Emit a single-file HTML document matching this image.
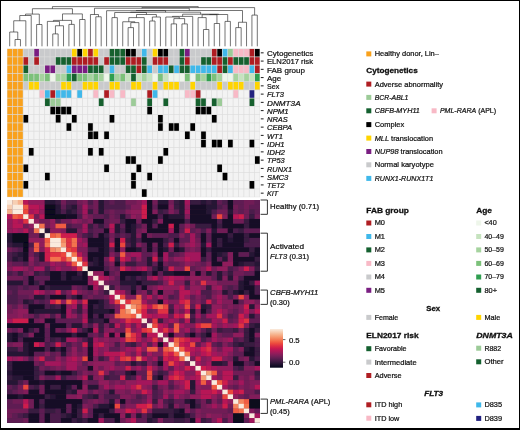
<!DOCTYPE html>
<html lang="en"><head><meta charset="utf-8"><title>Figure</title>
<style>
html,body{margin:0;padding:0;background:#fff;}
body{width:520px;height:430px;overflow:hidden;}
svg{display:block;font-family:"Liberation Sans",sans-serif;fill:#111;}
text{stroke:#111;stroke-width:.22px;}
</style></head><body>
<svg width="520" height="430" viewBox="0 0 520 430">
<defs><filter id="bl" x="-2%" y="-2%" width="104%" height="104%"><feGaussianBlur stdDeviation="0.4"/></filter></defs>
<rect x="7.0" y="48.6" width="253.0" height="148.6" fill="#DCDCDC"/>
<g filter="url(#bl)">
<rect x="7.35" y="48.95" width="4.68" height="7.56" fill="#F9A11B"/>
<rect x="12.73" y="48.95" width="4.68" height="7.56" fill="#F9A11B"/>
<rect x="18.12" y="48.95" width="4.68" height="7.56" fill="#F9A11B"/>
<rect x="23.50" y="48.95" width="4.68" height="7.56" fill="#C9CACC"/>
<rect x="28.88" y="48.95" width="4.68" height="7.56" fill="#C9CACC"/>
<rect x="34.26" y="48.95" width="4.68" height="7.56" fill="#7A1F82"/>
<rect x="39.65" y="48.95" width="4.68" height="7.56" fill="#C9CACC"/>
<rect x="45.03" y="48.95" width="4.68" height="7.56" fill="#C9CACC"/>
<rect x="50.41" y="48.95" width="4.68" height="7.56" fill="#C9CACC"/>
<rect x="55.80" y="48.95" width="4.68" height="7.56" fill="#C9CACC"/>
<rect x="61.18" y="48.95" width="4.68" height="7.56" fill="#C9CACC"/>
<rect x="66.56" y="48.95" width="4.68" height="7.56" fill="#C9CACC"/>
<rect x="71.95" y="48.95" width="4.68" height="7.56" fill="#FFD400"/>
<rect x="77.33" y="48.95" width="4.68" height="7.56" fill="#000000"/>
<rect x="82.71" y="48.95" width="4.68" height="7.56" fill="#FFD400"/>
<rect x="88.09" y="48.95" width="4.68" height="7.56" fill="#AF1E23"/>
<rect x="93.48" y="48.95" width="4.68" height="7.56" fill="#FFD400"/>
<rect x="98.86" y="48.95" width="4.68" height="7.56" fill="#C9CACC"/>
<rect x="104.24" y="48.95" width="4.68" height="7.56" fill="#C9CACC"/>
<rect x="109.63" y="48.95" width="4.68" height="7.56" fill="#14602F"/>
<rect x="115.01" y="48.95" width="4.68" height="7.56" fill="#14602F"/>
<rect x="120.39" y="48.95" width="4.68" height="7.56" fill="#14602F"/>
<rect x="125.78" y="48.95" width="4.68" height="7.56" fill="#000000"/>
<rect x="131.16" y="48.95" width="4.68" height="7.56" fill="#000000"/>
<rect x="136.54" y="48.95" width="4.68" height="7.56" fill="#C9CACC"/>
<rect x="141.92" y="48.95" width="4.68" height="7.56" fill="#3FB8EA"/>
<rect x="147.31" y="48.95" width="4.68" height="7.56" fill="#C9CACC"/>
<rect x="152.69" y="48.95" width="4.68" height="7.56" fill="#FFD400"/>
<rect x="158.07" y="48.95" width="4.68" height="7.56" fill="#000000"/>
<rect x="163.46" y="48.95" width="4.68" height="7.56" fill="#000000"/>
<rect x="168.84" y="48.95" width="4.68" height="7.56" fill="#C9CACC"/>
<rect x="174.22" y="48.95" width="4.68" height="7.56" fill="#C9CACC"/>
<rect x="179.61" y="48.95" width="4.68" height="7.56" fill="#14602F"/>
<rect x="184.99" y="48.95" width="4.68" height="7.56" fill="#7A1F82"/>
<rect x="190.37" y="48.95" width="4.68" height="7.56" fill="#C9CACC"/>
<rect x="195.75" y="48.95" width="4.68" height="7.56" fill="#C9CACC"/>
<rect x="201.14" y="48.95" width="4.68" height="7.56" fill="#C9CACC"/>
<rect x="206.52" y="48.95" width="4.68" height="7.56" fill="#C9CACC"/>
<rect x="211.90" y="48.95" width="4.68" height="7.56" fill="#AF1E23"/>
<rect x="217.29" y="48.95" width="4.68" height="7.56" fill="#000000"/>
<rect x="222.67" y="48.95" width="4.68" height="7.56" fill="#3FB8EA"/>
<rect x="228.05" y="48.95" width="4.68" height="7.56" fill="#9CCB98"/>
<rect x="233.44" y="48.95" width="4.68" height="7.56" fill="#F8B9C6"/>
<rect x="238.82" y="48.95" width="4.68" height="7.56" fill="#F8B9C6"/>
<rect x="244.20" y="48.95" width="4.68" height="7.56" fill="#F8B9C6"/>
<rect x="249.58" y="48.95" width="4.68" height="7.56" fill="#AF1E23"/>
<rect x="254.97" y="48.95" width="4.68" height="7.56" fill="#000000"/>
<rect x="7.35" y="57.21" width="4.68" height="7.56" fill="#F9A11B"/>
<rect x="12.73" y="57.21" width="4.68" height="7.56" fill="#F9A11B"/>
<rect x="18.12" y="57.21" width="4.68" height="7.56" fill="#F9A11B"/>
<rect x="23.50" y="57.21" width="4.68" height="7.56" fill="#AF1E23"/>
<rect x="28.88" y="57.21" width="4.68" height="7.56" fill="#C9CACC"/>
<rect x="34.26" y="57.21" width="4.68" height="7.56" fill="#AF1E23"/>
<rect x="39.65" y="57.21" width="4.68" height="7.56" fill="#C9CACC"/>
<rect x="45.03" y="57.21" width="4.68" height="7.56" fill="#C9CACC"/>
<rect x="50.41" y="57.21" width="4.68" height="7.56" fill="#C9CACC"/>
<rect x="55.80" y="57.21" width="4.68" height="7.56" fill="#14602F"/>
<rect x="61.18" y="57.21" width="4.68" height="7.56" fill="#14602F"/>
<rect x="66.56" y="57.21" width="4.68" height="7.56" fill="#14602F"/>
<rect x="71.95" y="57.21" width="4.68" height="7.56" fill="#AF1E23"/>
<rect x="77.33" y="57.21" width="4.68" height="7.56" fill="#AF1E23"/>
<rect x="82.71" y="57.21" width="4.68" height="7.56" fill="#AF1E23"/>
<rect x="88.09" y="57.21" width="4.68" height="7.56" fill="#AF1E23"/>
<rect x="93.48" y="57.21" width="4.68" height="7.56" fill="#AF1E23"/>
<rect x="98.86" y="57.21" width="4.68" height="7.56" fill="#C9CACC"/>
<rect x="104.24" y="57.21" width="4.68" height="7.56" fill="#AF1E23"/>
<rect x="109.63" y="57.21" width="4.68" height="7.56" fill="#14602F"/>
<rect x="115.01" y="57.21" width="4.68" height="7.56" fill="#14602F"/>
<rect x="120.39" y="57.21" width="4.68" height="7.56" fill="#14602F"/>
<rect x="125.78" y="57.21" width="4.68" height="7.56" fill="#AF1E23"/>
<rect x="131.16" y="57.21" width="4.68" height="7.56" fill="#AF1E23"/>
<rect x="136.54" y="57.21" width="4.68" height="7.56" fill="#AF1E23"/>
<rect x="141.92" y="57.21" width="4.68" height="7.56" fill="#14602F"/>
<rect x="147.31" y="57.21" width="4.68" height="7.56" fill="#C9CACC"/>
<rect x="152.69" y="57.21" width="4.68" height="7.56" fill="#AF1E23"/>
<rect x="158.07" y="57.21" width="4.68" height="7.56" fill="#AF1E23"/>
<rect x="163.46" y="57.21" width="4.68" height="7.56" fill="#AF1E23"/>
<rect x="168.84" y="57.21" width="4.68" height="7.56" fill="#C9CACC"/>
<rect x="174.22" y="57.21" width="4.68" height="7.56" fill="#C9CACC"/>
<rect x="179.61" y="57.21" width="4.68" height="7.56" fill="#14602F"/>
<rect x="184.99" y="57.21" width="4.68" height="7.56" fill="#AF1E23"/>
<rect x="190.37" y="57.21" width="4.68" height="7.56" fill="#C9CACC"/>
<rect x="195.75" y="57.21" width="4.68" height="7.56" fill="#C9CACC"/>
<rect x="201.14" y="57.21" width="4.68" height="7.56" fill="#14602F"/>
<rect x="206.52" y="57.21" width="4.68" height="7.56" fill="#14602F"/>
<rect x="211.90" y="57.21" width="4.68" height="7.56" fill="#AF1E23"/>
<rect x="217.29" y="57.21" width="4.68" height="7.56" fill="#AF1E23"/>
<rect x="222.67" y="57.21" width="4.68" height="7.56" fill="#14602F"/>
<rect x="228.05" y="57.21" width="4.68" height="7.56" fill="#AF1E23"/>
<rect x="233.44" y="57.21" width="4.68" height="7.56" fill="#14602F"/>
<rect x="238.82" y="57.21" width="4.68" height="7.56" fill="#14602F"/>
<rect x="244.20" y="57.21" width="4.68" height="7.56" fill="#14602F"/>
<rect x="249.58" y="57.21" width="4.68" height="7.56" fill="#AF1E23"/>
<rect x="254.97" y="57.21" width="4.68" height="7.56" fill="#AF1E23"/>
<rect x="7.35" y="65.46" width="4.68" height="7.56" fill="#F9A11B"/>
<rect x="12.73" y="65.46" width="4.68" height="7.56" fill="#F9A11B"/>
<rect x="18.12" y="65.46" width="4.68" height="7.56" fill="#F9A11B"/>
<rect x="23.50" y="65.46" width="4.68" height="7.56" fill="#14602F"/>
<rect x="28.88" y="65.46" width="4.68" height="7.56" fill="#C9CACC"/>
<rect x="34.26" y="65.46" width="4.68" height="7.56" fill="#C9CACC"/>
<rect x="39.65" y="65.46" width="4.68" height="7.56" fill="#C9CACC"/>
<rect x="45.03" y="65.46" width="4.68" height="7.56" fill="#7A1F82"/>
<rect x="50.41" y="65.46" width="4.68" height="7.56" fill="#7A1F82"/>
<rect x="55.80" y="65.46" width="4.68" height="7.56" fill="#C9CACC"/>
<rect x="61.18" y="65.46" width="4.68" height="7.56" fill="#C9CACC"/>
<rect x="66.56" y="65.46" width="4.68" height="7.56" fill="#3FB8EA"/>
<rect x="71.95" y="65.46" width="4.68" height="7.56" fill="#7A1F82"/>
<rect x="77.33" y="65.46" width="4.68" height="7.56" fill="#7A1F82"/>
<rect x="82.71" y="65.46" width="4.68" height="7.56" fill="#7A1F82"/>
<rect x="88.09" y="65.46" width="4.68" height="7.56" fill="#14602F"/>
<rect x="93.48" y="65.46" width="4.68" height="7.56" fill="#14602F"/>
<rect x="98.86" y="65.46" width="4.68" height="7.56" fill="#14602F"/>
<rect x="104.24" y="65.46" width="4.68" height="7.56" fill="#C9CACC"/>
<rect x="109.63" y="65.46" width="4.68" height="7.56" fill="#3FB8EA"/>
<rect x="115.01" y="65.46" width="4.68" height="7.56" fill="#C9CACC"/>
<rect x="120.39" y="65.46" width="4.68" height="7.56" fill="#C9CACC"/>
<rect x="125.78" y="65.46" width="4.68" height="7.56" fill="#14602F"/>
<rect x="131.16" y="65.46" width="4.68" height="7.56" fill="#14602F"/>
<rect x="136.54" y="65.46" width="4.68" height="7.56" fill="#AF1E23"/>
<rect x="141.92" y="65.46" width="4.68" height="7.56" fill="#14602F"/>
<rect x="147.31" y="65.46" width="4.68" height="7.56" fill="#3FB8EA"/>
<rect x="152.69" y="65.46" width="4.68" height="7.56" fill="#C9CACC"/>
<rect x="158.07" y="65.46" width="4.68" height="7.56" fill="#3FB8EA"/>
<rect x="163.46" y="65.46" width="4.68" height="7.56" fill="#3FB8EA"/>
<rect x="168.84" y="65.46" width="4.68" height="7.56" fill="#14602F"/>
<rect x="174.22" y="65.46" width="4.68" height="7.56" fill="#3FB8EA"/>
<rect x="179.61" y="65.46" width="4.68" height="7.56" fill="#14602F"/>
<rect x="184.99" y="65.46" width="4.68" height="7.56" fill="#14602F"/>
<rect x="190.37" y="65.46" width="4.68" height="7.56" fill="#3FB8EA"/>
<rect x="195.75" y="65.46" width="4.68" height="7.56" fill="#3FB8EA"/>
<rect x="201.14" y="65.46" width="4.68" height="7.56" fill="#3FB8EA"/>
<rect x="206.52" y="65.46" width="4.68" height="7.56" fill="#3FB8EA"/>
<rect x="211.90" y="65.46" width="4.68" height="7.56" fill="#3FB8EA"/>
<rect x="217.29" y="65.46" width="4.68" height="7.56" fill="#AF1E23"/>
<rect x="222.67" y="65.46" width="4.68" height="7.56" fill="#14602F"/>
<rect x="228.05" y="65.46" width="4.68" height="7.56" fill="#3FB8EA"/>
<rect x="233.44" y="65.46" width="4.68" height="7.56" fill="#F8B9C6"/>
<rect x="238.82" y="65.46" width="4.68" height="7.56" fill="#F8B9C6"/>
<rect x="244.20" y="65.46" width="4.68" height="7.56" fill="#F8B9C6"/>
<rect x="249.58" y="65.46" width="4.68" height="7.56" fill="#3FB8EA"/>
<rect x="254.97" y="65.46" width="4.68" height="7.56" fill="#AF1E23"/>
<rect x="7.35" y="73.72" width="4.68" height="7.56" fill="#F9A11B"/>
<rect x="12.73" y="73.72" width="4.68" height="7.56" fill="#F9A11B"/>
<rect x="18.12" y="73.72" width="4.68" height="7.56" fill="#F9A11B"/>
<rect x="23.50" y="73.72" width="4.68" height="7.56" fill="#7CC17A"/>
<rect x="28.88" y="73.72" width="4.68" height="7.56" fill="#7CC17A"/>
<rect x="34.26" y="73.72" width="4.68" height="7.56" fill="#7CC17A"/>
<rect x="39.65" y="73.72" width="4.68" height="7.56" fill="#A5D39E"/>
<rect x="45.03" y="73.72" width="4.68" height="7.56" fill="#7CC17A"/>
<rect x="50.41" y="73.72" width="4.68" height="7.56" fill="#EEF6EA"/>
<rect x="55.80" y="73.72" width="4.68" height="7.56" fill="#A5D39E"/>
<rect x="61.18" y="73.72" width="4.68" height="7.56" fill="#A5D39E"/>
<rect x="66.56" y="73.72" width="4.68" height="7.56" fill="#2F9E50"/>
<rect x="71.95" y="73.72" width="4.68" height="7.56" fill="#14602F"/>
<rect x="77.33" y="73.72" width="4.68" height="7.56" fill="#7CC17A"/>
<rect x="82.71" y="73.72" width="4.68" height="7.56" fill="#7CC17A"/>
<rect x="88.09" y="73.72" width="4.68" height="7.56" fill="#A5D39E"/>
<rect x="93.48" y="73.72" width="4.68" height="7.56" fill="#7CC17A"/>
<rect x="98.86" y="73.72" width="4.68" height="7.56" fill="#A5D39E"/>
<rect x="104.24" y="73.72" width="4.68" height="7.56" fill="#EEF6EA"/>
<rect x="109.63" y="73.72" width="4.68" height="7.56" fill="#2F9E50"/>
<rect x="115.01" y="73.72" width="4.68" height="7.56" fill="#A5D39E"/>
<rect x="120.39" y="73.72" width="4.68" height="7.56" fill="#7CC17A"/>
<rect x="125.78" y="73.72" width="4.68" height="7.56" fill="#C6E3BF"/>
<rect x="131.16" y="73.72" width="4.68" height="7.56" fill="#14602F"/>
<rect x="136.54" y="73.72" width="4.68" height="7.56" fill="#C6E3BF"/>
<rect x="141.92" y="73.72" width="4.68" height="7.56" fill="#A5D39E"/>
<rect x="147.31" y="73.72" width="4.68" height="7.56" fill="#C6E3BF"/>
<rect x="152.69" y="73.72" width="4.68" height="7.56" fill="#EEF6EA"/>
<rect x="158.07" y="73.72" width="4.68" height="7.56" fill="#7CC17A"/>
<rect x="163.46" y="73.72" width="4.68" height="7.56" fill="#C6E3BF"/>
<rect x="168.84" y="73.72" width="4.68" height="7.56" fill="#EEF6EA"/>
<rect x="174.22" y="73.72" width="4.68" height="7.56" fill="#EEF6EA"/>
<rect x="179.61" y="73.72" width="4.68" height="7.56" fill="#EEF6EA"/>
<rect x="184.99" y="73.72" width="4.68" height="7.56" fill="#7CC17A"/>
<rect x="190.37" y="73.72" width="4.68" height="7.56" fill="#EEF6EA"/>
<rect x="195.75" y="73.72" width="4.68" height="7.56" fill="#7CC17A"/>
<rect x="201.14" y="73.72" width="4.68" height="7.56" fill="#A5D39E"/>
<rect x="206.52" y="73.72" width="4.68" height="7.56" fill="#2F9E50"/>
<rect x="211.90" y="73.72" width="4.68" height="7.56" fill="#7CC17A"/>
<rect x="217.29" y="73.72" width="4.68" height="7.56" fill="#A5D39E"/>
<rect x="222.67" y="73.72" width="4.68" height="7.56" fill="#EEF6EA"/>
<rect x="228.05" y="73.72" width="4.68" height="7.56" fill="#EEF6EA"/>
<rect x="233.44" y="73.72" width="4.68" height="7.56" fill="#A5D39E"/>
<rect x="238.82" y="73.72" width="4.68" height="7.56" fill="#C6E3BF"/>
<rect x="244.20" y="73.72" width="4.68" height="7.56" fill="#A5D39E"/>
<rect x="249.58" y="73.72" width="4.68" height="7.56" fill="#C6E3BF"/>
<rect x="254.97" y="73.72" width="4.68" height="7.56" fill="#2F9E50"/>
<rect x="7.35" y="81.97" width="4.68" height="7.56" fill="#F9A11B"/>
<rect x="12.73" y="81.97" width="4.68" height="7.56" fill="#F9A11B"/>
<rect x="18.12" y="81.97" width="4.68" height="7.56" fill="#F9A11B"/>
<rect x="23.50" y="81.97" width="4.68" height="7.56" fill="#C9CACC"/>
<rect x="28.88" y="81.97" width="4.68" height="7.56" fill="#FFD400"/>
<rect x="34.26" y="81.97" width="4.68" height="7.56" fill="#FFD400"/>
<rect x="39.65" y="81.97" width="4.68" height="7.56" fill="#C9CACC"/>
<rect x="45.03" y="81.97" width="4.68" height="7.56" fill="#C9CACC"/>
<rect x="50.41" y="81.97" width="4.68" height="7.56" fill="#C9CACC"/>
<rect x="55.80" y="81.97" width="4.68" height="7.56" fill="#C9CACC"/>
<rect x="61.18" y="81.97" width="4.68" height="7.56" fill="#FFD400"/>
<rect x="66.56" y="81.97" width="4.68" height="7.56" fill="#FFD400"/>
<rect x="71.95" y="81.97" width="4.68" height="7.56" fill="#C9CACC"/>
<rect x="77.33" y="81.97" width="4.68" height="7.56" fill="#C9CACC"/>
<rect x="82.71" y="81.97" width="4.68" height="7.56" fill="#FFD400"/>
<rect x="88.09" y="81.97" width="4.68" height="7.56" fill="#FFD400"/>
<rect x="93.48" y="81.97" width="4.68" height="7.56" fill="#FFD400"/>
<rect x="98.86" y="81.97" width="4.68" height="7.56" fill="#C9CACC"/>
<rect x="104.24" y="81.97" width="4.68" height="7.56" fill="#C9CACC"/>
<rect x="109.63" y="81.97" width="4.68" height="7.56" fill="#FFD400"/>
<rect x="115.01" y="81.97" width="4.68" height="7.56" fill="#FFD400"/>
<rect x="120.39" y="81.97" width="4.68" height="7.56" fill="#C9CACC"/>
<rect x="125.78" y="81.97" width="4.68" height="7.56" fill="#C9CACC"/>
<rect x="131.16" y="81.97" width="4.68" height="7.56" fill="#FFD400"/>
<rect x="136.54" y="81.97" width="4.68" height="7.56" fill="#FFD400"/>
<rect x="141.92" y="81.97" width="4.68" height="7.56" fill="#C9CACC"/>
<rect x="147.31" y="81.97" width="4.68" height="7.56" fill="#C9CACC"/>
<rect x="152.69" y="81.97" width="4.68" height="7.56" fill="#FFD400"/>
<rect x="158.07" y="81.97" width="4.68" height="7.56" fill="#C9CACC"/>
<rect x="163.46" y="81.97" width="4.68" height="7.56" fill="#FFD400"/>
<rect x="168.84" y="81.97" width="4.68" height="7.56" fill="#FFD400"/>
<rect x="174.22" y="81.97" width="4.68" height="7.56" fill="#FFD400"/>
<rect x="179.61" y="81.97" width="4.68" height="7.56" fill="#C9CACC"/>
<rect x="184.99" y="81.97" width="4.68" height="7.56" fill="#C9CACC"/>
<rect x="190.37" y="81.97" width="4.68" height="7.56" fill="#FFD400"/>
<rect x="195.75" y="81.97" width="4.68" height="7.56" fill="#C9CACC"/>
<rect x="201.14" y="81.97" width="4.68" height="7.56" fill="#C9CACC"/>
<rect x="206.52" y="81.97" width="4.68" height="7.56" fill="#C9CACC"/>
<rect x="211.90" y="81.97" width="4.68" height="7.56" fill="#C9CACC"/>
<rect x="217.29" y="81.97" width="4.68" height="7.56" fill="#FFD400"/>
<rect x="222.67" y="81.97" width="4.68" height="7.56" fill="#C9CACC"/>
<rect x="228.05" y="81.97" width="4.68" height="7.56" fill="#FFD400"/>
<rect x="233.44" y="81.97" width="4.68" height="7.56" fill="#FFD400"/>
<rect x="238.82" y="81.97" width="4.68" height="7.56" fill="#FFD400"/>
<rect x="244.20" y="81.97" width="4.68" height="7.56" fill="#C9CACC"/>
<rect x="249.58" y="81.97" width="4.68" height="7.56" fill="#C9CACC"/>
<rect x="254.97" y="81.97" width="4.68" height="7.56" fill="#FFD400"/>
<rect x="7.35" y="90.23" width="4.68" height="7.56" fill="#F9A11B"/>
<rect x="12.73" y="90.23" width="4.68" height="7.56" fill="#F9A11B"/>
<rect x="18.12" y="90.23" width="4.68" height="7.56" fill="#F9A11B"/>
<rect x="23.50" y="90.23" width="4.68" height="7.56" fill="#F3F3F3"/>
<rect x="28.88" y="90.23" width="4.68" height="7.56" fill="#F3F3F3"/>
<rect x="34.26" y="90.23" width="4.68" height="7.56" fill="#F3F3F3"/>
<rect x="39.65" y="90.23" width="4.68" height="7.56" fill="#F8B9C6"/>
<rect x="45.03" y="90.23" width="4.68" height="7.56" fill="#3FB8EA"/>
<rect x="50.41" y="90.23" width="4.68" height="7.56" fill="#AF1E23"/>
<rect x="55.80" y="90.23" width="4.68" height="7.56" fill="#3FB8EA"/>
<rect x="61.18" y="90.23" width="4.68" height="7.56" fill="#3FB8EA"/>
<rect x="66.56" y="90.23" width="4.68" height="7.56" fill="#3FB8EA"/>
<rect x="71.95" y="90.23" width="4.68" height="7.56" fill="#F3F3F3"/>
<rect x="77.33" y="90.23" width="4.68" height="7.56" fill="#3FB8EA"/>
<rect x="82.71" y="90.23" width="4.68" height="7.56" fill="#F3F3F3"/>
<rect x="88.09" y="90.23" width="4.68" height="7.56" fill="#F3F3F3"/>
<rect x="93.48" y="90.23" width="4.68" height="7.56" fill="#F8B9C6"/>
<rect x="98.86" y="90.23" width="4.68" height="7.56" fill="#F3F3F3"/>
<rect x="104.24" y="90.23" width="4.68" height="7.56" fill="#AF1E23"/>
<rect x="109.63" y="90.23" width="4.68" height="7.56" fill="#F8B9C6"/>
<rect x="115.01" y="90.23" width="4.68" height="7.56" fill="#F3F3F3"/>
<rect x="120.39" y="90.23" width="4.68" height="7.56" fill="#F8B9C6"/>
<rect x="125.78" y="90.23" width="4.68" height="7.56" fill="#F3F3F3"/>
<rect x="131.16" y="90.23" width="4.68" height="7.56" fill="#F3F3F3"/>
<rect x="136.54" y="90.23" width="4.68" height="7.56" fill="#F3F3F3"/>
<rect x="141.92" y="90.23" width="4.68" height="7.56" fill="#F3F3F3"/>
<rect x="147.31" y="90.23" width="4.68" height="7.56" fill="#AF1E23"/>
<rect x="152.69" y="90.23" width="4.68" height="7.56" fill="#3FB8EA"/>
<rect x="158.07" y="90.23" width="4.68" height="7.56" fill="#F3F3F3"/>
<rect x="163.46" y="90.23" width="4.68" height="7.56" fill="#F3F3F3"/>
<rect x="168.84" y="90.23" width="4.68" height="7.56" fill="#F3F3F3"/>
<rect x="174.22" y="90.23" width="4.68" height="7.56" fill="#F3F3F3"/>
<rect x="179.61" y="90.23" width="4.68" height="7.56" fill="#F3F3F3"/>
<rect x="184.99" y="90.23" width="4.68" height="7.56" fill="#F8B9C6"/>
<rect x="190.37" y="90.23" width="4.68" height="7.56" fill="#F8B9C6"/>
<rect x="195.75" y="90.23" width="4.68" height="7.56" fill="#AF1E23"/>
<rect x="201.14" y="90.23" width="4.68" height="7.56" fill="#F3F3F3"/>
<rect x="206.52" y="90.23" width="4.68" height="7.56" fill="#F3F3F3"/>
<rect x="211.90" y="90.23" width="4.68" height="7.56" fill="#F3F3F3"/>
<rect x="217.29" y="90.23" width="4.68" height="7.56" fill="#F3F3F3"/>
<rect x="222.67" y="90.23" width="4.68" height="7.56" fill="#F3F3F3"/>
<rect x="228.05" y="90.23" width="4.68" height="7.56" fill="#F3F3F3"/>
<rect x="233.44" y="90.23" width="4.68" height="7.56" fill="#F8B9C6"/>
<rect x="238.82" y="90.23" width="4.68" height="7.56" fill="#F3F3F3"/>
<rect x="244.20" y="90.23" width="4.68" height="7.56" fill="#F3F3F3"/>
<rect x="249.58" y="90.23" width="4.68" height="7.56" fill="#21207F"/>
<rect x="254.97" y="90.23" width="4.68" height="7.56" fill="#F3F3F3"/>
<rect x="7.35" y="98.48" width="4.68" height="7.56" fill="#F9A11B"/>
<rect x="12.73" y="98.48" width="4.68" height="7.56" fill="#F9A11B"/>
<rect x="18.12" y="98.48" width="4.68" height="7.56" fill="#F9A11B"/>
<rect x="23.50" y="98.48" width="4.68" height="7.56" fill="#F3F3F3"/>
<rect x="28.88" y="98.48" width="4.68" height="7.56" fill="#F3F3F3"/>
<rect x="34.26" y="98.48" width="4.68" height="7.56" fill="#F3F3F3"/>
<rect x="39.65" y="98.48" width="4.68" height="7.56" fill="#F3F3F3"/>
<rect x="45.03" y="98.48" width="4.68" height="7.56" fill="#14602F"/>
<rect x="50.41" y="98.48" width="4.68" height="7.56" fill="#9CCB98"/>
<rect x="55.80" y="98.48" width="4.68" height="7.56" fill="#9CCB98"/>
<rect x="61.18" y="98.48" width="4.68" height="7.56" fill="#F3F3F3"/>
<rect x="66.56" y="98.48" width="4.68" height="7.56" fill="#F3F3F3"/>
<rect x="71.95" y="98.48" width="4.68" height="7.56" fill="#F3F3F3"/>
<rect x="77.33" y="98.48" width="4.68" height="7.56" fill="#F3F3F3"/>
<rect x="82.71" y="98.48" width="4.68" height="7.56" fill="#F3F3F3"/>
<rect x="88.09" y="98.48" width="4.68" height="7.56" fill="#F3F3F3"/>
<rect x="93.48" y="98.48" width="4.68" height="7.56" fill="#F3F3F3"/>
<rect x="98.86" y="98.48" width="4.68" height="7.56" fill="#14602F"/>
<rect x="104.24" y="98.48" width="4.68" height="7.56" fill="#F3F3F3"/>
<rect x="109.63" y="98.48" width="4.68" height="7.56" fill="#F3F3F3"/>
<rect x="115.01" y="98.48" width="4.68" height="7.56" fill="#F3F3F3"/>
<rect x="120.39" y="98.48" width="4.68" height="7.56" fill="#F3F3F3"/>
<rect x="125.78" y="98.48" width="4.68" height="7.56" fill="#F3F3F3"/>
<rect x="131.16" y="98.48" width="4.68" height="7.56" fill="#9CCB98"/>
<rect x="136.54" y="98.48" width="4.68" height="7.56" fill="#F3F3F3"/>
<rect x="141.92" y="98.48" width="4.68" height="7.56" fill="#F3F3F3"/>
<rect x="147.31" y="98.48" width="4.68" height="7.56" fill="#14602F"/>
<rect x="152.69" y="98.48" width="4.68" height="7.56" fill="#F3F3F3"/>
<rect x="158.07" y="98.48" width="4.68" height="7.56" fill="#F3F3F3"/>
<rect x="163.46" y="98.48" width="4.68" height="7.56" fill="#14602F"/>
<rect x="168.84" y="98.48" width="4.68" height="7.56" fill="#F3F3F3"/>
<rect x="174.22" y="98.48" width="4.68" height="7.56" fill="#F3F3F3"/>
<rect x="179.61" y="98.48" width="4.68" height="7.56" fill="#F3F3F3"/>
<rect x="184.99" y="98.48" width="4.68" height="7.56" fill="#F3F3F3"/>
<rect x="190.37" y="98.48" width="4.68" height="7.56" fill="#F3F3F3"/>
<rect x="195.75" y="98.48" width="4.68" height="7.56" fill="#14602F"/>
<rect x="201.14" y="98.48" width="4.68" height="7.56" fill="#14602F"/>
<rect x="206.52" y="98.48" width="4.68" height="7.56" fill="#F3F3F3"/>
<rect x="211.90" y="98.48" width="4.68" height="7.56" fill="#14602F"/>
<rect x="217.29" y="98.48" width="4.68" height="7.56" fill="#9CCB98"/>
<rect x="222.67" y="98.48" width="4.68" height="7.56" fill="#F3F3F3"/>
<rect x="228.05" y="98.48" width="4.68" height="7.56" fill="#F3F3F3"/>
<rect x="233.44" y="98.48" width="4.68" height="7.56" fill="#F3F3F3"/>
<rect x="238.82" y="98.48" width="4.68" height="7.56" fill="#F3F3F3"/>
<rect x="244.20" y="98.48" width="4.68" height="7.56" fill="#F3F3F3"/>
<rect x="249.58" y="98.48" width="4.68" height="7.56" fill="#14602F"/>
<rect x="254.97" y="98.48" width="4.68" height="7.56" fill="#F3F3F3"/>
<rect x="7.35" y="106.74" width="4.68" height="7.56" fill="#F9A11B"/>
<rect x="12.73" y="106.74" width="4.68" height="7.56" fill="#F9A11B"/>
<rect x="18.12" y="106.74" width="4.68" height="7.56" fill="#F9A11B"/>
<rect x="23.50" y="106.74" width="4.68" height="7.56" fill="#F3F3F3"/>
<rect x="28.88" y="106.74" width="4.68" height="7.56" fill="#F3F3F3"/>
<rect x="34.26" y="106.74" width="4.68" height="7.56" fill="#F3F3F3"/>
<rect x="39.65" y="106.74" width="4.68" height="7.56" fill="#F3F3F3"/>
<rect x="45.03" y="106.74" width="4.68" height="7.56" fill="#F3F3F3"/>
<rect x="50.41" y="106.74" width="4.68" height="7.56" fill="#000000"/>
<rect x="55.80" y="106.74" width="4.68" height="7.56" fill="#000000"/>
<rect x="61.18" y="106.74" width="4.68" height="7.56" fill="#000000"/>
<rect x="66.56" y="106.74" width="4.68" height="7.56" fill="#000000"/>
<rect x="71.95" y="106.74" width="4.68" height="7.56" fill="#F3F3F3"/>
<rect x="77.33" y="106.74" width="4.68" height="7.56" fill="#F3F3F3"/>
<rect x="82.71" y="106.74" width="4.68" height="7.56" fill="#F3F3F3"/>
<rect x="88.09" y="106.74" width="4.68" height="7.56" fill="#F3F3F3"/>
<rect x="93.48" y="106.74" width="4.68" height="7.56" fill="#F3F3F3"/>
<rect x="98.86" y="106.74" width="4.68" height="7.56" fill="#F3F3F3"/>
<rect x="104.24" y="106.74" width="4.68" height="7.56" fill="#F3F3F3"/>
<rect x="109.63" y="106.74" width="4.68" height="7.56" fill="#F3F3F3"/>
<rect x="115.01" y="106.74" width="4.68" height="7.56" fill="#F3F3F3"/>
<rect x="120.39" y="106.74" width="4.68" height="7.56" fill="#F3F3F3"/>
<rect x="125.78" y="106.74" width="4.68" height="7.56" fill="#F3F3F3"/>
<rect x="131.16" y="106.74" width="4.68" height="7.56" fill="#F3F3F3"/>
<rect x="136.54" y="106.74" width="4.68" height="7.56" fill="#F3F3F3"/>
<rect x="141.92" y="106.74" width="4.68" height="7.56" fill="#F3F3F3"/>
<rect x="147.31" y="106.74" width="4.68" height="7.56" fill="#000000"/>
<rect x="152.69" y="106.74" width="4.68" height="7.56" fill="#F3F3F3"/>
<rect x="158.07" y="106.74" width="4.68" height="7.56" fill="#F3F3F3"/>
<rect x="163.46" y="106.74" width="4.68" height="7.56" fill="#F3F3F3"/>
<rect x="168.84" y="106.74" width="4.68" height="7.56" fill="#F3F3F3"/>
<rect x="174.22" y="106.74" width="4.68" height="7.56" fill="#F3F3F3"/>
<rect x="179.61" y="106.74" width="4.68" height="7.56" fill="#F3F3F3"/>
<rect x="184.99" y="106.74" width="4.68" height="7.56" fill="#F3F3F3"/>
<rect x="190.37" y="106.74" width="4.68" height="7.56" fill="#F3F3F3"/>
<rect x="195.75" y="106.74" width="4.68" height="7.56" fill="#000000"/>
<rect x="201.14" y="106.74" width="4.68" height="7.56" fill="#000000"/>
<rect x="206.52" y="106.74" width="4.68" height="7.56" fill="#000000"/>
<rect x="211.90" y="106.74" width="4.68" height="7.56" fill="#F3F3F3"/>
<rect x="217.29" y="106.74" width="4.68" height="7.56" fill="#F3F3F3"/>
<rect x="222.67" y="106.74" width="4.68" height="7.56" fill="#F3F3F3"/>
<rect x="228.05" y="106.74" width="4.68" height="7.56" fill="#F3F3F3"/>
<rect x="233.44" y="106.74" width="4.68" height="7.56" fill="#F3F3F3"/>
<rect x="238.82" y="106.74" width="4.68" height="7.56" fill="#F3F3F3"/>
<rect x="244.20" y="106.74" width="4.68" height="7.56" fill="#F3F3F3"/>
<rect x="249.58" y="106.74" width="4.68" height="7.56" fill="#F3F3F3"/>
<rect x="254.97" y="106.74" width="4.68" height="7.56" fill="#F3F3F3"/>
<rect x="7.35" y="114.99" width="4.68" height="7.56" fill="#F9A11B"/>
<rect x="12.73" y="114.99" width="4.68" height="7.56" fill="#F9A11B"/>
<rect x="18.12" y="114.99" width="4.68" height="7.56" fill="#F9A11B"/>
<rect x="23.50" y="114.99" width="4.68" height="7.56" fill="#000000"/>
<rect x="28.88" y="114.99" width="4.68" height="7.56" fill="#F3F3F3"/>
<rect x="34.26" y="114.99" width="4.68" height="7.56" fill="#F3F3F3"/>
<rect x="39.65" y="114.99" width="4.68" height="7.56" fill="#F3F3F3"/>
<rect x="45.03" y="114.99" width="4.68" height="7.56" fill="#F3F3F3"/>
<rect x="50.41" y="114.99" width="4.68" height="7.56" fill="#F3F3F3"/>
<rect x="55.80" y="114.99" width="4.68" height="7.56" fill="#000000"/>
<rect x="61.18" y="114.99" width="4.68" height="7.56" fill="#F3F3F3"/>
<rect x="66.56" y="114.99" width="4.68" height="7.56" fill="#F3F3F3"/>
<rect x="71.95" y="114.99" width="4.68" height="7.56" fill="#000000"/>
<rect x="77.33" y="114.99" width="4.68" height="7.56" fill="#F3F3F3"/>
<rect x="82.71" y="114.99" width="4.68" height="7.56" fill="#F3F3F3"/>
<rect x="88.09" y="114.99" width="4.68" height="7.56" fill="#F3F3F3"/>
<rect x="93.48" y="114.99" width="4.68" height="7.56" fill="#F3F3F3"/>
<rect x="98.86" y="114.99" width="4.68" height="7.56" fill="#F3F3F3"/>
<rect x="104.24" y="114.99" width="4.68" height="7.56" fill="#F3F3F3"/>
<rect x="109.63" y="114.99" width="4.68" height="7.56" fill="#000000"/>
<rect x="115.01" y="114.99" width="4.68" height="7.56" fill="#F3F3F3"/>
<rect x="120.39" y="114.99" width="4.68" height="7.56" fill="#F3F3F3"/>
<rect x="125.78" y="114.99" width="4.68" height="7.56" fill="#F3F3F3"/>
<rect x="131.16" y="114.99" width="4.68" height="7.56" fill="#F3F3F3"/>
<rect x="136.54" y="114.99" width="4.68" height="7.56" fill="#F3F3F3"/>
<rect x="141.92" y="114.99" width="4.68" height="7.56" fill="#F3F3F3"/>
<rect x="147.31" y="114.99" width="4.68" height="7.56" fill="#F3F3F3"/>
<rect x="152.69" y="114.99" width="4.68" height="7.56" fill="#F3F3F3"/>
<rect x="158.07" y="114.99" width="4.68" height="7.56" fill="#000000"/>
<rect x="163.46" y="114.99" width="4.68" height="7.56" fill="#F3F3F3"/>
<rect x="168.84" y="114.99" width="4.68" height="7.56" fill="#F3F3F3"/>
<rect x="174.22" y="114.99" width="4.68" height="7.56" fill="#F3F3F3"/>
<rect x="179.61" y="114.99" width="4.68" height="7.56" fill="#F3F3F3"/>
<rect x="184.99" y="114.99" width="4.68" height="7.56" fill="#F3F3F3"/>
<rect x="190.37" y="114.99" width="4.68" height="7.56" fill="#F3F3F3"/>
<rect x="195.75" y="114.99" width="4.68" height="7.56" fill="#F3F3F3"/>
<rect x="201.14" y="114.99" width="4.68" height="7.56" fill="#F3F3F3"/>
<rect x="206.52" y="114.99" width="4.68" height="7.56" fill="#F3F3F3"/>
<rect x="211.90" y="114.99" width="4.68" height="7.56" fill="#000000"/>
<rect x="217.29" y="114.99" width="4.68" height="7.56" fill="#F3F3F3"/>
<rect x="222.67" y="114.99" width="4.68" height="7.56" fill="#F3F3F3"/>
<rect x="228.05" y="114.99" width="4.68" height="7.56" fill="#F3F3F3"/>
<rect x="233.44" y="114.99" width="4.68" height="7.56" fill="#F3F3F3"/>
<rect x="238.82" y="114.99" width="4.68" height="7.56" fill="#F3F3F3"/>
<rect x="244.20" y="114.99" width="4.68" height="7.56" fill="#F3F3F3"/>
<rect x="249.58" y="114.99" width="4.68" height="7.56" fill="#F3F3F3"/>
<rect x="254.97" y="114.99" width="4.68" height="7.56" fill="#F3F3F3"/>
<rect x="7.35" y="123.25" width="4.68" height="7.56" fill="#F9A11B"/>
<rect x="12.73" y="123.25" width="4.68" height="7.56" fill="#F9A11B"/>
<rect x="18.12" y="123.25" width="4.68" height="7.56" fill="#F9A11B"/>
<rect x="23.50" y="123.25" width="4.68" height="7.56" fill="#F3F3F3"/>
<rect x="28.88" y="123.25" width="4.68" height="7.56" fill="#F3F3F3"/>
<rect x="34.26" y="123.25" width="4.68" height="7.56" fill="#F3F3F3"/>
<rect x="39.65" y="123.25" width="4.68" height="7.56" fill="#F3F3F3"/>
<rect x="45.03" y="123.25" width="4.68" height="7.56" fill="#F3F3F3"/>
<rect x="50.41" y="123.25" width="4.68" height="7.56" fill="#F3F3F3"/>
<rect x="55.80" y="123.25" width="4.68" height="7.56" fill="#F3F3F3"/>
<rect x="61.18" y="123.25" width="4.68" height="7.56" fill="#F3F3F3"/>
<rect x="66.56" y="123.25" width="4.68" height="7.56" fill="#000000"/>
<rect x="71.95" y="123.25" width="4.68" height="7.56" fill="#F3F3F3"/>
<rect x="77.33" y="123.25" width="4.68" height="7.56" fill="#F3F3F3"/>
<rect x="82.71" y="123.25" width="4.68" height="7.56" fill="#F3F3F3"/>
<rect x="88.09" y="123.25" width="4.68" height="7.56" fill="#000000"/>
<rect x="93.48" y="123.25" width="4.68" height="7.56" fill="#F3F3F3"/>
<rect x="98.86" y="123.25" width="4.68" height="7.56" fill="#F3F3F3"/>
<rect x="104.24" y="123.25" width="4.68" height="7.56" fill="#F3F3F3"/>
<rect x="109.63" y="123.25" width="4.68" height="7.56" fill="#F3F3F3"/>
<rect x="115.01" y="123.25" width="4.68" height="7.56" fill="#F3F3F3"/>
<rect x="120.39" y="123.25" width="4.68" height="7.56" fill="#F3F3F3"/>
<rect x="125.78" y="123.25" width="4.68" height="7.56" fill="#F3F3F3"/>
<rect x="131.16" y="123.25" width="4.68" height="7.56" fill="#F3F3F3"/>
<rect x="136.54" y="123.25" width="4.68" height="7.56" fill="#F3F3F3"/>
<rect x="141.92" y="123.25" width="4.68" height="7.56" fill="#F3F3F3"/>
<rect x="147.31" y="123.25" width="4.68" height="7.56" fill="#F3F3F3"/>
<rect x="152.69" y="123.25" width="4.68" height="7.56" fill="#F3F3F3"/>
<rect x="158.07" y="123.25" width="4.68" height="7.56" fill="#000000"/>
<rect x="163.46" y="123.25" width="4.68" height="7.56" fill="#F3F3F3"/>
<rect x="168.84" y="123.25" width="4.68" height="7.56" fill="#000000"/>
<rect x="174.22" y="123.25" width="4.68" height="7.56" fill="#000000"/>
<rect x="179.61" y="123.25" width="4.68" height="7.56" fill="#F3F3F3"/>
<rect x="184.99" y="123.25" width="4.68" height="7.56" fill="#F3F3F3"/>
<rect x="190.37" y="123.25" width="4.68" height="7.56" fill="#000000"/>
<rect x="195.75" y="123.25" width="4.68" height="7.56" fill="#F3F3F3"/>
<rect x="201.14" y="123.25" width="4.68" height="7.56" fill="#F3F3F3"/>
<rect x="206.52" y="123.25" width="4.68" height="7.56" fill="#F3F3F3"/>
<rect x="211.90" y="123.25" width="4.68" height="7.56" fill="#F3F3F3"/>
<rect x="217.29" y="123.25" width="4.68" height="7.56" fill="#F3F3F3"/>
<rect x="222.67" y="123.25" width="4.68" height="7.56" fill="#F3F3F3"/>
<rect x="228.05" y="123.25" width="4.68" height="7.56" fill="#F3F3F3"/>
<rect x="233.44" y="123.25" width="4.68" height="7.56" fill="#F3F3F3"/>
<rect x="238.82" y="123.25" width="4.68" height="7.56" fill="#F3F3F3"/>
<rect x="244.20" y="123.25" width="4.68" height="7.56" fill="#F3F3F3"/>
<rect x="249.58" y="123.25" width="4.68" height="7.56" fill="#F3F3F3"/>
<rect x="254.97" y="123.25" width="4.68" height="7.56" fill="#F3F3F3"/>
<rect x="7.35" y="131.51" width="4.68" height="7.56" fill="#F9A11B"/>
<rect x="12.73" y="131.51" width="4.68" height="7.56" fill="#F9A11B"/>
<rect x="18.12" y="131.51" width="4.68" height="7.56" fill="#F9A11B"/>
<rect x="23.50" y="131.51" width="4.68" height="7.56" fill="#F3F3F3"/>
<rect x="28.88" y="131.51" width="4.68" height="7.56" fill="#F3F3F3"/>
<rect x="34.26" y="131.51" width="4.68" height="7.56" fill="#F3F3F3"/>
<rect x="39.65" y="131.51" width="4.68" height="7.56" fill="#F3F3F3"/>
<rect x="45.03" y="131.51" width="4.68" height="7.56" fill="#F3F3F3"/>
<rect x="50.41" y="131.51" width="4.68" height="7.56" fill="#F3F3F3"/>
<rect x="55.80" y="131.51" width="4.68" height="7.56" fill="#F3F3F3"/>
<rect x="61.18" y="131.51" width="4.68" height="7.56" fill="#F3F3F3"/>
<rect x="66.56" y="131.51" width="4.68" height="7.56" fill="#F3F3F3"/>
<rect x="71.95" y="131.51" width="4.68" height="7.56" fill="#F3F3F3"/>
<rect x="77.33" y="131.51" width="4.68" height="7.56" fill="#F3F3F3"/>
<rect x="82.71" y="131.51" width="4.68" height="7.56" fill="#F3F3F3"/>
<rect x="88.09" y="131.51" width="4.68" height="7.56" fill="#000000"/>
<rect x="93.48" y="131.51" width="4.68" height="7.56" fill="#000000"/>
<rect x="98.86" y="131.51" width="4.68" height="7.56" fill="#F3F3F3"/>
<rect x="104.24" y="131.51" width="4.68" height="7.56" fill="#000000"/>
<rect x="109.63" y="131.51" width="4.68" height="7.56" fill="#F3F3F3"/>
<rect x="115.01" y="131.51" width="4.68" height="7.56" fill="#F3F3F3"/>
<rect x="120.39" y="131.51" width="4.68" height="7.56" fill="#F3F3F3"/>
<rect x="125.78" y="131.51" width="4.68" height="7.56" fill="#F3F3F3"/>
<rect x="131.16" y="131.51" width="4.68" height="7.56" fill="#F3F3F3"/>
<rect x="136.54" y="131.51" width="4.68" height="7.56" fill="#F3F3F3"/>
<rect x="141.92" y="131.51" width="4.68" height="7.56" fill="#F3F3F3"/>
<rect x="147.31" y="131.51" width="4.68" height="7.56" fill="#F3F3F3"/>
<rect x="152.69" y="131.51" width="4.68" height="7.56" fill="#F3F3F3"/>
<rect x="158.07" y="131.51" width="4.68" height="7.56" fill="#F3F3F3"/>
<rect x="163.46" y="131.51" width="4.68" height="7.56" fill="#F3F3F3"/>
<rect x="168.84" y="131.51" width="4.68" height="7.56" fill="#F3F3F3"/>
<rect x="174.22" y="131.51" width="4.68" height="7.56" fill="#F3F3F3"/>
<rect x="179.61" y="131.51" width="4.68" height="7.56" fill="#F3F3F3"/>
<rect x="184.99" y="131.51" width="4.68" height="7.56" fill="#000000"/>
<rect x="190.37" y="131.51" width="4.68" height="7.56" fill="#F3F3F3"/>
<rect x="195.75" y="131.51" width="4.68" height="7.56" fill="#F3F3F3"/>
<rect x="201.14" y="131.51" width="4.68" height="7.56" fill="#000000"/>
<rect x="206.52" y="131.51" width="4.68" height="7.56" fill="#F3F3F3"/>
<rect x="211.90" y="131.51" width="4.68" height="7.56" fill="#F3F3F3"/>
<rect x="217.29" y="131.51" width="4.68" height="7.56" fill="#F3F3F3"/>
<rect x="222.67" y="131.51" width="4.68" height="7.56" fill="#F3F3F3"/>
<rect x="228.05" y="131.51" width="4.68" height="7.56" fill="#F3F3F3"/>
<rect x="233.44" y="131.51" width="4.68" height="7.56" fill="#F3F3F3"/>
<rect x="238.82" y="131.51" width="4.68" height="7.56" fill="#F3F3F3"/>
<rect x="244.20" y="131.51" width="4.68" height="7.56" fill="#F3F3F3"/>
<rect x="249.58" y="131.51" width="4.68" height="7.56" fill="#F3F3F3"/>
<rect x="254.97" y="131.51" width="4.68" height="7.56" fill="#F3F3F3"/>
<rect x="7.35" y="139.76" width="4.68" height="7.56" fill="#F9A11B"/>
<rect x="12.73" y="139.76" width="4.68" height="7.56" fill="#F9A11B"/>
<rect x="18.12" y="139.76" width="4.68" height="7.56" fill="#F9A11B"/>
<rect x="23.50" y="139.76" width="4.68" height="7.56" fill="#F3F3F3"/>
<rect x="28.88" y="139.76" width="4.68" height="7.56" fill="#F3F3F3"/>
<rect x="34.26" y="139.76" width="4.68" height="7.56" fill="#F3F3F3"/>
<rect x="39.65" y="139.76" width="4.68" height="7.56" fill="#F3F3F3"/>
<rect x="45.03" y="139.76" width="4.68" height="7.56" fill="#F3F3F3"/>
<rect x="50.41" y="139.76" width="4.68" height="7.56" fill="#F3F3F3"/>
<rect x="55.80" y="139.76" width="4.68" height="7.56" fill="#F3F3F3"/>
<rect x="61.18" y="139.76" width="4.68" height="7.56" fill="#F3F3F3"/>
<rect x="66.56" y="139.76" width="4.68" height="7.56" fill="#F3F3F3"/>
<rect x="71.95" y="139.76" width="4.68" height="7.56" fill="#F3F3F3"/>
<rect x="77.33" y="139.76" width="4.68" height="7.56" fill="#F3F3F3"/>
<rect x="82.71" y="139.76" width="4.68" height="7.56" fill="#F3F3F3"/>
<rect x="88.09" y="139.76" width="4.68" height="7.56" fill="#F3F3F3"/>
<rect x="93.48" y="139.76" width="4.68" height="7.56" fill="#F3F3F3"/>
<rect x="98.86" y="139.76" width="4.68" height="7.56" fill="#F3F3F3"/>
<rect x="104.24" y="139.76" width="4.68" height="7.56" fill="#F3F3F3"/>
<rect x="109.63" y="139.76" width="4.68" height="7.56" fill="#F3F3F3"/>
<rect x="115.01" y="139.76" width="4.68" height="7.56" fill="#F3F3F3"/>
<rect x="120.39" y="139.76" width="4.68" height="7.56" fill="#F3F3F3"/>
<rect x="125.78" y="139.76" width="4.68" height="7.56" fill="#F3F3F3"/>
<rect x="131.16" y="139.76" width="4.68" height="7.56" fill="#F3F3F3"/>
<rect x="136.54" y="139.76" width="4.68" height="7.56" fill="#F3F3F3"/>
<rect x="141.92" y="139.76" width="4.68" height="7.56" fill="#F3F3F3"/>
<rect x="147.31" y="139.76" width="4.68" height="7.56" fill="#F3F3F3"/>
<rect x="152.69" y="139.76" width="4.68" height="7.56" fill="#F3F3F3"/>
<rect x="158.07" y="139.76" width="4.68" height="7.56" fill="#F3F3F3"/>
<rect x="163.46" y="139.76" width="4.68" height="7.56" fill="#F3F3F3"/>
<rect x="168.84" y="139.76" width="4.68" height="7.56" fill="#F3F3F3"/>
<rect x="174.22" y="139.76" width="4.68" height="7.56" fill="#F3F3F3"/>
<rect x="179.61" y="139.76" width="4.68" height="7.56" fill="#F3F3F3"/>
<rect x="184.99" y="139.76" width="4.68" height="7.56" fill="#F3F3F3"/>
<rect x="190.37" y="139.76" width="4.68" height="7.56" fill="#F3F3F3"/>
<rect x="195.75" y="139.76" width="4.68" height="7.56" fill="#F3F3F3"/>
<rect x="201.14" y="139.76" width="4.68" height="7.56" fill="#000000"/>
<rect x="206.52" y="139.76" width="4.68" height="7.56" fill="#F3F3F3"/>
<rect x="211.90" y="139.76" width="4.68" height="7.56" fill="#000000"/>
<rect x="217.29" y="139.76" width="4.68" height="7.56" fill="#000000"/>
<rect x="222.67" y="139.76" width="4.68" height="7.56" fill="#F3F3F3"/>
<rect x="228.05" y="139.76" width="4.68" height="7.56" fill="#000000"/>
<rect x="233.44" y="139.76" width="4.68" height="7.56" fill="#F3F3F3"/>
<rect x="238.82" y="139.76" width="4.68" height="7.56" fill="#F3F3F3"/>
<rect x="244.20" y="139.76" width="4.68" height="7.56" fill="#F3F3F3"/>
<rect x="249.58" y="139.76" width="4.68" height="7.56" fill="#000000"/>
<rect x="254.97" y="139.76" width="4.68" height="7.56" fill="#F3F3F3"/>
<rect x="7.35" y="148.02" width="4.68" height="7.56" fill="#F9A11B"/>
<rect x="12.73" y="148.02" width="4.68" height="7.56" fill="#F9A11B"/>
<rect x="18.12" y="148.02" width="4.68" height="7.56" fill="#F9A11B"/>
<rect x="23.50" y="148.02" width="4.68" height="7.56" fill="#F3F3F3"/>
<rect x="28.88" y="148.02" width="4.68" height="7.56" fill="#000000"/>
<rect x="34.26" y="148.02" width="4.68" height="7.56" fill="#F3F3F3"/>
<rect x="39.65" y="148.02" width="4.68" height="7.56" fill="#F3F3F3"/>
<rect x="45.03" y="148.02" width="4.68" height="7.56" fill="#F3F3F3"/>
<rect x="50.41" y="148.02" width="4.68" height="7.56" fill="#F3F3F3"/>
<rect x="55.80" y="148.02" width="4.68" height="7.56" fill="#F3F3F3"/>
<rect x="61.18" y="148.02" width="4.68" height="7.56" fill="#F3F3F3"/>
<rect x="66.56" y="148.02" width="4.68" height="7.56" fill="#F3F3F3"/>
<rect x="71.95" y="148.02" width="4.68" height="7.56" fill="#F3F3F3"/>
<rect x="77.33" y="148.02" width="4.68" height="7.56" fill="#F3F3F3"/>
<rect x="82.71" y="148.02" width="4.68" height="7.56" fill="#F3F3F3"/>
<rect x="88.09" y="148.02" width="4.68" height="7.56" fill="#000000"/>
<rect x="93.48" y="148.02" width="4.68" height="7.56" fill="#F3F3F3"/>
<rect x="98.86" y="148.02" width="4.68" height="7.56" fill="#000000"/>
<rect x="104.24" y="148.02" width="4.68" height="7.56" fill="#F3F3F3"/>
<rect x="109.63" y="148.02" width="4.68" height="7.56" fill="#F3F3F3"/>
<rect x="115.01" y="148.02" width="4.68" height="7.56" fill="#F3F3F3"/>
<rect x="120.39" y="148.02" width="4.68" height="7.56" fill="#F3F3F3"/>
<rect x="125.78" y="148.02" width="4.68" height="7.56" fill="#F3F3F3"/>
<rect x="131.16" y="148.02" width="4.68" height="7.56" fill="#F3F3F3"/>
<rect x="136.54" y="148.02" width="4.68" height="7.56" fill="#F3F3F3"/>
<rect x="141.92" y="148.02" width="4.68" height="7.56" fill="#F3F3F3"/>
<rect x="147.31" y="148.02" width="4.68" height="7.56" fill="#F3F3F3"/>
<rect x="152.69" y="148.02" width="4.68" height="7.56" fill="#F3F3F3"/>
<rect x="158.07" y="148.02" width="4.68" height="7.56" fill="#F3F3F3"/>
<rect x="163.46" y="148.02" width="4.68" height="7.56" fill="#000000"/>
<rect x="168.84" y="148.02" width="4.68" height="7.56" fill="#F3F3F3"/>
<rect x="174.22" y="148.02" width="4.68" height="7.56" fill="#F3F3F3"/>
<rect x="179.61" y="148.02" width="4.68" height="7.56" fill="#F3F3F3"/>
<rect x="184.99" y="148.02" width="4.68" height="7.56" fill="#F3F3F3"/>
<rect x="190.37" y="148.02" width="4.68" height="7.56" fill="#F3F3F3"/>
<rect x="195.75" y="148.02" width="4.68" height="7.56" fill="#F3F3F3"/>
<rect x="201.14" y="148.02" width="4.68" height="7.56" fill="#F3F3F3"/>
<rect x="206.52" y="148.02" width="4.68" height="7.56" fill="#F3F3F3"/>
<rect x="211.90" y="148.02" width="4.68" height="7.56" fill="#F3F3F3"/>
<rect x="217.29" y="148.02" width="4.68" height="7.56" fill="#F3F3F3"/>
<rect x="222.67" y="148.02" width="4.68" height="7.56" fill="#F3F3F3"/>
<rect x="228.05" y="148.02" width="4.68" height="7.56" fill="#F3F3F3"/>
<rect x="233.44" y="148.02" width="4.68" height="7.56" fill="#F3F3F3"/>
<rect x="238.82" y="148.02" width="4.68" height="7.56" fill="#F3F3F3"/>
<rect x="244.20" y="148.02" width="4.68" height="7.56" fill="#F3F3F3"/>
<rect x="249.58" y="148.02" width="4.68" height="7.56" fill="#F3F3F3"/>
<rect x="254.97" y="148.02" width="4.68" height="7.56" fill="#F3F3F3"/>
<rect x="7.35" y="156.27" width="4.68" height="7.56" fill="#F9A11B"/>
<rect x="12.73" y="156.27" width="4.68" height="7.56" fill="#F9A11B"/>
<rect x="18.12" y="156.27" width="4.68" height="7.56" fill="#F9A11B"/>
<rect x="23.50" y="156.27" width="4.68" height="7.56" fill="#F3F3F3"/>
<rect x="28.88" y="156.27" width="4.68" height="7.56" fill="#F3F3F3"/>
<rect x="34.26" y="156.27" width="4.68" height="7.56" fill="#F3F3F3"/>
<rect x="39.65" y="156.27" width="4.68" height="7.56" fill="#F3F3F3"/>
<rect x="45.03" y="156.27" width="4.68" height="7.56" fill="#F3F3F3"/>
<rect x="50.41" y="156.27" width="4.68" height="7.56" fill="#F3F3F3"/>
<rect x="55.80" y="156.27" width="4.68" height="7.56" fill="#F3F3F3"/>
<rect x="61.18" y="156.27" width="4.68" height="7.56" fill="#F3F3F3"/>
<rect x="66.56" y="156.27" width="4.68" height="7.56" fill="#F3F3F3"/>
<rect x="71.95" y="156.27" width="4.68" height="7.56" fill="#F3F3F3"/>
<rect x="77.33" y="156.27" width="4.68" height="7.56" fill="#F3F3F3"/>
<rect x="82.71" y="156.27" width="4.68" height="7.56" fill="#F3F3F3"/>
<rect x="88.09" y="156.27" width="4.68" height="7.56" fill="#F3F3F3"/>
<rect x="93.48" y="156.27" width="4.68" height="7.56" fill="#F3F3F3"/>
<rect x="98.86" y="156.27" width="4.68" height="7.56" fill="#F3F3F3"/>
<rect x="104.24" y="156.27" width="4.68" height="7.56" fill="#F3F3F3"/>
<rect x="109.63" y="156.27" width="4.68" height="7.56" fill="#F3F3F3"/>
<rect x="115.01" y="156.27" width="4.68" height="7.56" fill="#F3F3F3"/>
<rect x="120.39" y="156.27" width="4.68" height="7.56" fill="#F3F3F3"/>
<rect x="125.78" y="156.27" width="4.68" height="7.56" fill="#000000"/>
<rect x="131.16" y="156.27" width="4.68" height="7.56" fill="#000000"/>
<rect x="136.54" y="156.27" width="4.68" height="7.56" fill="#F3F3F3"/>
<rect x="141.92" y="156.27" width="4.68" height="7.56" fill="#F3F3F3"/>
<rect x="147.31" y="156.27" width="4.68" height="7.56" fill="#F3F3F3"/>
<rect x="152.69" y="156.27" width="4.68" height="7.56" fill="#F3F3F3"/>
<rect x="158.07" y="156.27" width="4.68" height="7.56" fill="#000000"/>
<rect x="163.46" y="156.27" width="4.68" height="7.56" fill="#F3F3F3"/>
<rect x="168.84" y="156.27" width="4.68" height="7.56" fill="#F3F3F3"/>
<rect x="174.22" y="156.27" width="4.68" height="7.56" fill="#F3F3F3"/>
<rect x="179.61" y="156.27" width="4.68" height="7.56" fill="#F3F3F3"/>
<rect x="184.99" y="156.27" width="4.68" height="7.56" fill="#F3F3F3"/>
<rect x="190.37" y="156.27" width="4.68" height="7.56" fill="#F3F3F3"/>
<rect x="195.75" y="156.27" width="4.68" height="7.56" fill="#F3F3F3"/>
<rect x="201.14" y="156.27" width="4.68" height="7.56" fill="#F3F3F3"/>
<rect x="206.52" y="156.27" width="4.68" height="7.56" fill="#F3F3F3"/>
<rect x="211.90" y="156.27" width="4.68" height="7.56" fill="#F3F3F3"/>
<rect x="217.29" y="156.27" width="4.68" height="7.56" fill="#F3F3F3"/>
<rect x="222.67" y="156.27" width="4.68" height="7.56" fill="#F3F3F3"/>
<rect x="228.05" y="156.27" width="4.68" height="7.56" fill="#F3F3F3"/>
<rect x="233.44" y="156.27" width="4.68" height="7.56" fill="#F3F3F3"/>
<rect x="238.82" y="156.27" width="4.68" height="7.56" fill="#F3F3F3"/>
<rect x="244.20" y="156.27" width="4.68" height="7.56" fill="#F3F3F3"/>
<rect x="249.58" y="156.27" width="4.68" height="7.56" fill="#F3F3F3"/>
<rect x="254.97" y="156.27" width="4.68" height="7.56" fill="#000000"/>
<rect x="7.35" y="164.53" width="4.68" height="7.56" fill="#F9A11B"/>
<rect x="12.73" y="164.53" width="4.68" height="7.56" fill="#F9A11B"/>
<rect x="18.12" y="164.53" width="4.68" height="7.56" fill="#F9A11B"/>
<rect x="23.50" y="164.53" width="4.68" height="7.56" fill="#000000"/>
<rect x="28.88" y="164.53" width="4.68" height="7.56" fill="#F3F3F3"/>
<rect x="34.26" y="164.53" width="4.68" height="7.56" fill="#F3F3F3"/>
<rect x="39.65" y="164.53" width="4.68" height="7.56" fill="#F3F3F3"/>
<rect x="45.03" y="164.53" width="4.68" height="7.56" fill="#F3F3F3"/>
<rect x="50.41" y="164.53" width="4.68" height="7.56" fill="#F3F3F3"/>
<rect x="55.80" y="164.53" width="4.68" height="7.56" fill="#F3F3F3"/>
<rect x="61.18" y="164.53" width="4.68" height="7.56" fill="#F3F3F3"/>
<rect x="66.56" y="164.53" width="4.68" height="7.56" fill="#F3F3F3"/>
<rect x="71.95" y="164.53" width="4.68" height="7.56" fill="#F3F3F3"/>
<rect x="77.33" y="164.53" width="4.68" height="7.56" fill="#F3F3F3"/>
<rect x="82.71" y="164.53" width="4.68" height="7.56" fill="#F3F3F3"/>
<rect x="88.09" y="164.53" width="4.68" height="7.56" fill="#F3F3F3"/>
<rect x="93.48" y="164.53" width="4.68" height="7.56" fill="#F3F3F3"/>
<rect x="98.86" y="164.53" width="4.68" height="7.56" fill="#F3F3F3"/>
<rect x="104.24" y="164.53" width="4.68" height="7.56" fill="#000000"/>
<rect x="109.63" y="164.53" width="4.68" height="7.56" fill="#F3F3F3"/>
<rect x="115.01" y="164.53" width="4.68" height="7.56" fill="#F3F3F3"/>
<rect x="120.39" y="164.53" width="4.68" height="7.56" fill="#F3F3F3"/>
<rect x="125.78" y="164.53" width="4.68" height="7.56" fill="#F3F3F3"/>
<rect x="131.16" y="164.53" width="4.68" height="7.56" fill="#F3F3F3"/>
<rect x="136.54" y="164.53" width="4.68" height="7.56" fill="#000000"/>
<rect x="141.92" y="164.53" width="4.68" height="7.56" fill="#F3F3F3"/>
<rect x="147.31" y="164.53" width="4.68" height="7.56" fill="#F3F3F3"/>
<rect x="152.69" y="164.53" width="4.68" height="7.56" fill="#F3F3F3"/>
<rect x="158.07" y="164.53" width="4.68" height="7.56" fill="#F3F3F3"/>
<rect x="163.46" y="164.53" width="4.68" height="7.56" fill="#F3F3F3"/>
<rect x="168.84" y="164.53" width="4.68" height="7.56" fill="#F3F3F3"/>
<rect x="174.22" y="164.53" width="4.68" height="7.56" fill="#F3F3F3"/>
<rect x="179.61" y="164.53" width="4.68" height="7.56" fill="#F3F3F3"/>
<rect x="184.99" y="164.53" width="4.68" height="7.56" fill="#F3F3F3"/>
<rect x="190.37" y="164.53" width="4.68" height="7.56" fill="#F3F3F3"/>
<rect x="195.75" y="164.53" width="4.68" height="7.56" fill="#F3F3F3"/>
<rect x="201.14" y="164.53" width="4.68" height="7.56" fill="#F3F3F3"/>
<rect x="206.52" y="164.53" width="4.68" height="7.56" fill="#F3F3F3"/>
<rect x="211.90" y="164.53" width="4.68" height="7.56" fill="#F3F3F3"/>
<rect x="217.29" y="164.53" width="4.68" height="7.56" fill="#000000"/>
<rect x="222.67" y="164.53" width="4.68" height="7.56" fill="#F3F3F3"/>
<rect x="228.05" y="164.53" width="4.68" height="7.56" fill="#F3F3F3"/>
<rect x="233.44" y="164.53" width="4.68" height="7.56" fill="#F3F3F3"/>
<rect x="238.82" y="164.53" width="4.68" height="7.56" fill="#F3F3F3"/>
<rect x="244.20" y="164.53" width="4.68" height="7.56" fill="#F3F3F3"/>
<rect x="249.58" y="164.53" width="4.68" height="7.56" fill="#F3F3F3"/>
<rect x="254.97" y="164.53" width="4.68" height="7.56" fill="#F3F3F3"/>
<rect x="7.35" y="172.78" width="4.68" height="7.56" fill="#F9A11B"/>
<rect x="12.73" y="172.78" width="4.68" height="7.56" fill="#F9A11B"/>
<rect x="18.12" y="172.78" width="4.68" height="7.56" fill="#F9A11B"/>
<rect x="23.50" y="172.78" width="4.68" height="7.56" fill="#F3F3F3"/>
<rect x="28.88" y="172.78" width="4.68" height="7.56" fill="#F3F3F3"/>
<rect x="34.26" y="172.78" width="4.68" height="7.56" fill="#F3F3F3"/>
<rect x="39.65" y="172.78" width="4.68" height="7.56" fill="#F3F3F3"/>
<rect x="45.03" y="172.78" width="4.68" height="7.56" fill="#000000"/>
<rect x="50.41" y="172.78" width="4.68" height="7.56" fill="#F3F3F3"/>
<rect x="55.80" y="172.78" width="4.68" height="7.56" fill="#F3F3F3"/>
<rect x="61.18" y="172.78" width="4.68" height="7.56" fill="#F3F3F3"/>
<rect x="66.56" y="172.78" width="4.68" height="7.56" fill="#F3F3F3"/>
<rect x="71.95" y="172.78" width="4.68" height="7.56" fill="#F3F3F3"/>
<rect x="77.33" y="172.78" width="4.68" height="7.56" fill="#F3F3F3"/>
<rect x="82.71" y="172.78" width="4.68" height="7.56" fill="#F3F3F3"/>
<rect x="88.09" y="172.78" width="4.68" height="7.56" fill="#F3F3F3"/>
<rect x="93.48" y="172.78" width="4.68" height="7.56" fill="#F3F3F3"/>
<rect x="98.86" y="172.78" width="4.68" height="7.56" fill="#F3F3F3"/>
<rect x="104.24" y="172.78" width="4.68" height="7.56" fill="#F3F3F3"/>
<rect x="109.63" y="172.78" width="4.68" height="7.56" fill="#F3F3F3"/>
<rect x="115.01" y="172.78" width="4.68" height="7.56" fill="#F3F3F3"/>
<rect x="120.39" y="172.78" width="4.68" height="7.56" fill="#F3F3F3"/>
<rect x="125.78" y="172.78" width="4.68" height="7.56" fill="#F3F3F3"/>
<rect x="131.16" y="172.78" width="4.68" height="7.56" fill="#000000"/>
<rect x="136.54" y="172.78" width="4.68" height="7.56" fill="#F3F3F3"/>
<rect x="141.92" y="172.78" width="4.68" height="7.56" fill="#F3F3F3"/>
<rect x="147.31" y="172.78" width="4.68" height="7.56" fill="#000000"/>
<rect x="152.69" y="172.78" width="4.68" height="7.56" fill="#F3F3F3"/>
<rect x="158.07" y="172.78" width="4.68" height="7.56" fill="#F3F3F3"/>
<rect x="163.46" y="172.78" width="4.68" height="7.56" fill="#F3F3F3"/>
<rect x="168.84" y="172.78" width="4.68" height="7.56" fill="#F3F3F3"/>
<rect x="174.22" y="172.78" width="4.68" height="7.56" fill="#F3F3F3"/>
<rect x="179.61" y="172.78" width="4.68" height="7.56" fill="#F3F3F3"/>
<rect x="184.99" y="172.78" width="4.68" height="7.56" fill="#F3F3F3"/>
<rect x="190.37" y="172.78" width="4.68" height="7.56" fill="#F3F3F3"/>
<rect x="195.75" y="172.78" width="4.68" height="7.56" fill="#F3F3F3"/>
<rect x="201.14" y="172.78" width="4.68" height="7.56" fill="#F3F3F3"/>
<rect x="206.52" y="172.78" width="4.68" height="7.56" fill="#F3F3F3"/>
<rect x="211.90" y="172.78" width="4.68" height="7.56" fill="#F3F3F3"/>
<rect x="217.29" y="172.78" width="4.68" height="7.56" fill="#F3F3F3"/>
<rect x="222.67" y="172.78" width="4.68" height="7.56" fill="#000000"/>
<rect x="228.05" y="172.78" width="4.68" height="7.56" fill="#F3F3F3"/>
<rect x="233.44" y="172.78" width="4.68" height="7.56" fill="#F3F3F3"/>
<rect x="238.82" y="172.78" width="4.68" height="7.56" fill="#F3F3F3"/>
<rect x="244.20" y="172.78" width="4.68" height="7.56" fill="#F3F3F3"/>
<rect x="249.58" y="172.78" width="4.68" height="7.56" fill="#F3F3F3"/>
<rect x="254.97" y="172.78" width="4.68" height="7.56" fill="#F3F3F3"/>
<rect x="7.35" y="181.04" width="4.68" height="7.56" fill="#F9A11B"/>
<rect x="12.73" y="181.04" width="4.68" height="7.56" fill="#F9A11B"/>
<rect x="18.12" y="181.04" width="4.68" height="7.56" fill="#F9A11B"/>
<rect x="23.50" y="181.04" width="4.68" height="7.56" fill="#000000"/>
<rect x="28.88" y="181.04" width="4.68" height="7.56" fill="#F3F3F3"/>
<rect x="34.26" y="181.04" width="4.68" height="7.56" fill="#F3F3F3"/>
<rect x="39.65" y="181.04" width="4.68" height="7.56" fill="#F3F3F3"/>
<rect x="45.03" y="181.04" width="4.68" height="7.56" fill="#F3F3F3"/>
<rect x="50.41" y="181.04" width="4.68" height="7.56" fill="#F3F3F3"/>
<rect x="55.80" y="181.04" width="4.68" height="7.56" fill="#F3F3F3"/>
<rect x="61.18" y="181.04" width="4.68" height="7.56" fill="#F3F3F3"/>
<rect x="66.56" y="181.04" width="4.68" height="7.56" fill="#F3F3F3"/>
<rect x="71.95" y="181.04" width="4.68" height="7.56" fill="#F3F3F3"/>
<rect x="77.33" y="181.04" width="4.68" height="7.56" fill="#F3F3F3"/>
<rect x="82.71" y="181.04" width="4.68" height="7.56" fill="#F3F3F3"/>
<rect x="88.09" y="181.04" width="4.68" height="7.56" fill="#F3F3F3"/>
<rect x="93.48" y="181.04" width="4.68" height="7.56" fill="#F3F3F3"/>
<rect x="98.86" y="181.04" width="4.68" height="7.56" fill="#F3F3F3"/>
<rect x="104.24" y="181.04" width="4.68" height="7.56" fill="#F3F3F3"/>
<rect x="109.63" y="181.04" width="4.68" height="7.56" fill="#F3F3F3"/>
<rect x="115.01" y="181.04" width="4.68" height="7.56" fill="#F3F3F3"/>
<rect x="120.39" y="181.04" width="4.68" height="7.56" fill="#F3F3F3"/>
<rect x="125.78" y="181.04" width="4.68" height="7.56" fill="#F3F3F3"/>
<rect x="131.16" y="181.04" width="4.68" height="7.56" fill="#000000"/>
<rect x="136.54" y="181.04" width="4.68" height="7.56" fill="#F3F3F3"/>
<rect x="141.92" y="181.04" width="4.68" height="7.56" fill="#F3F3F3"/>
<rect x="147.31" y="181.04" width="4.68" height="7.56" fill="#F3F3F3"/>
<rect x="152.69" y="181.04" width="4.68" height="7.56" fill="#F3F3F3"/>
<rect x="158.07" y="181.04" width="4.68" height="7.56" fill="#F3F3F3"/>
<rect x="163.46" y="181.04" width="4.68" height="7.56" fill="#F3F3F3"/>
<rect x="168.84" y="181.04" width="4.68" height="7.56" fill="#F3F3F3"/>
<rect x="174.22" y="181.04" width="4.68" height="7.56" fill="#F3F3F3"/>
<rect x="179.61" y="181.04" width="4.68" height="7.56" fill="#F3F3F3"/>
<rect x="184.99" y="181.04" width="4.68" height="7.56" fill="#F3F3F3"/>
<rect x="190.37" y="181.04" width="4.68" height="7.56" fill="#F3F3F3"/>
<rect x="195.75" y="181.04" width="4.68" height="7.56" fill="#F3F3F3"/>
<rect x="201.14" y="181.04" width="4.68" height="7.56" fill="#F3F3F3"/>
<rect x="206.52" y="181.04" width="4.68" height="7.56" fill="#F3F3F3"/>
<rect x="211.90" y="181.04" width="4.68" height="7.56" fill="#F3F3F3"/>
<rect x="217.29" y="181.04" width="4.68" height="7.56" fill="#F3F3F3"/>
<rect x="222.67" y="181.04" width="4.68" height="7.56" fill="#F3F3F3"/>
<rect x="228.05" y="181.04" width="4.68" height="7.56" fill="#F3F3F3"/>
<rect x="233.44" y="181.04" width="4.68" height="7.56" fill="#F3F3F3"/>
<rect x="238.82" y="181.04" width="4.68" height="7.56" fill="#F3F3F3"/>
<rect x="244.20" y="181.04" width="4.68" height="7.56" fill="#F3F3F3"/>
<rect x="249.58" y="181.04" width="4.68" height="7.56" fill="#000000"/>
<rect x="254.97" y="181.04" width="4.68" height="7.56" fill="#F3F3F3"/>
<rect x="7.35" y="189.29" width="4.68" height="7.56" fill="#F9A11B"/>
<rect x="12.73" y="189.29" width="4.68" height="7.56" fill="#F9A11B"/>
<rect x="18.12" y="189.29" width="4.68" height="7.56" fill="#F9A11B"/>
<rect x="23.50" y="189.29" width="4.68" height="7.56" fill="#F3F3F3"/>
<rect x="28.88" y="189.29" width="4.68" height="7.56" fill="#F3F3F3"/>
<rect x="34.26" y="189.29" width="4.68" height="7.56" fill="#F3F3F3"/>
<rect x="39.65" y="189.29" width="4.68" height="7.56" fill="#F3F3F3"/>
<rect x="45.03" y="189.29" width="4.68" height="7.56" fill="#F3F3F3"/>
<rect x="50.41" y="189.29" width="4.68" height="7.56" fill="#F3F3F3"/>
<rect x="55.80" y="189.29" width="4.68" height="7.56" fill="#F3F3F3"/>
<rect x="61.18" y="189.29" width="4.68" height="7.56" fill="#F3F3F3"/>
<rect x="66.56" y="189.29" width="4.68" height="7.56" fill="#F3F3F3"/>
<rect x="71.95" y="189.29" width="4.68" height="7.56" fill="#F3F3F3"/>
<rect x="77.33" y="189.29" width="4.68" height="7.56" fill="#F3F3F3"/>
<rect x="82.71" y="189.29" width="4.68" height="7.56" fill="#F3F3F3"/>
<rect x="88.09" y="189.29" width="4.68" height="7.56" fill="#F3F3F3"/>
<rect x="93.48" y="189.29" width="4.68" height="7.56" fill="#F3F3F3"/>
<rect x="98.86" y="189.29" width="4.68" height="7.56" fill="#F3F3F3"/>
<rect x="104.24" y="189.29" width="4.68" height="7.56" fill="#F3F3F3"/>
<rect x="109.63" y="189.29" width="4.68" height="7.56" fill="#F3F3F3"/>
<rect x="115.01" y="189.29" width="4.68" height="7.56" fill="#F3F3F3"/>
<rect x="120.39" y="189.29" width="4.68" height="7.56" fill="#F3F3F3"/>
<rect x="125.78" y="189.29" width="4.68" height="7.56" fill="#F3F3F3"/>
<rect x="131.16" y="189.29" width="4.68" height="7.56" fill="#F3F3F3"/>
<rect x="136.54" y="189.29" width="4.68" height="7.56" fill="#F3F3F3"/>
<rect x="141.92" y="189.29" width="4.68" height="7.56" fill="#000000"/>
<rect x="147.31" y="189.29" width="4.68" height="7.56" fill="#F3F3F3"/>
<rect x="152.69" y="189.29" width="4.68" height="7.56" fill="#F3F3F3"/>
<rect x="158.07" y="189.29" width="4.68" height="7.56" fill="#F3F3F3"/>
<rect x="163.46" y="189.29" width="4.68" height="7.56" fill="#F3F3F3"/>
<rect x="168.84" y="189.29" width="4.68" height="7.56" fill="#F3F3F3"/>
<rect x="174.22" y="189.29" width="4.68" height="7.56" fill="#F3F3F3"/>
<rect x="179.61" y="189.29" width="4.68" height="7.56" fill="#F3F3F3"/>
<rect x="184.99" y="189.29" width="4.68" height="7.56" fill="#F3F3F3"/>
<rect x="190.37" y="189.29" width="4.68" height="7.56" fill="#F3F3F3"/>
<rect x="195.75" y="189.29" width="4.68" height="7.56" fill="#F3F3F3"/>
<rect x="201.14" y="189.29" width="4.68" height="7.56" fill="#F3F3F3"/>
<rect x="206.52" y="189.29" width="4.68" height="7.56" fill="#F3F3F3"/>
<rect x="211.90" y="189.29" width="4.68" height="7.56" fill="#F3F3F3"/>
<rect x="217.29" y="189.29" width="4.68" height="7.56" fill="#F3F3F3"/>
<rect x="222.67" y="189.29" width="4.68" height="7.56" fill="#F3F3F3"/>
<rect x="228.05" y="189.29" width="4.68" height="7.56" fill="#F3F3F3"/>
<rect x="233.44" y="189.29" width="4.68" height="7.56" fill="#F3F3F3"/>
<rect x="238.82" y="189.29" width="4.68" height="7.56" fill="#F3F3F3"/>
<rect x="244.20" y="189.29" width="4.68" height="7.56" fill="#F3F3F3"/>
<rect x="249.58" y="189.29" width="4.68" height="7.56" fill="#F3F3F3"/>
<rect x="254.97" y="189.29" width="4.68" height="7.56" fill="#F3F3F3"/>
</g>
<g shape-rendering="crispEdges">
<rect x="7.0" y="200.0" width="253.0" height="222.8" fill="#3a1640"/>
</g><g filter="url(#bl)">
<rect x="7.00" y="200.00" width="5.63" height="4.99" fill="#faebdd"/>
<rect x="12.38" y="200.00" width="5.63" height="4.99" fill="#f7cfb3"/>
<rect x="17.77" y="200.00" width="5.63" height="4.99" fill="#f6b18b"/>
<rect x="23.15" y="200.00" width="5.63" height="4.99" fill="#b71657"/>
<rect x="28.53" y="200.00" width="16.40" height="4.99" fill="#901d5b"/>
<rect x="44.68" y="200.00" width="11.02" height="4.99" fill="#271534"/>
<rect x="55.45" y="200.00" width="5.63" height="4.99" fill="#381a40"/>
<rect x="60.83" y="200.00" width="5.63" height="4.99" fill="#711f57"/>
<rect x="66.21" y="200.00" width="11.02" height="4.99" fill="#4c1d4b"/>
<rect x="76.98" y="200.00" width="5.63" height="4.99" fill="#711f57"/>
<rect x="82.36" y="200.00" width="5.63" height="4.99" fill="#811e5a"/>
<rect x="87.74" y="200.00" width="5.63" height="4.99" fill="#4c1d4b"/>
<rect x="93.13" y="200.00" width="5.63" height="4.99" fill="#711f57"/>
<rect x="98.51" y="200.00" width="5.63" height="4.99" fill="#271534"/>
<rect x="103.89" y="200.00" width="5.63" height="4.99" fill="#4c1d4b"/>
<rect x="109.28" y="200.00" width="5.63" height="4.99" fill="#5e1f52"/>
<rect x="114.66" y="200.00" width="11.02" height="4.99" fill="#4c1d4b"/>
<rect x="125.43" y="200.00" width="11.02" height="4.99" fill="#711f57"/>
<rect x="136.19" y="200.00" width="5.63" height="4.99" fill="#811e5a"/>
<rect x="141.57" y="200.00" width="5.63" height="4.99" fill="#a3195b"/>
<rect x="146.96" y="200.00" width="5.63" height="4.99" fill="#170f28"/>
<rect x="152.34" y="200.00" width="5.63" height="4.99" fill="#711f57"/>
<rect x="157.72" y="200.00" width="11.02" height="4.99" fill="#271534"/>
<rect x="168.49" y="200.00" width="5.63" height="4.99" fill="#711f57"/>
<rect x="173.87" y="200.00" width="5.63" height="4.99" fill="#381a40"/>
<rect x="179.26" y="200.00" width="5.63" height="4.99" fill="#271534"/>
<rect x="184.64" y="200.00" width="5.63" height="4.99" fill="#a3195b"/>
<rect x="190.02" y="200.00" width="11.02" height="4.99" fill="#381a40"/>
<rect x="200.79" y="200.00" width="5.63" height="4.99" fill="#271534"/>
<rect x="206.17" y="200.00" width="5.63" height="4.99" fill="#381a40"/>
<rect x="211.55" y="200.00" width="5.63" height="4.99" fill="#271534"/>
<rect x="216.94" y="200.00" width="5.63" height="4.99" fill="#5e1f52"/>
<rect x="222.32" y="200.00" width="5.63" height="4.99" fill="#4c1d4b"/>
<rect x="227.70" y="200.00" width="5.63" height="4.99" fill="#170f28"/>
<rect x="233.09" y="200.00" width="11.02" height="4.99" fill="#5e1f52"/>
<rect x="243.85" y="200.00" width="11.02" height="4.99" fill="#711f57"/>
<rect x="254.62" y="200.00" width="5.38" height="4.99" fill="#5e1f52"/>
<rect x="7.00" y="204.74" width="5.63" height="4.99" fill="#f7cfb3"/>
<rect x="12.38" y="204.74" width="11.02" height="4.99" fill="#faebdd"/>
<rect x="23.15" y="204.74" width="5.63" height="4.99" fill="#f05c42"/>
<rect x="28.53" y="204.74" width="11.02" height="4.99" fill="#b71657"/>
<rect x="39.30" y="204.74" width="5.63" height="4.99" fill="#a3195b"/>
<rect x="44.68" y="204.74" width="11.02" height="4.99" fill="#08081e"/>
<rect x="55.45" y="204.74" width="5.63" height="4.99" fill="#271534"/>
<rect x="60.83" y="204.74" width="5.63" height="4.99" fill="#5e1f52"/>
<rect x="66.21" y="204.74" width="5.63" height="4.99" fill="#381a40"/>
<rect x="71.60" y="204.74" width="5.63" height="4.99" fill="#271534"/>
<rect x="76.98" y="204.74" width="5.63" height="4.99" fill="#5e1f52"/>
<rect x="82.36" y="204.74" width="5.63" height="4.99" fill="#a3195b"/>
<rect x="87.74" y="204.74" width="5.63" height="4.99" fill="#5e1f52"/>
<rect x="93.13" y="204.74" width="5.63" height="4.99" fill="#711f57"/>
<rect x="98.51" y="204.74" width="5.63" height="4.99" fill="#271534"/>
<rect x="103.89" y="204.74" width="21.78" height="4.99" fill="#4c1d4b"/>
<rect x="125.43" y="204.74" width="5.63" height="4.99" fill="#5e1f52"/>
<rect x="130.81" y="204.74" width="11.02" height="4.99" fill="#811e5a"/>
<rect x="141.57" y="204.74" width="5.63" height="4.99" fill="#ce1d4e"/>
<rect x="146.96" y="204.74" width="5.63" height="4.99" fill="#170f28"/>
<rect x="152.34" y="204.74" width="5.63" height="4.99" fill="#5e1f52"/>
<rect x="157.72" y="204.74" width="11.02" height="4.99" fill="#170f28"/>
<rect x="168.49" y="204.74" width="5.63" height="4.99" fill="#811e5a"/>
<rect x="173.87" y="204.74" width="5.63" height="4.99" fill="#381a40"/>
<rect x="179.26" y="204.74" width="5.63" height="4.99" fill="#271534"/>
<rect x="184.64" y="204.74" width="5.63" height="4.99" fill="#901d5b"/>
<rect x="190.02" y="204.74" width="16.40" height="4.99" fill="#170f28"/>
<rect x="206.17" y="204.74" width="11.02" height="4.99" fill="#271534"/>
<rect x="216.94" y="204.74" width="5.63" height="4.99" fill="#4c1d4b"/>
<rect x="222.32" y="204.74" width="5.63" height="4.99" fill="#5e1f52"/>
<rect x="227.70" y="204.74" width="5.63" height="4.99" fill="#170f28"/>
<rect x="233.09" y="204.74" width="5.63" height="4.99" fill="#711f57"/>
<rect x="238.47" y="204.74" width="5.63" height="4.99" fill="#5e1f52"/>
<rect x="243.85" y="204.74" width="5.63" height="4.99" fill="#711f57"/>
<rect x="249.23" y="204.74" width="10.77" height="4.99" fill="#5e1f52"/>
<rect x="7.00" y="209.48" width="5.63" height="4.99" fill="#f6b18b"/>
<rect x="12.38" y="209.48" width="11.02" height="4.99" fill="#faebdd"/>
<rect x="23.15" y="209.48" width="5.63" height="4.99" fill="#eb463e"/>
<rect x="28.53" y="209.48" width="5.63" height="4.99" fill="#a3195b"/>
<rect x="33.91" y="209.48" width="5.63" height="4.99" fill="#b71657"/>
<rect x="39.30" y="209.48" width="5.63" height="4.99" fill="#901d5b"/>
<rect x="44.68" y="209.48" width="11.02" height="4.99" fill="#08081e"/>
<rect x="55.45" y="209.48" width="5.63" height="4.99" fill="#271534"/>
<rect x="60.83" y="209.48" width="5.63" height="4.99" fill="#4c1d4b"/>
<rect x="66.21" y="209.48" width="5.63" height="4.99" fill="#271534"/>
<rect x="71.60" y="209.48" width="5.63" height="4.99" fill="#381a40"/>
<rect x="76.98" y="209.48" width="5.63" height="4.99" fill="#5e1f52"/>
<rect x="82.36" y="209.48" width="5.63" height="4.99" fill="#a3195b"/>
<rect x="87.74" y="209.48" width="5.63" height="4.99" fill="#381a40"/>
<rect x="93.13" y="209.48" width="5.63" height="4.99" fill="#711f57"/>
<rect x="98.51" y="209.48" width="5.63" height="4.99" fill="#271534"/>
<rect x="103.89" y="209.48" width="5.63" height="4.99" fill="#5e1f52"/>
<rect x="109.28" y="209.48" width="5.63" height="4.99" fill="#711f57"/>
<rect x="114.66" y="209.48" width="11.02" height="4.99" fill="#5e1f52"/>
<rect x="125.43" y="209.48" width="5.63" height="4.99" fill="#811e5a"/>
<rect x="130.81" y="209.48" width="11.02" height="4.99" fill="#901d5b"/>
<rect x="141.57" y="209.48" width="5.63" height="4.99" fill="#ce1d4e"/>
<rect x="146.96" y="209.48" width="5.63" height="4.99" fill="#170f28"/>
<rect x="152.34" y="209.48" width="5.63" height="4.99" fill="#811e5a"/>
<rect x="157.72" y="209.48" width="5.63" height="4.99" fill="#381a40"/>
<rect x="163.11" y="209.48" width="5.63" height="4.99" fill="#4c1d4b"/>
<rect x="168.49" y="209.48" width="5.63" height="4.99" fill="#811e5a"/>
<rect x="173.87" y="209.48" width="5.63" height="4.99" fill="#5e1f52"/>
<rect x="179.26" y="209.48" width="5.63" height="4.99" fill="#271534"/>
<rect x="184.64" y="209.48" width="5.63" height="4.99" fill="#a3195b"/>
<rect x="190.02" y="209.48" width="16.40" height="4.99" fill="#170f28"/>
<rect x="206.17" y="209.48" width="5.63" height="4.99" fill="#271534"/>
<rect x="211.55" y="209.48" width="5.63" height="4.99" fill="#4c1d4b"/>
<rect x="216.94" y="209.48" width="11.02" height="4.99" fill="#711f57"/>
<rect x="227.70" y="209.48" width="5.63" height="4.99" fill="#271534"/>
<rect x="233.09" y="209.48" width="5.63" height="4.99" fill="#711f57"/>
<rect x="238.47" y="209.48" width="5.63" height="4.99" fill="#5e1f52"/>
<rect x="243.85" y="209.48" width="5.63" height="4.99" fill="#711f57"/>
<rect x="249.23" y="209.48" width="5.63" height="4.99" fill="#4c1d4b"/>
<rect x="254.62" y="209.48" width="5.38" height="4.99" fill="#5e1f52"/>
<rect x="7.00" y="214.22" width="5.63" height="4.99" fill="#b71657"/>
<rect x="12.38" y="214.22" width="5.63" height="4.99" fill="#f05c42"/>
<rect x="17.77" y="214.22" width="5.63" height="4.99" fill="#eb463e"/>
<rect x="23.15" y="214.22" width="5.63" height="4.99" fill="#faebdd"/>
<rect x="28.53" y="214.22" width="5.63" height="4.99" fill="#e03143"/>
<rect x="33.91" y="214.22" width="5.63" height="4.99" fill="#711f57"/>
<rect x="39.30" y="214.22" width="5.63" height="4.99" fill="#b71657"/>
<rect x="44.68" y="214.22" width="21.78" height="4.99" fill="#08081e"/>
<rect x="66.21" y="214.22" width="11.02" height="4.99" fill="#170f28"/>
<rect x="76.98" y="214.22" width="5.63" height="4.99" fill="#4c1d4b"/>
<rect x="82.36" y="214.22" width="5.63" height="4.99" fill="#901d5b"/>
<rect x="87.74" y="214.22" width="5.63" height="4.99" fill="#711f57"/>
<rect x="93.13" y="214.22" width="11.02" height="4.99" fill="#5e1f52"/>
<rect x="103.89" y="214.22" width="5.63" height="4.99" fill="#4c1d4b"/>
<rect x="109.28" y="214.22" width="5.63" height="4.99" fill="#711f57"/>
<rect x="114.66" y="214.22" width="5.63" height="4.99" fill="#5e1f52"/>
<rect x="120.04" y="214.22" width="5.63" height="4.99" fill="#271534"/>
<rect x="125.43" y="214.22" width="5.63" height="4.99" fill="#5e1f52"/>
<rect x="130.81" y="214.22" width="5.63" height="4.99" fill="#901d5b"/>
<rect x="136.19" y="214.22" width="5.63" height="4.99" fill="#811e5a"/>
<rect x="141.57" y="214.22" width="5.63" height="4.99" fill="#ce1d4e"/>
<rect x="146.96" y="214.22" width="11.02" height="4.99" fill="#170f28"/>
<rect x="157.72" y="214.22" width="5.63" height="4.99" fill="#4c1d4b"/>
<rect x="163.11" y="214.22" width="5.63" height="4.99" fill="#170f28"/>
<rect x="168.49" y="214.22" width="16.40" height="4.99" fill="#271534"/>
<rect x="184.64" y="214.22" width="5.63" height="4.99" fill="#811e5a"/>
<rect x="190.02" y="214.22" width="21.78" height="4.99" fill="#170f28"/>
<rect x="211.55" y="214.22" width="5.63" height="4.99" fill="#711f57"/>
<rect x="216.94" y="214.22" width="5.63" height="4.99" fill="#eb463e"/>
<rect x="222.32" y="214.22" width="5.63" height="4.99" fill="#811e5a"/>
<rect x="227.70" y="214.22" width="5.63" height="4.99" fill="#170f28"/>
<rect x="233.09" y="214.22" width="5.63" height="4.99" fill="#b71657"/>
<rect x="238.47" y="214.22" width="5.63" height="4.99" fill="#ce1d4e"/>
<rect x="243.85" y="214.22" width="5.63" height="4.99" fill="#711f57"/>
<rect x="249.23" y="214.22" width="5.63" height="4.99" fill="#381a40"/>
<rect x="254.62" y="214.22" width="5.38" height="4.99" fill="#711f57"/>
<rect x="7.00" y="218.96" width="5.63" height="4.99" fill="#901d5b"/>
<rect x="12.38" y="218.96" width="5.63" height="4.99" fill="#b71657"/>
<rect x="17.77" y="218.96" width="5.63" height="4.99" fill="#a3195b"/>
<rect x="23.15" y="218.96" width="5.63" height="4.99" fill="#e03143"/>
<rect x="28.53" y="218.96" width="5.63" height="4.99" fill="#faebdd"/>
<rect x="33.91" y="218.96" width="5.63" height="4.99" fill="#901d5b"/>
<rect x="39.30" y="218.96" width="11.02" height="4.99" fill="#711f57"/>
<rect x="50.06" y="218.96" width="5.63" height="4.99" fill="#901d5b"/>
<rect x="55.45" y="218.96" width="5.63" height="4.99" fill="#4c1d4b"/>
<rect x="60.83" y="218.96" width="11.02" height="4.99" fill="#711f57"/>
<rect x="71.60" y="218.96" width="5.63" height="4.99" fill="#901d5b"/>
<rect x="76.98" y="218.96" width="5.63" height="4.99" fill="#811e5a"/>
<rect x="82.36" y="218.96" width="5.63" height="4.99" fill="#711f57"/>
<rect x="87.74" y="218.96" width="5.63" height="4.99" fill="#811e5a"/>
<rect x="93.13" y="218.96" width="11.02" height="4.99" fill="#170f28"/>
<rect x="103.89" y="218.96" width="5.63" height="4.99" fill="#5e1f52"/>
<rect x="109.28" y="218.96" width="11.02" height="4.99" fill="#711f57"/>
<rect x="120.04" y="218.96" width="5.63" height="4.99" fill="#381a40"/>
<rect x="125.43" y="218.96" width="11.02" height="4.99" fill="#170f28"/>
<rect x="136.19" y="218.96" width="5.63" height="4.99" fill="#711f57"/>
<rect x="141.57" y="218.96" width="11.02" height="4.99" fill="#170f28"/>
<rect x="152.34" y="218.96" width="5.63" height="4.99" fill="#381a40"/>
<rect x="157.72" y="218.96" width="5.63" height="4.99" fill="#811e5a"/>
<rect x="163.11" y="218.96" width="21.78" height="4.99" fill="#170f28"/>
<rect x="184.64" y="218.96" width="5.63" height="4.99" fill="#4c1d4b"/>
<rect x="190.02" y="218.96" width="27.16" height="4.99" fill="#170f28"/>
<rect x="216.94" y="218.96" width="5.63" height="4.99" fill="#4c1d4b"/>
<rect x="222.32" y="218.96" width="11.02" height="4.99" fill="#170f28"/>
<rect x="233.09" y="218.96" width="11.02" height="4.99" fill="#711f57"/>
<rect x="243.85" y="218.96" width="5.63" height="4.99" fill="#381a40"/>
<rect x="249.23" y="218.96" width="10.77" height="4.99" fill="#170f28"/>
<rect x="7.00" y="223.70" width="5.63" height="4.99" fill="#901d5b"/>
<rect x="12.38" y="223.70" width="11.02" height="4.99" fill="#b71657"/>
<rect x="23.15" y="223.70" width="5.63" height="4.99" fill="#711f57"/>
<rect x="28.53" y="223.70" width="5.63" height="4.99" fill="#901d5b"/>
<rect x="33.91" y="223.70" width="5.63" height="4.99" fill="#faebdd"/>
<rect x="39.30" y="223.70" width="5.63" height="4.99" fill="#f3734e"/>
<rect x="44.68" y="223.70" width="5.63" height="4.99" fill="#711f57"/>
<rect x="50.06" y="223.70" width="5.63" height="4.99" fill="#901d5b"/>
<rect x="55.45" y="223.70" width="11.02" height="4.99" fill="#f05c42"/>
<rect x="66.21" y="223.70" width="5.63" height="4.99" fill="#4c1d4b"/>
<rect x="71.60" y="223.70" width="11.02" height="4.99" fill="#5e1f52"/>
<rect x="82.36" y="223.70" width="5.63" height="4.99" fill="#a3195b"/>
<rect x="87.74" y="223.70" width="5.63" height="4.99" fill="#381a40"/>
<rect x="93.13" y="223.70" width="5.63" height="4.99" fill="#5e1f52"/>
<rect x="98.51" y="223.70" width="5.63" height="4.99" fill="#381a40"/>
<rect x="103.89" y="223.70" width="5.63" height="4.99" fill="#5e1f52"/>
<rect x="109.28" y="223.70" width="5.63" height="4.99" fill="#b71657"/>
<rect x="114.66" y="223.70" width="5.63" height="4.99" fill="#271534"/>
<rect x="120.04" y="223.70" width="5.63" height="4.99" fill="#5e1f52"/>
<rect x="125.43" y="223.70" width="5.63" height="4.99" fill="#170f28"/>
<rect x="130.81" y="223.70" width="5.63" height="4.99" fill="#271534"/>
<rect x="136.19" y="223.70" width="5.63" height="4.99" fill="#4c1d4b"/>
<rect x="141.57" y="223.70" width="5.63" height="4.99" fill="#711f57"/>
<rect x="146.96" y="223.70" width="5.63" height="4.99" fill="#170f28"/>
<rect x="152.34" y="223.70" width="5.63" height="4.99" fill="#5e1f52"/>
<rect x="157.72" y="223.70" width="11.02" height="4.99" fill="#170f28"/>
<rect x="168.49" y="223.70" width="5.63" height="4.99" fill="#ce1d4e"/>
<rect x="173.87" y="223.70" width="5.63" height="4.99" fill="#170f28"/>
<rect x="179.26" y="223.70" width="5.63" height="4.99" fill="#5e1f52"/>
<rect x="184.64" y="223.70" width="5.63" height="4.99" fill="#901d5b"/>
<rect x="190.02" y="223.70" width="5.63" height="4.99" fill="#711f57"/>
<rect x="195.40" y="223.70" width="16.40" height="4.99" fill="#381a40"/>
<rect x="211.55" y="223.70" width="5.63" height="4.99" fill="#170f28"/>
<rect x="216.94" y="223.70" width="5.63" height="4.99" fill="#381a40"/>
<rect x="222.32" y="223.70" width="21.78" height="4.99" fill="#170f28"/>
<rect x="243.85" y="223.70" width="5.63" height="4.99" fill="#381a40"/>
<rect x="249.23" y="223.70" width="10.77" height="4.99" fill="#170f28"/>
<rect x="7.00" y="228.44" width="5.63" height="4.99" fill="#901d5b"/>
<rect x="12.38" y="228.44" width="5.63" height="4.99" fill="#a3195b"/>
<rect x="17.77" y="228.44" width="5.63" height="4.99" fill="#901d5b"/>
<rect x="23.15" y="228.44" width="5.63" height="4.99" fill="#b71657"/>
<rect x="28.53" y="228.44" width="5.63" height="4.99" fill="#711f57"/>
<rect x="33.91" y="228.44" width="5.63" height="4.99" fill="#f3734e"/>
<rect x="39.30" y="228.44" width="5.63" height="4.99" fill="#faebdd"/>
<rect x="44.68" y="228.44" width="5.63" height="4.99" fill="#271534"/>
<rect x="50.06" y="228.44" width="11.02" height="4.99" fill="#901d5b"/>
<rect x="60.83" y="228.44" width="5.63" height="4.99" fill="#811e5a"/>
<rect x="66.21" y="228.44" width="11.02" height="4.99" fill="#271534"/>
<rect x="76.98" y="228.44" width="5.63" height="4.99" fill="#711f57"/>
<rect x="82.36" y="228.44" width="5.63" height="4.99" fill="#a3195b"/>
<rect x="87.74" y="228.44" width="5.63" height="4.99" fill="#4c1d4b"/>
<rect x="93.13" y="228.44" width="11.02" height="4.99" fill="#5e1f52"/>
<rect x="103.89" y="228.44" width="5.63" height="4.99" fill="#170f28"/>
<rect x="109.28" y="228.44" width="5.63" height="4.99" fill="#a3195b"/>
<rect x="114.66" y="228.44" width="5.63" height="4.99" fill="#271534"/>
<rect x="120.04" y="228.44" width="5.63" height="4.99" fill="#4c1d4b"/>
<rect x="125.43" y="228.44" width="5.63" height="4.99" fill="#170f28"/>
<rect x="130.81" y="228.44" width="5.63" height="4.99" fill="#271534"/>
<rect x="136.19" y="228.44" width="5.63" height="4.99" fill="#711f57"/>
<rect x="141.57" y="228.44" width="5.63" height="4.99" fill="#811e5a"/>
<rect x="146.96" y="228.44" width="21.78" height="4.99" fill="#170f28"/>
<rect x="168.49" y="228.44" width="5.63" height="4.99" fill="#a3195b"/>
<rect x="173.87" y="228.44" width="5.63" height="4.99" fill="#170f28"/>
<rect x="179.26" y="228.44" width="5.63" height="4.99" fill="#5e1f52"/>
<rect x="184.64" y="228.44" width="5.63" height="4.99" fill="#ce1d4e"/>
<rect x="190.02" y="228.44" width="5.63" height="4.99" fill="#5e1f52"/>
<rect x="195.40" y="228.44" width="5.63" height="4.99" fill="#711f57"/>
<rect x="200.79" y="228.44" width="5.63" height="4.99" fill="#4c1d4b"/>
<rect x="206.17" y="228.44" width="5.63" height="4.99" fill="#811e5a"/>
<rect x="211.55" y="228.44" width="5.63" height="4.99" fill="#271534"/>
<rect x="216.94" y="228.44" width="11.02" height="4.99" fill="#711f57"/>
<rect x="227.70" y="228.44" width="5.63" height="4.99" fill="#170f28"/>
<rect x="233.09" y="228.44" width="5.63" height="4.99" fill="#4c1d4b"/>
<rect x="238.47" y="228.44" width="5.63" height="4.99" fill="#381a40"/>
<rect x="243.85" y="228.44" width="16.15" height="4.99" fill="#5e1f52"/>
<rect x="7.00" y="233.18" width="5.63" height="4.99" fill="#271534"/>
<rect x="12.38" y="233.18" width="16.40" height="4.99" fill="#08081e"/>
<rect x="28.53" y="233.18" width="11.02" height="4.99" fill="#711f57"/>
<rect x="39.30" y="233.18" width="5.63" height="4.99" fill="#271534"/>
<rect x="44.68" y="233.18" width="5.63" height="4.99" fill="#faebdd"/>
<rect x="50.06" y="233.18" width="5.63" height="4.99" fill="#f05c42"/>
<rect x="55.45" y="233.18" width="5.63" height="4.99" fill="#f3734e"/>
<rect x="60.83" y="233.18" width="16.40" height="4.99" fill="#ce1d4e"/>
<rect x="76.98" y="233.18" width="5.63" height="4.99" fill="#711f57"/>
<rect x="82.36" y="233.18" width="5.63" height="4.99" fill="#4c1d4b"/>
<rect x="87.74" y="233.18" width="5.63" height="4.99" fill="#381a40"/>
<rect x="93.13" y="233.18" width="5.63" height="4.99" fill="#5e1f52"/>
<rect x="98.51" y="233.18" width="5.63" height="4.99" fill="#170f28"/>
<rect x="103.89" y="233.18" width="5.63" height="4.99" fill="#381a40"/>
<rect x="109.28" y="233.18" width="5.63" height="4.99" fill="#711f57"/>
<rect x="114.66" y="233.18" width="5.63" height="4.99" fill="#4c1d4b"/>
<rect x="120.04" y="233.18" width="5.63" height="4.99" fill="#5e1f52"/>
<rect x="125.43" y="233.18" width="5.63" height="4.99" fill="#4c1d4b"/>
<rect x="130.81" y="233.18" width="5.63" height="4.99" fill="#271534"/>
<rect x="136.19" y="233.18" width="5.63" height="4.99" fill="#811e5a"/>
<rect x="141.57" y="233.18" width="5.63" height="4.99" fill="#170f28"/>
<rect x="146.96" y="233.18" width="5.63" height="4.99" fill="#711f57"/>
<rect x="152.34" y="233.18" width="16.40" height="4.99" fill="#5e1f52"/>
<rect x="168.49" y="233.18" width="11.02" height="4.99" fill="#4c1d4b"/>
<rect x="179.26" y="233.18" width="5.63" height="4.99" fill="#811e5a"/>
<rect x="184.64" y="233.18" width="5.63" height="4.99" fill="#5e1f52"/>
<rect x="190.02" y="233.18" width="5.63" height="4.99" fill="#a3195b"/>
<rect x="195.40" y="233.18" width="5.63" height="4.99" fill="#5e1f52"/>
<rect x="200.79" y="233.18" width="5.63" height="4.99" fill="#170f28"/>
<rect x="206.17" y="233.18" width="5.63" height="4.99" fill="#5e1f52"/>
<rect x="211.55" y="233.18" width="16.40" height="4.99" fill="#170f28"/>
<rect x="227.70" y="233.18" width="5.63" height="4.99" fill="#381a40"/>
<rect x="233.09" y="233.18" width="11.02" height="4.99" fill="#170f28"/>
<rect x="243.85" y="233.18" width="5.63" height="4.99" fill="#381a40"/>
<rect x="249.23" y="233.18" width="10.77" height="4.99" fill="#170f28"/>
<rect x="7.00" y="237.92" width="5.63" height="4.99" fill="#271534"/>
<rect x="12.38" y="237.92" width="16.40" height="4.99" fill="#08081e"/>
<rect x="28.53" y="237.92" width="16.40" height="4.99" fill="#901d5b"/>
<rect x="44.68" y="237.92" width="5.63" height="4.99" fill="#f05c42"/>
<rect x="50.06" y="237.92" width="11.02" height="4.99" fill="#faebdd"/>
<rect x="60.83" y="237.92" width="5.63" height="4.99" fill="#f4865e"/>
<rect x="66.21" y="237.92" width="5.63" height="4.99" fill="#e03143"/>
<rect x="71.60" y="237.92" width="5.63" height="4.99" fill="#f3734e"/>
<rect x="76.98" y="237.92" width="5.63" height="4.99" fill="#a3195b"/>
<rect x="82.36" y="237.92" width="5.63" height="4.99" fill="#811e5a"/>
<rect x="87.74" y="237.92" width="16.40" height="4.99" fill="#170f28"/>
<rect x="103.89" y="237.92" width="5.63" height="4.99" fill="#271534"/>
<rect x="109.28" y="237.92" width="5.63" height="4.99" fill="#811e5a"/>
<rect x="114.66" y="237.92" width="5.63" height="4.99" fill="#170f28"/>
<rect x="120.04" y="237.92" width="5.63" height="4.99" fill="#ce1d4e"/>
<rect x="125.43" y="237.92" width="5.63" height="4.99" fill="#381a40"/>
<rect x="130.81" y="237.92" width="5.63" height="4.99" fill="#271534"/>
<rect x="136.19" y="237.92" width="5.63" height="4.99" fill="#4c1d4b"/>
<rect x="141.57" y="237.92" width="21.78" height="4.99" fill="#170f28"/>
<rect x="163.11" y="237.92" width="5.63" height="4.99" fill="#381a40"/>
<rect x="168.49" y="237.92" width="5.63" height="4.99" fill="#5e1f52"/>
<rect x="173.87" y="237.92" width="5.63" height="4.99" fill="#170f28"/>
<rect x="179.26" y="237.92" width="11.02" height="4.99" fill="#5e1f52"/>
<rect x="190.02" y="237.92" width="5.63" height="4.99" fill="#a3195b"/>
<rect x="195.40" y="237.92" width="5.63" height="4.99" fill="#711f57"/>
<rect x="200.79" y="237.92" width="5.63" height="4.99" fill="#170f28"/>
<rect x="206.17" y="237.92" width="5.63" height="4.99" fill="#5e1f52"/>
<rect x="211.55" y="237.92" width="5.63" height="4.99" fill="#170f28"/>
<rect x="216.94" y="237.92" width="5.63" height="4.99" fill="#381a40"/>
<rect x="222.32" y="237.92" width="5.63" height="4.99" fill="#170f28"/>
<rect x="227.70" y="237.92" width="5.63" height="4.99" fill="#271534"/>
<rect x="233.09" y="237.92" width="11.02" height="4.99" fill="#170f28"/>
<rect x="243.85" y="237.92" width="5.63" height="4.99" fill="#381a40"/>
<rect x="249.23" y="237.92" width="10.77" height="4.99" fill="#4c1d4b"/>
<rect x="7.00" y="242.66" width="5.63" height="4.99" fill="#381a40"/>
<rect x="12.38" y="242.66" width="11.02" height="4.99" fill="#271534"/>
<rect x="23.15" y="242.66" width="5.63" height="4.99" fill="#08081e"/>
<rect x="28.53" y="242.66" width="5.63" height="4.99" fill="#4c1d4b"/>
<rect x="33.91" y="242.66" width="5.63" height="4.99" fill="#f05c42"/>
<rect x="39.30" y="242.66" width="5.63" height="4.99" fill="#901d5b"/>
<rect x="44.68" y="242.66" width="5.63" height="4.99" fill="#f3734e"/>
<rect x="50.06" y="242.66" width="11.02" height="4.99" fill="#faebdd"/>
<rect x="60.83" y="242.66" width="5.63" height="4.99" fill="#f69c73"/>
<rect x="66.21" y="242.66" width="5.63" height="4.99" fill="#e03143"/>
<rect x="71.60" y="242.66" width="5.63" height="4.99" fill="#f3734e"/>
<rect x="76.98" y="242.66" width="5.63" height="4.99" fill="#901d5b"/>
<rect x="82.36" y="242.66" width="5.63" height="4.99" fill="#a3195b"/>
<rect x="87.74" y="242.66" width="16.40" height="4.99" fill="#170f28"/>
<rect x="103.89" y="242.66" width="5.63" height="4.99" fill="#271534"/>
<rect x="109.28" y="242.66" width="5.63" height="4.99" fill="#ce1d4e"/>
<rect x="114.66" y="242.66" width="5.63" height="4.99" fill="#170f28"/>
<rect x="120.04" y="242.66" width="5.63" height="4.99" fill="#eb463e"/>
<rect x="125.43" y="242.66" width="5.63" height="4.99" fill="#4c1d4b"/>
<rect x="130.81" y="242.66" width="5.63" height="4.99" fill="#271534"/>
<rect x="136.19" y="242.66" width="5.63" height="4.99" fill="#811e5a"/>
<rect x="141.57" y="242.66" width="5.63" height="4.99" fill="#5e1f52"/>
<rect x="146.96" y="242.66" width="5.63" height="4.99" fill="#170f28"/>
<rect x="152.34" y="242.66" width="5.63" height="4.99" fill="#711f57"/>
<rect x="157.72" y="242.66" width="5.63" height="4.99" fill="#170f28"/>
<rect x="163.11" y="242.66" width="5.63" height="4.99" fill="#4c1d4b"/>
<rect x="168.49" y="242.66" width="5.63" height="4.99" fill="#ce1d4e"/>
<rect x="173.87" y="242.66" width="5.63" height="4.99" fill="#381a40"/>
<rect x="179.26" y="242.66" width="5.63" height="4.99" fill="#711f57"/>
<rect x="184.64" y="242.66" width="5.63" height="4.99" fill="#901d5b"/>
<rect x="190.02" y="242.66" width="5.63" height="4.99" fill="#a3195b"/>
<rect x="195.40" y="242.66" width="5.63" height="4.99" fill="#811e5a"/>
<rect x="200.79" y="242.66" width="5.63" height="4.99" fill="#271534"/>
<rect x="206.17" y="242.66" width="5.63" height="4.99" fill="#a3195b"/>
<rect x="211.55" y="242.66" width="5.63" height="4.99" fill="#170f28"/>
<rect x="216.94" y="242.66" width="5.63" height="4.99" fill="#381a40"/>
<rect x="222.32" y="242.66" width="21.78" height="4.99" fill="#170f28"/>
<rect x="243.85" y="242.66" width="16.15" height="4.99" fill="#4c1d4b"/>
<rect x="7.00" y="247.40" width="5.63" height="4.99" fill="#711f57"/>
<rect x="12.38" y="247.40" width="5.63" height="4.99" fill="#5e1f52"/>
<rect x="17.77" y="247.40" width="5.63" height="4.99" fill="#4c1d4b"/>
<rect x="23.15" y="247.40" width="5.63" height="4.99" fill="#08081e"/>
<rect x="28.53" y="247.40" width="5.63" height="4.99" fill="#711f57"/>
<rect x="33.91" y="247.40" width="5.63" height="4.99" fill="#f05c42"/>
<rect x="39.30" y="247.40" width="5.63" height="4.99" fill="#811e5a"/>
<rect x="44.68" y="247.40" width="5.63" height="4.99" fill="#ce1d4e"/>
<rect x="50.06" y="247.40" width="5.63" height="4.99" fill="#f4865e"/>
<rect x="55.45" y="247.40" width="5.63" height="4.99" fill="#f69c73"/>
<rect x="60.83" y="247.40" width="5.63" height="4.99" fill="#faebdd"/>
<rect x="66.21" y="247.40" width="5.63" height="4.99" fill="#eb463e"/>
<rect x="71.60" y="247.40" width="5.63" height="4.99" fill="#e03143"/>
<rect x="76.98" y="247.40" width="11.02" height="4.99" fill="#811e5a"/>
<rect x="87.74" y="247.40" width="11.02" height="4.99" fill="#381a40"/>
<rect x="98.51" y="247.40" width="5.63" height="4.99" fill="#170f28"/>
<rect x="103.89" y="247.40" width="5.63" height="4.99" fill="#271534"/>
<rect x="109.28" y="247.40" width="5.63" height="4.99" fill="#5e1f52"/>
<rect x="114.66" y="247.40" width="5.63" height="4.99" fill="#170f28"/>
<rect x="120.04" y="247.40" width="5.63" height="4.99" fill="#901d5b"/>
<rect x="125.43" y="247.40" width="11.02" height="4.99" fill="#170f28"/>
<rect x="136.19" y="247.40" width="5.63" height="4.99" fill="#271534"/>
<rect x="141.57" y="247.40" width="5.63" height="4.99" fill="#5e1f52"/>
<rect x="146.96" y="247.40" width="5.63" height="4.99" fill="#170f28"/>
<rect x="152.34" y="247.40" width="5.63" height="4.99" fill="#5e1f52"/>
<rect x="157.72" y="247.40" width="5.63" height="4.99" fill="#170f28"/>
<rect x="163.11" y="247.40" width="5.63" height="4.99" fill="#271534"/>
<rect x="168.49" y="247.40" width="5.63" height="4.99" fill="#711f57"/>
<rect x="173.87" y="247.40" width="5.63" height="4.99" fill="#170f28"/>
<rect x="179.26" y="247.40" width="5.63" height="4.99" fill="#271534"/>
<rect x="184.64" y="247.40" width="5.63" height="4.99" fill="#711f57"/>
<rect x="190.02" y="247.40" width="5.63" height="4.99" fill="#811e5a"/>
<rect x="195.40" y="247.40" width="5.63" height="4.99" fill="#711f57"/>
<rect x="200.79" y="247.40" width="5.63" height="4.99" fill="#170f28"/>
<rect x="206.17" y="247.40" width="5.63" height="4.99" fill="#381a40"/>
<rect x="211.55" y="247.40" width="37.93" height="4.99" fill="#170f28"/>
<rect x="249.23" y="247.40" width="5.63" height="4.99" fill="#381a40"/>
<rect x="254.62" y="247.40" width="5.38" height="4.99" fill="#170f28"/>
<rect x="7.00" y="252.14" width="5.63" height="4.99" fill="#4c1d4b"/>
<rect x="12.38" y="252.14" width="5.63" height="4.99" fill="#381a40"/>
<rect x="17.77" y="252.14" width="5.63" height="4.99" fill="#271534"/>
<rect x="23.15" y="252.14" width="5.63" height="4.99" fill="#170f28"/>
<rect x="28.53" y="252.14" width="5.63" height="4.99" fill="#711f57"/>
<rect x="33.91" y="252.14" width="5.63" height="4.99" fill="#4c1d4b"/>
<rect x="39.30" y="252.14" width="5.63" height="4.99" fill="#271534"/>
<rect x="44.68" y="252.14" width="5.63" height="4.99" fill="#ce1d4e"/>
<rect x="50.06" y="252.14" width="11.02" height="4.99" fill="#e03143"/>
<rect x="60.83" y="252.14" width="5.63" height="4.99" fill="#eb463e"/>
<rect x="66.21" y="252.14" width="5.63" height="4.99" fill="#faebdd"/>
<rect x="71.60" y="252.14" width="5.63" height="4.99" fill="#f3734e"/>
<rect x="76.98" y="252.14" width="5.63" height="4.99" fill="#b71657"/>
<rect x="82.36" y="252.14" width="5.63" height="4.99" fill="#811e5a"/>
<rect x="87.74" y="252.14" width="16.40" height="4.99" fill="#170f28"/>
<rect x="103.89" y="252.14" width="5.63" height="4.99" fill="#271534"/>
<rect x="109.28" y="252.14" width="5.63" height="4.99" fill="#811e5a"/>
<rect x="114.66" y="252.14" width="5.63" height="4.99" fill="#5e1f52"/>
<rect x="120.04" y="252.14" width="5.63" height="4.99" fill="#f05c42"/>
<rect x="125.43" y="252.14" width="5.63" height="4.99" fill="#901d5b"/>
<rect x="130.81" y="252.14" width="11.02" height="4.99" fill="#a3195b"/>
<rect x="141.57" y="252.14" width="11.02" height="4.99" fill="#5e1f52"/>
<rect x="152.34" y="252.14" width="5.63" height="4.99" fill="#901d5b"/>
<rect x="157.72" y="252.14" width="5.63" height="4.99" fill="#170f28"/>
<rect x="163.11" y="252.14" width="5.63" height="4.99" fill="#a3195b"/>
<rect x="168.49" y="252.14" width="5.63" height="4.99" fill="#4c1d4b"/>
<rect x="173.87" y="252.14" width="5.63" height="4.99" fill="#5e1f52"/>
<rect x="179.26" y="252.14" width="5.63" height="4.99" fill="#711f57"/>
<rect x="184.64" y="252.14" width="16.40" height="4.99" fill="#a3195b"/>
<rect x="200.79" y="252.14" width="5.63" height="4.99" fill="#170f28"/>
<rect x="206.17" y="252.14" width="5.63" height="4.99" fill="#5e1f52"/>
<rect x="211.55" y="252.14" width="5.63" height="4.99" fill="#170f28"/>
<rect x="216.94" y="252.14" width="5.63" height="4.99" fill="#271534"/>
<rect x="222.32" y="252.14" width="5.63" height="4.99" fill="#381a40"/>
<rect x="227.70" y="252.14" width="5.63" height="4.99" fill="#811e5a"/>
<rect x="233.09" y="252.14" width="5.63" height="4.99" fill="#170f28"/>
<rect x="238.47" y="252.14" width="11.02" height="4.99" fill="#5e1f52"/>
<rect x="249.23" y="252.14" width="5.63" height="4.99" fill="#271534"/>
<rect x="254.62" y="252.14" width="5.38" height="4.99" fill="#170f28"/>
<rect x="7.00" y="256.89" width="5.63" height="4.99" fill="#4c1d4b"/>
<rect x="12.38" y="256.89" width="5.63" height="4.99" fill="#271534"/>
<rect x="17.77" y="256.89" width="5.63" height="4.99" fill="#381a40"/>
<rect x="23.15" y="256.89" width="5.63" height="4.99" fill="#170f28"/>
<rect x="28.53" y="256.89" width="5.63" height="4.99" fill="#901d5b"/>
<rect x="33.91" y="256.89" width="5.63" height="4.99" fill="#5e1f52"/>
<rect x="39.30" y="256.89" width="5.63" height="4.99" fill="#271534"/>
<rect x="44.68" y="256.89" width="5.63" height="4.99" fill="#ce1d4e"/>
<rect x="50.06" y="256.89" width="11.02" height="4.99" fill="#f3734e"/>
<rect x="60.83" y="256.89" width="5.63" height="4.99" fill="#e03143"/>
<rect x="66.21" y="256.89" width="5.63" height="4.99" fill="#f3734e"/>
<rect x="71.60" y="256.89" width="5.63" height="4.99" fill="#faebdd"/>
<rect x="76.98" y="256.89" width="5.63" height="4.99" fill="#f05c42"/>
<rect x="82.36" y="256.89" width="5.63" height="4.99" fill="#a3195b"/>
<rect x="87.74" y="256.89" width="5.63" height="4.99" fill="#170f28"/>
<rect x="93.13" y="256.89" width="5.63" height="4.99" fill="#271534"/>
<rect x="98.51" y="256.89" width="5.63" height="4.99" fill="#170f28"/>
<rect x="103.89" y="256.89" width="5.63" height="4.99" fill="#711f57"/>
<rect x="109.28" y="256.89" width="5.63" height="4.99" fill="#ce1d4e"/>
<rect x="114.66" y="256.89" width="5.63" height="4.99" fill="#381a40"/>
<rect x="120.04" y="256.89" width="5.63" height="4.99" fill="#ce1d4e"/>
<rect x="125.43" y="256.89" width="5.63" height="4.99" fill="#a3195b"/>
<rect x="130.81" y="256.89" width="5.63" height="4.99" fill="#5e1f52"/>
<rect x="136.19" y="256.89" width="5.63" height="4.99" fill="#901d5b"/>
<rect x="141.57" y="256.89" width="5.63" height="4.99" fill="#5e1f52"/>
<rect x="146.96" y="256.89" width="5.63" height="4.99" fill="#271534"/>
<rect x="152.34" y="256.89" width="5.63" height="4.99" fill="#ce1d4e"/>
<rect x="157.72" y="256.89" width="5.63" height="4.99" fill="#381a40"/>
<rect x="163.11" y="256.89" width="5.63" height="4.99" fill="#a3195b"/>
<rect x="168.49" y="256.89" width="5.63" height="4.99" fill="#711f57"/>
<rect x="173.87" y="256.89" width="11.02" height="4.99" fill="#901d5b"/>
<rect x="184.64" y="256.89" width="5.63" height="4.99" fill="#b71657"/>
<rect x="190.02" y="256.89" width="11.02" height="4.99" fill="#a3195b"/>
<rect x="200.79" y="256.89" width="5.63" height="4.99" fill="#381a40"/>
<rect x="206.17" y="256.89" width="5.63" height="4.99" fill="#5e1f52"/>
<rect x="211.55" y="256.89" width="5.63" height="4.99" fill="#170f28"/>
<rect x="216.94" y="256.89" width="5.63" height="4.99" fill="#5e1f52"/>
<rect x="222.32" y="256.89" width="5.63" height="4.99" fill="#271534"/>
<rect x="227.70" y="256.89" width="5.63" height="4.99" fill="#811e5a"/>
<rect x="233.09" y="256.89" width="21.78" height="4.99" fill="#170f28"/>
<rect x="254.62" y="256.89" width="5.38" height="4.99" fill="#381a40"/>
<rect x="7.00" y="261.63" width="5.63" height="4.99" fill="#711f57"/>
<rect x="12.38" y="261.63" width="11.02" height="4.99" fill="#5e1f52"/>
<rect x="23.15" y="261.63" width="5.63" height="4.99" fill="#4c1d4b"/>
<rect x="28.53" y="261.63" width="5.63" height="4.99" fill="#811e5a"/>
<rect x="33.91" y="261.63" width="5.63" height="4.99" fill="#5e1f52"/>
<rect x="39.30" y="261.63" width="11.02" height="4.99" fill="#711f57"/>
<rect x="50.06" y="261.63" width="5.63" height="4.99" fill="#a3195b"/>
<rect x="55.45" y="261.63" width="5.63" height="4.99" fill="#901d5b"/>
<rect x="60.83" y="261.63" width="5.63" height="4.99" fill="#811e5a"/>
<rect x="66.21" y="261.63" width="5.63" height="4.99" fill="#b71657"/>
<rect x="71.60" y="261.63" width="5.63" height="4.99" fill="#f05c42"/>
<rect x="76.98" y="261.63" width="5.63" height="4.99" fill="#faebdd"/>
<rect x="82.36" y="261.63" width="5.63" height="4.99" fill="#e03143"/>
<rect x="87.74" y="261.63" width="5.63" height="4.99" fill="#381a40"/>
<rect x="93.13" y="261.63" width="5.63" height="4.99" fill="#271534"/>
<rect x="98.51" y="261.63" width="5.63" height="4.99" fill="#170f28"/>
<rect x="103.89" y="261.63" width="5.63" height="4.99" fill="#5e1f52"/>
<rect x="109.28" y="261.63" width="5.63" height="4.99" fill="#811e5a"/>
<rect x="114.66" y="261.63" width="5.63" height="4.99" fill="#170f28"/>
<rect x="120.04" y="261.63" width="5.63" height="4.99" fill="#811e5a"/>
<rect x="125.43" y="261.63" width="11.02" height="4.99" fill="#381a40"/>
<rect x="136.19" y="261.63" width="11.02" height="4.99" fill="#5e1f52"/>
<rect x="146.96" y="261.63" width="5.63" height="4.99" fill="#271534"/>
<rect x="152.34" y="261.63" width="5.63" height="4.99" fill="#5e1f52"/>
<rect x="157.72" y="261.63" width="5.63" height="4.99" fill="#170f28"/>
<rect x="163.11" y="261.63" width="5.63" height="4.99" fill="#711f57"/>
<rect x="168.49" y="261.63" width="11.02" height="4.99" fill="#5e1f52"/>
<rect x="179.26" y="261.63" width="5.63" height="4.99" fill="#711f57"/>
<rect x="184.64" y="261.63" width="5.63" height="4.99" fill="#901d5b"/>
<rect x="190.02" y="261.63" width="5.63" height="4.99" fill="#811e5a"/>
<rect x="195.40" y="261.63" width="5.63" height="4.99" fill="#711f57"/>
<rect x="200.79" y="261.63" width="5.63" height="4.99" fill="#5e1f52"/>
<rect x="206.17" y="261.63" width="5.63" height="4.99" fill="#811e5a"/>
<rect x="211.55" y="261.63" width="11.02" height="4.99" fill="#170f28"/>
<rect x="222.32" y="261.63" width="11.02" height="4.99" fill="#901d5b"/>
<rect x="233.09" y="261.63" width="5.63" height="4.99" fill="#170f28"/>
<rect x="238.47" y="261.63" width="5.63" height="4.99" fill="#271534"/>
<rect x="243.85" y="261.63" width="11.02" height="4.99" fill="#381a40"/>
<rect x="254.62" y="261.63" width="5.38" height="4.99" fill="#271534"/>
<rect x="7.00" y="266.37" width="5.63" height="4.99" fill="#811e5a"/>
<rect x="12.38" y="266.37" width="11.02" height="4.99" fill="#a3195b"/>
<rect x="23.15" y="266.37" width="5.63" height="4.99" fill="#901d5b"/>
<rect x="28.53" y="266.37" width="5.63" height="4.99" fill="#711f57"/>
<rect x="33.91" y="266.37" width="11.02" height="4.99" fill="#a3195b"/>
<rect x="44.68" y="266.37" width="5.63" height="4.99" fill="#4c1d4b"/>
<rect x="50.06" y="266.37" width="5.63" height="4.99" fill="#811e5a"/>
<rect x="55.45" y="266.37" width="5.63" height="4.99" fill="#a3195b"/>
<rect x="60.83" y="266.37" width="11.02" height="4.99" fill="#811e5a"/>
<rect x="71.60" y="266.37" width="5.63" height="4.99" fill="#a3195b"/>
<rect x="76.98" y="266.37" width="5.63" height="4.99" fill="#e03143"/>
<rect x="82.36" y="266.37" width="5.63" height="4.99" fill="#faebdd"/>
<rect x="87.74" y="266.37" width="16.40" height="4.99" fill="#170f28"/>
<rect x="103.89" y="266.37" width="5.63" height="4.99" fill="#4c1d4b"/>
<rect x="109.28" y="266.37" width="5.63" height="4.99" fill="#711f57"/>
<rect x="114.66" y="266.37" width="5.63" height="4.99" fill="#5e1f52"/>
<rect x="120.04" y="266.37" width="5.63" height="4.99" fill="#d82748"/>
<rect x="125.43" y="266.37" width="5.63" height="4.99" fill="#a3195b"/>
<rect x="130.81" y="266.37" width="5.63" height="4.99" fill="#811e5a"/>
<rect x="136.19" y="266.37" width="5.63" height="4.99" fill="#a3195b"/>
<rect x="141.57" y="266.37" width="5.63" height="4.99" fill="#b71657"/>
<rect x="146.96" y="266.37" width="5.63" height="4.99" fill="#711f57"/>
<rect x="152.34" y="266.37" width="5.63" height="4.99" fill="#381a40"/>
<rect x="157.72" y="266.37" width="5.63" height="4.99" fill="#170f28"/>
<rect x="163.11" y="266.37" width="5.63" height="4.99" fill="#4c1d4b"/>
<rect x="168.49" y="266.37" width="5.63" height="4.99" fill="#ce1d4e"/>
<rect x="173.87" y="266.37" width="11.02" height="4.99" fill="#811e5a"/>
<rect x="184.64" y="266.37" width="5.63" height="4.99" fill="#eb463e"/>
<rect x="190.02" y="266.37" width="5.63" height="4.99" fill="#5e1f52"/>
<rect x="195.40" y="266.37" width="5.63" height="4.99" fill="#711f57"/>
<rect x="200.79" y="266.37" width="5.63" height="4.99" fill="#811e5a"/>
<rect x="206.17" y="266.37" width="5.63" height="4.99" fill="#b71657"/>
<rect x="211.55" y="266.37" width="5.63" height="4.99" fill="#711f57"/>
<rect x="216.94" y="266.37" width="11.02" height="4.99" fill="#901d5b"/>
<rect x="227.70" y="266.37" width="5.63" height="4.99" fill="#4c1d4b"/>
<rect x="233.09" y="266.37" width="5.63" height="4.99" fill="#5e1f52"/>
<rect x="238.47" y="266.37" width="5.63" height="4.99" fill="#811e5a"/>
<rect x="243.85" y="266.37" width="5.63" height="4.99" fill="#ce1d4e"/>
<rect x="249.23" y="266.37" width="5.63" height="4.99" fill="#811e5a"/>
<rect x="254.62" y="266.37" width="5.38" height="4.99" fill="#381a40"/>
<rect x="7.00" y="271.11" width="5.63" height="4.99" fill="#4c1d4b"/>
<rect x="12.38" y="271.11" width="5.63" height="4.99" fill="#5e1f52"/>
<rect x="17.77" y="271.11" width="5.63" height="4.99" fill="#381a40"/>
<rect x="23.15" y="271.11" width="5.63" height="4.99" fill="#711f57"/>
<rect x="28.53" y="271.11" width="5.63" height="4.99" fill="#811e5a"/>
<rect x="33.91" y="271.11" width="5.63" height="4.99" fill="#381a40"/>
<rect x="39.30" y="271.11" width="5.63" height="4.99" fill="#4c1d4b"/>
<rect x="44.68" y="271.11" width="5.63" height="4.99" fill="#381a40"/>
<rect x="50.06" y="271.11" width="11.02" height="4.99" fill="#170f28"/>
<rect x="60.83" y="271.11" width="5.63" height="4.99" fill="#381a40"/>
<rect x="66.21" y="271.11" width="11.02" height="4.99" fill="#170f28"/>
<rect x="76.98" y="271.11" width="5.63" height="4.99" fill="#381a40"/>
<rect x="82.36" y="271.11" width="5.63" height="4.99" fill="#170f28"/>
<rect x="87.74" y="271.11" width="5.63" height="4.99" fill="#faebdd"/>
<rect x="93.13" y="271.11" width="11.02" height="4.99" fill="#901d5b"/>
<rect x="103.89" y="271.11" width="5.63" height="4.99" fill="#170f28"/>
<rect x="109.28" y="271.11" width="5.63" height="4.99" fill="#5e1f52"/>
<rect x="114.66" y="271.11" width="5.63" height="4.99" fill="#711f57"/>
<rect x="120.04" y="271.11" width="21.78" height="4.99" fill="#170f28"/>
<rect x="141.57" y="271.11" width="5.63" height="4.99" fill="#271534"/>
<rect x="146.96" y="271.11" width="5.63" height="4.99" fill="#4c1d4b"/>
<rect x="152.34" y="271.11" width="5.63" height="4.99" fill="#170f28"/>
<rect x="157.72" y="271.11" width="5.63" height="4.99" fill="#5e1f52"/>
<rect x="163.11" y="271.11" width="11.02" height="4.99" fill="#271534"/>
<rect x="173.87" y="271.11" width="16.40" height="4.99" fill="#170f28"/>
<rect x="190.02" y="271.11" width="5.63" height="4.99" fill="#811e5a"/>
<rect x="195.40" y="271.11" width="5.63" height="4.99" fill="#170f28"/>
<rect x="200.79" y="271.11" width="5.63" height="4.99" fill="#711f57"/>
<rect x="206.17" y="271.11" width="5.63" height="4.99" fill="#271534"/>
<rect x="211.55" y="271.11" width="5.63" height="4.99" fill="#5e1f52"/>
<rect x="216.94" y="271.11" width="5.63" height="4.99" fill="#271534"/>
<rect x="222.32" y="271.11" width="5.63" height="4.99" fill="#5e1f52"/>
<rect x="227.70" y="271.11" width="5.63" height="4.99" fill="#381a40"/>
<rect x="233.09" y="271.11" width="11.02" height="4.99" fill="#711f57"/>
<rect x="243.85" y="271.11" width="11.02" height="4.99" fill="#5e1f52"/>
<rect x="254.62" y="271.11" width="5.38" height="4.99" fill="#170f28"/>
<rect x="7.00" y="275.85" width="16.40" height="4.99" fill="#711f57"/>
<rect x="23.15" y="275.85" width="5.63" height="4.99" fill="#5e1f52"/>
<rect x="28.53" y="275.85" width="5.63" height="4.99" fill="#170f28"/>
<rect x="33.91" y="275.85" width="16.40" height="4.99" fill="#5e1f52"/>
<rect x="50.06" y="275.85" width="11.02" height="4.99" fill="#170f28"/>
<rect x="60.83" y="275.85" width="5.63" height="4.99" fill="#381a40"/>
<rect x="66.21" y="275.85" width="5.63" height="4.99" fill="#170f28"/>
<rect x="71.60" y="275.85" width="11.02" height="4.99" fill="#271534"/>
<rect x="82.36" y="275.85" width="5.63" height="4.99" fill="#170f28"/>
<rect x="87.74" y="275.85" width="5.63" height="4.99" fill="#901d5b"/>
<rect x="93.13" y="275.85" width="5.63" height="4.99" fill="#faebdd"/>
<rect x="98.51" y="275.85" width="5.63" height="4.99" fill="#b71657"/>
<rect x="103.89" y="275.85" width="5.63" height="4.99" fill="#a3195b"/>
<rect x="109.28" y="275.85" width="5.63" height="4.99" fill="#811e5a"/>
<rect x="114.66" y="275.85" width="5.63" height="4.99" fill="#5e1f52"/>
<rect x="120.04" y="275.85" width="5.63" height="4.99" fill="#170f28"/>
<rect x="125.43" y="275.85" width="5.63" height="4.99" fill="#381a40"/>
<rect x="130.81" y="275.85" width="5.63" height="4.99" fill="#271534"/>
<rect x="136.19" y="275.85" width="5.63" height="4.99" fill="#4c1d4b"/>
<rect x="141.57" y="275.85" width="5.63" height="4.99" fill="#381a40"/>
<rect x="146.96" y="275.85" width="5.63" height="4.99" fill="#901d5b"/>
<rect x="152.34" y="275.85" width="5.63" height="4.99" fill="#b71657"/>
<rect x="157.72" y="275.85" width="5.63" height="4.99" fill="#711f57"/>
<rect x="163.11" y="275.85" width="5.63" height="4.99" fill="#a3195b"/>
<rect x="168.49" y="275.85" width="5.63" height="4.99" fill="#b71657"/>
<rect x="173.87" y="275.85" width="11.02" height="4.99" fill="#a3195b"/>
<rect x="184.64" y="275.85" width="5.63" height="4.99" fill="#811e5a"/>
<rect x="190.02" y="275.85" width="11.02" height="4.99" fill="#901d5b"/>
<rect x="200.79" y="275.85" width="11.02" height="4.99" fill="#811e5a"/>
<rect x="211.55" y="275.85" width="5.63" height="4.99" fill="#5e1f52"/>
<rect x="216.94" y="275.85" width="5.63" height="4.99" fill="#271534"/>
<rect x="222.32" y="275.85" width="5.63" height="4.99" fill="#811e5a"/>
<rect x="227.70" y="275.85" width="5.63" height="4.99" fill="#271534"/>
<rect x="233.09" y="275.85" width="5.63" height="4.99" fill="#811e5a"/>
<rect x="238.47" y="275.85" width="5.63" height="4.99" fill="#4c1d4b"/>
<rect x="243.85" y="275.85" width="16.15" height="4.99" fill="#170f28"/>
<rect x="7.00" y="280.59" width="16.40" height="4.99" fill="#271534"/>
<rect x="23.15" y="280.59" width="5.63" height="4.99" fill="#5e1f52"/>
<rect x="28.53" y="280.59" width="5.63" height="4.99" fill="#170f28"/>
<rect x="33.91" y="280.59" width="5.63" height="4.99" fill="#381a40"/>
<rect x="39.30" y="280.59" width="5.63" height="4.99" fill="#5e1f52"/>
<rect x="44.68" y="280.59" width="43.31" height="4.99" fill="#170f28"/>
<rect x="87.74" y="280.59" width="5.63" height="4.99" fill="#901d5b"/>
<rect x="93.13" y="280.59" width="5.63" height="4.99" fill="#b71657"/>
<rect x="98.51" y="280.59" width="5.63" height="4.99" fill="#faebdd"/>
<rect x="103.89" y="280.59" width="5.63" height="4.99" fill="#711f57"/>
<rect x="109.28" y="280.59" width="11.02" height="4.99" fill="#5e1f52"/>
<rect x="120.04" y="280.59" width="16.40" height="4.99" fill="#271534"/>
<rect x="136.19" y="280.59" width="5.63" height="4.99" fill="#170f28"/>
<rect x="141.57" y="280.59" width="16.40" height="4.99" fill="#381a40"/>
<rect x="157.72" y="280.59" width="5.63" height="4.99" fill="#4c1d4b"/>
<rect x="163.11" y="280.59" width="5.63" height="4.99" fill="#811e5a"/>
<rect x="168.49" y="280.59" width="5.63" height="4.99" fill="#ce1d4e"/>
<rect x="173.87" y="280.59" width="11.02" height="4.99" fill="#811e5a"/>
<rect x="184.64" y="280.59" width="5.63" height="4.99" fill="#381a40"/>
<rect x="190.02" y="280.59" width="5.63" height="4.99" fill="#901d5b"/>
<rect x="195.40" y="280.59" width="5.63" height="4.99" fill="#711f57"/>
<rect x="200.79" y="280.59" width="5.63" height="4.99" fill="#e03143"/>
<rect x="206.17" y="280.59" width="11.02" height="4.99" fill="#901d5b"/>
<rect x="216.94" y="280.59" width="21.78" height="4.99" fill="#711f57"/>
<rect x="238.47" y="280.59" width="5.63" height="4.99" fill="#271534"/>
<rect x="243.85" y="280.59" width="5.63" height="4.99" fill="#170f28"/>
<rect x="249.23" y="280.59" width="5.63" height="4.99" fill="#381a40"/>
<rect x="254.62" y="280.59" width="5.38" height="4.99" fill="#a3195b"/>
<rect x="7.00" y="285.33" width="11.02" height="4.99" fill="#4c1d4b"/>
<rect x="17.77" y="285.33" width="5.63" height="4.99" fill="#5e1f52"/>
<rect x="23.15" y="285.33" width="5.63" height="4.99" fill="#4c1d4b"/>
<rect x="28.53" y="285.33" width="11.02" height="4.99" fill="#5e1f52"/>
<rect x="39.30" y="285.33" width="5.63" height="4.99" fill="#170f28"/>
<rect x="44.68" y="285.33" width="5.63" height="4.99" fill="#381a40"/>
<rect x="50.06" y="285.33" width="21.78" height="4.99" fill="#271534"/>
<rect x="71.60" y="285.33" width="5.63" height="4.99" fill="#711f57"/>
<rect x="76.98" y="285.33" width="5.63" height="4.99" fill="#5e1f52"/>
<rect x="82.36" y="285.33" width="5.63" height="4.99" fill="#4c1d4b"/>
<rect x="87.74" y="285.33" width="5.63" height="4.99" fill="#170f28"/>
<rect x="93.13" y="285.33" width="5.63" height="4.99" fill="#a3195b"/>
<rect x="98.51" y="285.33" width="5.63" height="4.99" fill="#711f57"/>
<rect x="103.89" y="285.33" width="5.63" height="4.99" fill="#faebdd"/>
<rect x="109.28" y="285.33" width="5.63" height="4.99" fill="#381a40"/>
<rect x="114.66" y="285.33" width="5.63" height="4.99" fill="#711f57"/>
<rect x="120.04" y="285.33" width="11.02" height="4.99" fill="#4c1d4b"/>
<rect x="130.81" y="285.33" width="5.63" height="4.99" fill="#271534"/>
<rect x="136.19" y="285.33" width="5.63" height="4.99" fill="#5e1f52"/>
<rect x="141.57" y="285.33" width="5.63" height="4.99" fill="#170f28"/>
<rect x="146.96" y="285.33" width="5.63" height="4.99" fill="#711f57"/>
<rect x="152.34" y="285.33" width="5.63" height="4.99" fill="#811e5a"/>
<rect x="157.72" y="285.33" width="5.63" height="4.99" fill="#a3195b"/>
<rect x="163.11" y="285.33" width="16.40" height="4.99" fill="#901d5b"/>
<rect x="179.26" y="285.33" width="5.63" height="4.99" fill="#b71657"/>
<rect x="184.64" y="285.33" width="5.63" height="4.99" fill="#5e1f52"/>
<rect x="190.02" y="285.33" width="11.02" height="4.99" fill="#901d5b"/>
<rect x="200.79" y="285.33" width="5.63" height="4.99" fill="#811e5a"/>
<rect x="206.17" y="285.33" width="5.63" height="4.99" fill="#381a40"/>
<rect x="211.55" y="285.33" width="5.63" height="4.99" fill="#901d5b"/>
<rect x="216.94" y="285.33" width="5.63" height="4.99" fill="#a3195b"/>
<rect x="222.32" y="285.33" width="5.63" height="4.99" fill="#5e1f52"/>
<rect x="227.70" y="285.33" width="5.63" height="4.99" fill="#4c1d4b"/>
<rect x="233.09" y="285.33" width="5.63" height="4.99" fill="#5e1f52"/>
<rect x="238.47" y="285.33" width="5.63" height="4.99" fill="#271534"/>
<rect x="243.85" y="285.33" width="11.02" height="4.99" fill="#170f28"/>
<rect x="254.62" y="285.33" width="5.38" height="4.99" fill="#4c1d4b"/>
<rect x="7.00" y="290.07" width="5.63" height="4.99" fill="#5e1f52"/>
<rect x="12.38" y="290.07" width="5.63" height="4.99" fill="#4c1d4b"/>
<rect x="17.77" y="290.07" width="16.40" height="4.99" fill="#711f57"/>
<rect x="33.91" y="290.07" width="5.63" height="4.99" fill="#b71657"/>
<rect x="39.30" y="290.07" width="5.63" height="4.99" fill="#a3195b"/>
<rect x="44.68" y="290.07" width="5.63" height="4.99" fill="#711f57"/>
<rect x="50.06" y="290.07" width="5.63" height="4.99" fill="#811e5a"/>
<rect x="55.45" y="290.07" width="5.63" height="4.99" fill="#ce1d4e"/>
<rect x="60.83" y="290.07" width="5.63" height="4.99" fill="#5e1f52"/>
<rect x="66.21" y="290.07" width="5.63" height="4.99" fill="#811e5a"/>
<rect x="71.60" y="290.07" width="5.63" height="4.99" fill="#ce1d4e"/>
<rect x="76.98" y="290.07" width="5.63" height="4.99" fill="#811e5a"/>
<rect x="82.36" y="290.07" width="5.63" height="4.99" fill="#711f57"/>
<rect x="87.74" y="290.07" width="5.63" height="4.99" fill="#5e1f52"/>
<rect x="93.13" y="290.07" width="5.63" height="4.99" fill="#811e5a"/>
<rect x="98.51" y="290.07" width="5.63" height="4.99" fill="#5e1f52"/>
<rect x="103.89" y="290.07" width="5.63" height="4.99" fill="#381a40"/>
<rect x="109.28" y="290.07" width="5.63" height="4.99" fill="#faebdd"/>
<rect x="114.66" y="290.07" width="5.63" height="4.99" fill="#b71657"/>
<rect x="120.04" y="290.07" width="5.63" height="4.99" fill="#a3195b"/>
<rect x="125.43" y="290.07" width="5.63" height="4.99" fill="#5e1f52"/>
<rect x="130.81" y="290.07" width="5.63" height="4.99" fill="#170f28"/>
<rect x="136.19" y="290.07" width="5.63" height="4.99" fill="#711f57"/>
<rect x="141.57" y="290.07" width="5.63" height="4.99" fill="#811e5a"/>
<rect x="146.96" y="290.07" width="5.63" height="4.99" fill="#381a40"/>
<rect x="152.34" y="290.07" width="5.63" height="4.99" fill="#901d5b"/>
<rect x="157.72" y="290.07" width="5.63" height="4.99" fill="#170f28"/>
<rect x="163.11" y="290.07" width="11.02" height="4.99" fill="#811e5a"/>
<rect x="173.87" y="290.07" width="5.63" height="4.99" fill="#5e1f52"/>
<rect x="179.26" y="290.07" width="11.02" height="4.99" fill="#b71657"/>
<rect x="190.02" y="290.07" width="5.63" height="4.99" fill="#901d5b"/>
<rect x="195.40" y="290.07" width="5.63" height="4.99" fill="#a3195b"/>
<rect x="200.79" y="290.07" width="11.02" height="4.99" fill="#4c1d4b"/>
<rect x="211.55" y="290.07" width="5.63" height="4.99" fill="#711f57"/>
<rect x="216.94" y="290.07" width="5.63" height="4.99" fill="#811e5a"/>
<rect x="222.32" y="290.07" width="5.63" height="4.99" fill="#271534"/>
<rect x="227.70" y="290.07" width="5.63" height="4.99" fill="#4c1d4b"/>
<rect x="233.09" y="290.07" width="5.63" height="4.99" fill="#271534"/>
<rect x="238.47" y="290.07" width="5.63" height="4.99" fill="#170f28"/>
<rect x="243.85" y="290.07" width="5.63" height="4.99" fill="#381a40"/>
<rect x="249.23" y="290.07" width="5.63" height="4.99" fill="#170f28"/>
<rect x="254.62" y="290.07" width="5.38" height="4.99" fill="#4c1d4b"/>
<rect x="7.00" y="294.81" width="11.02" height="4.99" fill="#4c1d4b"/>
<rect x="17.77" y="294.81" width="11.02" height="4.99" fill="#5e1f52"/>
<rect x="28.53" y="294.81" width="5.63" height="4.99" fill="#711f57"/>
<rect x="33.91" y="294.81" width="11.02" height="4.99" fill="#271534"/>
<rect x="44.68" y="294.81" width="5.63" height="4.99" fill="#4c1d4b"/>
<rect x="50.06" y="294.81" width="16.40" height="4.99" fill="#170f28"/>
<rect x="66.21" y="294.81" width="5.63" height="4.99" fill="#5e1f52"/>
<rect x="71.60" y="294.81" width="5.63" height="4.99" fill="#381a40"/>
<rect x="76.98" y="294.81" width="5.63" height="4.99" fill="#170f28"/>
<rect x="82.36" y="294.81" width="5.63" height="4.99" fill="#5e1f52"/>
<rect x="87.74" y="294.81" width="5.63" height="4.99" fill="#711f57"/>
<rect x="93.13" y="294.81" width="11.02" height="4.99" fill="#5e1f52"/>
<rect x="103.89" y="294.81" width="5.63" height="4.99" fill="#711f57"/>
<rect x="109.28" y="294.81" width="5.63" height="4.99" fill="#b71657"/>
<rect x="114.66" y="294.81" width="5.63" height="4.99" fill="#faebdd"/>
<rect x="120.04" y="294.81" width="5.63" height="4.99" fill="#eb463e"/>
<rect x="125.43" y="294.81" width="11.02" height="4.99" fill="#811e5a"/>
<rect x="136.19" y="294.81" width="5.63" height="4.99" fill="#f05c42"/>
<rect x="141.57" y="294.81" width="5.63" height="4.99" fill="#811e5a"/>
<rect x="146.96" y="294.81" width="5.63" height="4.99" fill="#b71657"/>
<rect x="152.34" y="294.81" width="5.63" height="4.99" fill="#711f57"/>
<rect x="157.72" y="294.81" width="5.63" height="4.99" fill="#a3195b"/>
<rect x="163.11" y="294.81" width="5.63" height="4.99" fill="#811e5a"/>
<rect x="168.49" y="294.81" width="5.63" height="4.99" fill="#4c1d4b"/>
<rect x="173.87" y="294.81" width="5.63" height="4.99" fill="#5e1f52"/>
<rect x="179.26" y="294.81" width="5.63" height="4.99" fill="#b71657"/>
<rect x="184.64" y="294.81" width="5.63" height="4.99" fill="#901d5b"/>
<rect x="190.02" y="294.81" width="5.63" height="4.99" fill="#5e1f52"/>
<rect x="195.40" y="294.81" width="5.63" height="4.99" fill="#811e5a"/>
<rect x="200.79" y="294.81" width="5.63" height="4.99" fill="#5e1f52"/>
<rect x="206.17" y="294.81" width="5.63" height="4.99" fill="#4c1d4b"/>
<rect x="211.55" y="294.81" width="5.63" height="4.99" fill="#811e5a"/>
<rect x="216.94" y="294.81" width="5.63" height="4.99" fill="#a3195b"/>
<rect x="222.32" y="294.81" width="5.63" height="4.99" fill="#811e5a"/>
<rect x="227.70" y="294.81" width="5.63" height="4.99" fill="#4c1d4b"/>
<rect x="233.09" y="294.81" width="5.63" height="4.99" fill="#811e5a"/>
<rect x="238.47" y="294.81" width="5.63" height="4.99" fill="#eb463e"/>
<rect x="243.85" y="294.81" width="5.63" height="4.99" fill="#901d5b"/>
<rect x="249.23" y="294.81" width="10.77" height="4.99" fill="#170f28"/>
<rect x="7.00" y="299.55" width="11.02" height="4.99" fill="#4c1d4b"/>
<rect x="17.77" y="299.55" width="5.63" height="4.99" fill="#5e1f52"/>
<rect x="23.15" y="299.55" width="5.63" height="4.99" fill="#271534"/>
<rect x="28.53" y="299.55" width="5.63" height="4.99" fill="#381a40"/>
<rect x="33.91" y="299.55" width="5.63" height="4.99" fill="#5e1f52"/>
<rect x="39.30" y="299.55" width="5.63" height="4.99" fill="#4c1d4b"/>
<rect x="44.68" y="299.55" width="5.63" height="4.99" fill="#5e1f52"/>
<rect x="50.06" y="299.55" width="5.63" height="4.99" fill="#ce1d4e"/>
<rect x="55.45" y="299.55" width="5.63" height="4.99" fill="#eb463e"/>
<rect x="60.83" y="299.55" width="5.63" height="4.99" fill="#901d5b"/>
<rect x="66.21" y="299.55" width="5.63" height="4.99" fill="#f05c42"/>
<rect x="71.60" y="299.55" width="5.63" height="4.99" fill="#ce1d4e"/>
<rect x="76.98" y="299.55" width="5.63" height="4.99" fill="#811e5a"/>
<rect x="82.36" y="299.55" width="5.63" height="4.99" fill="#d82748"/>
<rect x="87.74" y="299.55" width="11.02" height="4.99" fill="#170f28"/>
<rect x="98.51" y="299.55" width="5.63" height="4.99" fill="#271534"/>
<rect x="103.89" y="299.55" width="5.63" height="4.99" fill="#4c1d4b"/>
<rect x="109.28" y="299.55" width="5.63" height="4.99" fill="#a3195b"/>
<rect x="114.66" y="299.55" width="5.63" height="4.99" fill="#eb463e"/>
<rect x="120.04" y="299.55" width="5.63" height="4.99" fill="#faebdd"/>
<rect x="125.43" y="299.55" width="5.63" height="4.99" fill="#e03143"/>
<rect x="130.81" y="299.55" width="11.02" height="4.99" fill="#f3734e"/>
<rect x="141.57" y="299.55" width="5.63" height="4.99" fill="#a3195b"/>
<rect x="146.96" y="299.55" width="11.02" height="4.99" fill="#711f57"/>
<rect x="157.72" y="299.55" width="5.63" height="4.99" fill="#170f28"/>
<rect x="163.11" y="299.55" width="5.63" height="4.99" fill="#a3195b"/>
<rect x="168.49" y="299.55" width="11.02" height="4.99" fill="#811e5a"/>
<rect x="179.26" y="299.55" width="5.63" height="4.99" fill="#ce1d4e"/>
<rect x="184.64" y="299.55" width="5.63" height="4.99" fill="#e03143"/>
<rect x="190.02" y="299.55" width="5.63" height="4.99" fill="#711f57"/>
<rect x="195.40" y="299.55" width="5.63" height="4.99" fill="#811e5a"/>
<rect x="200.79" y="299.55" width="5.63" height="4.99" fill="#5e1f52"/>
<rect x="206.17" y="299.55" width="5.63" height="4.99" fill="#ce1d4e"/>
<rect x="211.55" y="299.55" width="5.63" height="4.99" fill="#711f57"/>
<rect x="216.94" y="299.55" width="5.63" height="4.99" fill="#a3195b"/>
<rect x="222.32" y="299.55" width="11.02" height="4.99" fill="#811e5a"/>
<rect x="233.09" y="299.55" width="5.63" height="4.99" fill="#170f28"/>
<rect x="238.47" y="299.55" width="5.63" height="4.99" fill="#5e1f52"/>
<rect x="243.85" y="299.55" width="11.02" height="4.99" fill="#901d5b"/>
<rect x="254.62" y="299.55" width="5.38" height="4.99" fill="#711f57"/>
<rect x="7.00" y="304.29" width="5.63" height="4.99" fill="#711f57"/>
<rect x="12.38" y="304.29" width="5.63" height="4.99" fill="#5e1f52"/>
<rect x="17.77" y="304.29" width="5.63" height="4.99" fill="#811e5a"/>
<rect x="23.15" y="304.29" width="5.63" height="4.99" fill="#5e1f52"/>
<rect x="28.53" y="304.29" width="16.40" height="4.99" fill="#170f28"/>
<rect x="44.68" y="304.29" width="5.63" height="4.99" fill="#4c1d4b"/>
<rect x="50.06" y="304.29" width="5.63" height="4.99" fill="#381a40"/>
<rect x="55.45" y="304.29" width="5.63" height="4.99" fill="#4c1d4b"/>
<rect x="60.83" y="304.29" width="5.63" height="4.99" fill="#170f28"/>
<rect x="66.21" y="304.29" width="5.63" height="4.99" fill="#901d5b"/>
<rect x="71.60" y="304.29" width="5.63" height="4.99" fill="#a3195b"/>
<rect x="76.98" y="304.29" width="5.63" height="4.99" fill="#381a40"/>
<rect x="82.36" y="304.29" width="5.63" height="4.99" fill="#a3195b"/>
<rect x="87.74" y="304.29" width="5.63" height="4.99" fill="#170f28"/>
<rect x="93.13" y="304.29" width="5.63" height="4.99" fill="#381a40"/>
<rect x="98.51" y="304.29" width="5.63" height="4.99" fill="#271534"/>
<rect x="103.89" y="304.29" width="5.63" height="4.99" fill="#4c1d4b"/>
<rect x="109.28" y="304.29" width="5.63" height="4.99" fill="#5e1f52"/>
<rect x="114.66" y="304.29" width="5.63" height="4.99" fill="#811e5a"/>
<rect x="120.04" y="304.29" width="5.63" height="4.99" fill="#e03143"/>
<rect x="125.43" y="304.29" width="5.63" height="4.99" fill="#faebdd"/>
<rect x="130.81" y="304.29" width="5.63" height="4.99" fill="#f69c73"/>
<rect x="136.19" y="304.29" width="5.63" height="4.99" fill="#f3734e"/>
<rect x="141.57" y="304.29" width="5.63" height="4.99" fill="#e03143"/>
<rect x="146.96" y="304.29" width="5.63" height="4.99" fill="#b71657"/>
<rect x="152.34" y="304.29" width="5.63" height="4.99" fill="#eb463e"/>
<rect x="157.72" y="304.29" width="5.63" height="4.99" fill="#f3734e"/>
<rect x="163.11" y="304.29" width="5.63" height="4.99" fill="#eb463e"/>
<rect x="168.49" y="304.29" width="5.63" height="4.99" fill="#4c1d4b"/>
<rect x="173.87" y="304.29" width="5.63" height="4.99" fill="#a3195b"/>
<rect x="179.26" y="304.29" width="5.63" height="4.99" fill="#901d5b"/>
<rect x="184.64" y="304.29" width="5.63" height="4.99" fill="#eb463e"/>
<rect x="190.02" y="304.29" width="5.63" height="4.99" fill="#5e1f52"/>
<rect x="195.40" y="304.29" width="5.63" height="4.99" fill="#ce1d4e"/>
<rect x="200.79" y="304.29" width="5.63" height="4.99" fill="#271534"/>
<rect x="206.17" y="304.29" width="5.63" height="4.99" fill="#381a40"/>
<rect x="211.55" y="304.29" width="11.02" height="4.99" fill="#901d5b"/>
<rect x="222.32" y="304.29" width="5.63" height="4.99" fill="#711f57"/>
<rect x="227.70" y="304.29" width="5.63" height="4.99" fill="#811e5a"/>
<rect x="233.09" y="304.29" width="5.63" height="4.99" fill="#711f57"/>
<rect x="238.47" y="304.29" width="5.63" height="4.99" fill="#811e5a"/>
<rect x="243.85" y="304.29" width="5.63" height="4.99" fill="#ce1d4e"/>
<rect x="249.23" y="304.29" width="5.63" height="4.99" fill="#271534"/>
<rect x="254.62" y="304.29" width="5.38" height="4.99" fill="#901d5b"/>
<rect x="7.00" y="309.03" width="5.63" height="4.99" fill="#711f57"/>
<rect x="12.38" y="309.03" width="5.63" height="4.99" fill="#811e5a"/>
<rect x="17.77" y="309.03" width="11.02" height="4.99" fill="#901d5b"/>
<rect x="28.53" y="309.03" width="5.63" height="4.99" fill="#170f28"/>
<rect x="33.91" y="309.03" width="27.16" height="4.99" fill="#271534"/>
<rect x="60.83" y="309.03" width="5.63" height="4.99" fill="#170f28"/>
<rect x="66.21" y="309.03" width="5.63" height="4.99" fill="#a3195b"/>
<rect x="71.60" y="309.03" width="5.63" height="4.99" fill="#5e1f52"/>
<rect x="76.98" y="309.03" width="5.63" height="4.99" fill="#381a40"/>
<rect x="82.36" y="309.03" width="5.63" height="4.99" fill="#811e5a"/>
<rect x="87.74" y="309.03" width="5.63" height="4.99" fill="#170f28"/>
<rect x="93.13" y="309.03" width="16.40" height="4.99" fill="#271534"/>
<rect x="109.28" y="309.03" width="5.63" height="4.99" fill="#170f28"/>
<rect x="114.66" y="309.03" width="5.63" height="4.99" fill="#811e5a"/>
<rect x="120.04" y="309.03" width="5.63" height="4.99" fill="#f3734e"/>
<rect x="125.43" y="309.03" width="5.63" height="4.99" fill="#f69c73"/>
<rect x="130.81" y="309.03" width="5.63" height="4.99" fill="#faebdd"/>
<rect x="136.19" y="309.03" width="5.63" height="4.99" fill="#f05c42"/>
<rect x="141.57" y="309.03" width="5.63" height="4.99" fill="#ce1d4e"/>
<rect x="146.96" y="309.03" width="5.63" height="4.99" fill="#711f57"/>
<rect x="152.34" y="309.03" width="5.63" height="4.99" fill="#811e5a"/>
<rect x="157.72" y="309.03" width="11.02" height="4.99" fill="#e03143"/>
<rect x="168.49" y="309.03" width="5.63" height="4.99" fill="#381a40"/>
<rect x="173.87" y="309.03" width="5.63" height="4.99" fill="#901d5b"/>
<rect x="179.26" y="309.03" width="5.63" height="4.99" fill="#711f57"/>
<rect x="184.64" y="309.03" width="5.63" height="4.99" fill="#b71657"/>
<rect x="190.02" y="309.03" width="5.63" height="4.99" fill="#271534"/>
<rect x="195.40" y="309.03" width="5.63" height="4.99" fill="#811e5a"/>
<rect x="200.79" y="309.03" width="5.63" height="4.99" fill="#170f28"/>
<rect x="206.17" y="309.03" width="5.63" height="4.99" fill="#4c1d4b"/>
<rect x="211.55" y="309.03" width="5.63" height="4.99" fill="#901d5b"/>
<rect x="216.94" y="309.03" width="5.63" height="4.99" fill="#b71657"/>
<rect x="222.32" y="309.03" width="5.63" height="4.99" fill="#901d5b"/>
<rect x="227.70" y="309.03" width="5.63" height="4.99" fill="#711f57"/>
<rect x="233.09" y="309.03" width="5.63" height="4.99" fill="#5e1f52"/>
<rect x="238.47" y="309.03" width="5.63" height="4.99" fill="#811e5a"/>
<rect x="243.85" y="309.03" width="5.63" height="4.99" fill="#b71657"/>
<rect x="249.23" y="309.03" width="5.63" height="4.99" fill="#811e5a"/>
<rect x="254.62" y="309.03" width="5.38" height="4.99" fill="#b71657"/>
<rect x="7.00" y="313.77" width="11.02" height="4.99" fill="#811e5a"/>
<rect x="17.77" y="313.77" width="5.63" height="4.99" fill="#901d5b"/>
<rect x="23.15" y="313.77" width="5.63" height="4.99" fill="#811e5a"/>
<rect x="28.53" y="313.77" width="5.63" height="4.99" fill="#711f57"/>
<rect x="33.91" y="313.77" width="5.63" height="4.99" fill="#4c1d4b"/>
<rect x="39.30" y="313.77" width="5.63" height="4.99" fill="#711f57"/>
<rect x="44.68" y="313.77" width="5.63" height="4.99" fill="#811e5a"/>
<rect x="50.06" y="313.77" width="5.63" height="4.99" fill="#4c1d4b"/>
<rect x="55.45" y="313.77" width="5.63" height="4.99" fill="#811e5a"/>
<rect x="60.83" y="313.77" width="5.63" height="4.99" fill="#271534"/>
<rect x="66.21" y="313.77" width="5.63" height="4.99" fill="#a3195b"/>
<rect x="71.60" y="313.77" width="5.63" height="4.99" fill="#901d5b"/>
<rect x="76.98" y="313.77" width="5.63" height="4.99" fill="#5e1f52"/>
<rect x="82.36" y="313.77" width="5.63" height="4.99" fill="#a3195b"/>
<rect x="87.74" y="313.77" width="5.63" height="4.99" fill="#170f28"/>
<rect x="93.13" y="313.77" width="5.63" height="4.99" fill="#4c1d4b"/>
<rect x="98.51" y="313.77" width="5.63" height="4.99" fill="#170f28"/>
<rect x="103.89" y="313.77" width="5.63" height="4.99" fill="#5e1f52"/>
<rect x="109.28" y="313.77" width="5.63" height="4.99" fill="#711f57"/>
<rect x="114.66" y="313.77" width="5.63" height="4.99" fill="#f05c42"/>
<rect x="120.04" y="313.77" width="11.02" height="4.99" fill="#f3734e"/>
<rect x="130.81" y="313.77" width="5.63" height="4.99" fill="#f05c42"/>
<rect x="136.19" y="313.77" width="5.63" height="4.99" fill="#faebdd"/>
<rect x="141.57" y="313.77" width="5.63" height="4.99" fill="#ce1d4e"/>
<rect x="146.96" y="313.77" width="5.63" height="4.99" fill="#b71657"/>
<rect x="152.34" y="313.77" width="5.63" height="4.99" fill="#a3195b"/>
<rect x="157.72" y="313.77" width="11.02" height="4.99" fill="#b71657"/>
<rect x="168.49" y="313.77" width="5.63" height="4.99" fill="#711f57"/>
<rect x="173.87" y="313.77" width="5.63" height="4.99" fill="#ce1d4e"/>
<rect x="179.26" y="313.77" width="5.63" height="4.99" fill="#b71657"/>
<rect x="184.64" y="313.77" width="5.63" height="4.99" fill="#f3734e"/>
<rect x="190.02" y="313.77" width="5.63" height="4.99" fill="#4c1d4b"/>
<rect x="195.40" y="313.77" width="5.63" height="4.99" fill="#a3195b"/>
<rect x="200.79" y="313.77" width="5.63" height="4.99" fill="#5e1f52"/>
<rect x="206.17" y="313.77" width="11.02" height="4.99" fill="#a3195b"/>
<rect x="216.94" y="313.77" width="5.63" height="4.99" fill="#e03143"/>
<rect x="222.32" y="313.77" width="5.63" height="4.99" fill="#811e5a"/>
<rect x="227.70" y="313.77" width="5.63" height="4.99" fill="#4c1d4b"/>
<rect x="233.09" y="313.77" width="5.63" height="4.99" fill="#5e1f52"/>
<rect x="238.47" y="313.77" width="5.63" height="4.99" fill="#ce1d4e"/>
<rect x="243.85" y="313.77" width="5.63" height="4.99" fill="#901d5b"/>
<rect x="249.23" y="313.77" width="5.63" height="4.99" fill="#271534"/>
<rect x="254.62" y="313.77" width="5.38" height="4.99" fill="#5e1f52"/>
<rect x="7.00" y="318.51" width="5.63" height="4.99" fill="#a3195b"/>
<rect x="12.38" y="318.51" width="16.40" height="4.99" fill="#ce1d4e"/>
<rect x="28.53" y="318.51" width="5.63" height="4.99" fill="#170f28"/>
<rect x="33.91" y="318.51" width="5.63" height="4.99" fill="#711f57"/>
<rect x="39.30" y="318.51" width="5.63" height="4.99" fill="#811e5a"/>
<rect x="44.68" y="318.51" width="11.02" height="4.99" fill="#170f28"/>
<rect x="55.45" y="318.51" width="27.16" height="4.99" fill="#5e1f52"/>
<rect x="82.36" y="318.51" width="5.63" height="4.99" fill="#b71657"/>
<rect x="87.74" y="318.51" width="5.63" height="4.99" fill="#271534"/>
<rect x="93.13" y="318.51" width="11.02" height="4.99" fill="#381a40"/>
<rect x="103.89" y="318.51" width="5.63" height="4.99" fill="#170f28"/>
<rect x="109.28" y="318.51" width="11.02" height="4.99" fill="#811e5a"/>
<rect x="120.04" y="318.51" width="5.63" height="4.99" fill="#a3195b"/>
<rect x="125.43" y="318.51" width="5.63" height="4.99" fill="#e03143"/>
<rect x="130.81" y="318.51" width="11.02" height="4.99" fill="#ce1d4e"/>
<rect x="141.57" y="318.51" width="5.63" height="4.99" fill="#faebdd"/>
<rect x="146.96" y="318.51" width="5.63" height="4.99" fill="#711f57"/>
<rect x="152.34" y="318.51" width="5.63" height="4.99" fill="#e03143"/>
<rect x="157.72" y="318.51" width="5.63" height="4.99" fill="#381a40"/>
<rect x="163.11" y="318.51" width="5.63" height="4.99" fill="#811e5a"/>
<rect x="168.49" y="318.51" width="5.63" height="4.99" fill="#a3195b"/>
<rect x="173.87" y="318.51" width="5.63" height="4.99" fill="#901d5b"/>
<rect x="179.26" y="318.51" width="5.63" height="4.99" fill="#5e1f52"/>
<rect x="184.64" y="318.51" width="5.63" height="4.99" fill="#b71657"/>
<rect x="190.02" y="318.51" width="5.63" height="4.99" fill="#381a40"/>
<rect x="195.40" y="318.51" width="5.63" height="4.99" fill="#711f57"/>
<rect x="200.79" y="318.51" width="11.02" height="4.99" fill="#5e1f52"/>
<rect x="211.55" y="318.51" width="5.63" height="4.99" fill="#a3195b"/>
<rect x="216.94" y="318.51" width="5.63" height="4.99" fill="#901d5b"/>
<rect x="222.32" y="318.51" width="5.63" height="4.99" fill="#ce1d4e"/>
<rect x="227.70" y="318.51" width="5.63" height="4.99" fill="#5e1f52"/>
<rect x="233.09" y="318.51" width="5.63" height="4.99" fill="#711f57"/>
<rect x="238.47" y="318.51" width="5.63" height="4.99" fill="#ce1d4e"/>
<rect x="243.85" y="318.51" width="5.63" height="4.99" fill="#e03143"/>
<rect x="249.23" y="318.51" width="10.77" height="4.99" fill="#5e1f52"/>
<rect x="7.00" y="323.25" width="37.93" height="4.99" fill="#170f28"/>
<rect x="44.68" y="323.25" width="5.63" height="4.99" fill="#711f57"/>
<rect x="50.06" y="323.25" width="16.40" height="4.99" fill="#170f28"/>
<rect x="66.21" y="323.25" width="5.63" height="4.99" fill="#5e1f52"/>
<rect x="71.60" y="323.25" width="11.02" height="4.99" fill="#271534"/>
<rect x="82.36" y="323.25" width="5.63" height="4.99" fill="#711f57"/>
<rect x="87.74" y="323.25" width="5.63" height="4.99" fill="#4c1d4b"/>
<rect x="93.13" y="323.25" width="5.63" height="4.99" fill="#901d5b"/>
<rect x="98.51" y="323.25" width="5.63" height="4.99" fill="#381a40"/>
<rect x="103.89" y="323.25" width="5.63" height="4.99" fill="#711f57"/>
<rect x="109.28" y="323.25" width="5.63" height="4.99" fill="#381a40"/>
<rect x="114.66" y="323.25" width="5.63" height="4.99" fill="#b71657"/>
<rect x="120.04" y="323.25" width="5.63" height="4.99" fill="#711f57"/>
<rect x="125.43" y="323.25" width="5.63" height="4.99" fill="#b71657"/>
<rect x="130.81" y="323.25" width="5.63" height="4.99" fill="#711f57"/>
<rect x="136.19" y="323.25" width="5.63" height="4.99" fill="#b71657"/>
<rect x="141.57" y="323.25" width="5.63" height="4.99" fill="#711f57"/>
<rect x="146.96" y="323.25" width="5.63" height="4.99" fill="#faebdd"/>
<rect x="152.34" y="323.25" width="5.63" height="4.99" fill="#eb463e"/>
<rect x="157.72" y="323.25" width="5.63" height="4.99" fill="#b71657"/>
<rect x="163.11" y="323.25" width="5.63" height="4.99" fill="#a3195b"/>
<rect x="168.49" y="323.25" width="5.63" height="4.99" fill="#5e1f52"/>
<rect x="173.87" y="323.25" width="5.63" height="4.99" fill="#f05c42"/>
<rect x="179.26" y="323.25" width="5.63" height="4.99" fill="#a3195b"/>
<rect x="184.64" y="323.25" width="11.02" height="4.99" fill="#811e5a"/>
<rect x="195.40" y="323.25" width="5.63" height="4.99" fill="#ce1d4e"/>
<rect x="200.79" y="323.25" width="11.02" height="4.99" fill="#eb463e"/>
<rect x="211.55" y="323.25" width="5.63" height="4.99" fill="#a3195b"/>
<rect x="216.94" y="323.25" width="5.63" height="4.99" fill="#811e5a"/>
<rect x="222.32" y="323.25" width="5.63" height="4.99" fill="#a3195b"/>
<rect x="227.70" y="323.25" width="5.63" height="4.99" fill="#901d5b"/>
<rect x="233.09" y="323.25" width="5.63" height="4.99" fill="#a3195b"/>
<rect x="238.47" y="323.25" width="5.63" height="4.99" fill="#e03143"/>
<rect x="243.85" y="323.25" width="5.63" height="4.99" fill="#811e5a"/>
<rect x="249.23" y="323.25" width="5.63" height="4.99" fill="#381a40"/>
<rect x="254.62" y="323.25" width="5.38" height="4.99" fill="#271534"/>
<rect x="7.00" y="327.99" width="5.63" height="4.99" fill="#711f57"/>
<rect x="12.38" y="327.99" width="5.63" height="4.99" fill="#5e1f52"/>
<rect x="17.77" y="327.99" width="5.63" height="4.99" fill="#811e5a"/>
<rect x="23.15" y="327.99" width="5.63" height="4.99" fill="#170f28"/>
<rect x="28.53" y="327.99" width="5.63" height="4.99" fill="#381a40"/>
<rect x="33.91" y="327.99" width="5.63" height="4.99" fill="#5e1f52"/>
<rect x="39.30" y="327.99" width="5.63" height="4.99" fill="#170f28"/>
<rect x="44.68" y="327.99" width="5.63" height="4.99" fill="#5e1f52"/>
<rect x="50.06" y="327.99" width="5.63" height="4.99" fill="#170f28"/>
<rect x="55.45" y="327.99" width="5.63" height="4.99" fill="#711f57"/>
<rect x="60.83" y="327.99" width="5.63" height="4.99" fill="#5e1f52"/>
<rect x="66.21" y="327.99" width="5.63" height="4.99" fill="#901d5b"/>
<rect x="71.60" y="327.99" width="5.63" height="4.99" fill="#ce1d4e"/>
<rect x="76.98" y="327.99" width="5.63" height="4.99" fill="#5e1f52"/>
<rect x="82.36" y="327.99" width="5.63" height="4.99" fill="#381a40"/>
<rect x="87.74" y="327.99" width="5.63" height="4.99" fill="#170f28"/>
<rect x="93.13" y="327.99" width="5.63" height="4.99" fill="#b71657"/>
<rect x="98.51" y="327.99" width="5.63" height="4.99" fill="#381a40"/>
<rect x="103.89" y="327.99" width="5.63" height="4.99" fill="#811e5a"/>
<rect x="109.28" y="327.99" width="5.63" height="4.99" fill="#901d5b"/>
<rect x="114.66" y="327.99" width="11.02" height="4.99" fill="#711f57"/>
<rect x="125.43" y="327.99" width="5.63" height="4.99" fill="#eb463e"/>
<rect x="130.81" y="327.99" width="5.63" height="4.99" fill="#811e5a"/>
<rect x="136.19" y="327.99" width="5.63" height="4.99" fill="#a3195b"/>
<rect x="141.57" y="327.99" width="5.63" height="4.99" fill="#e03143"/>
<rect x="146.96" y="327.99" width="5.63" height="4.99" fill="#eb463e"/>
<rect x="152.34" y="327.99" width="5.63" height="4.99" fill="#faebdd"/>
<rect x="157.72" y="327.99" width="5.63" height="4.99" fill="#b71657"/>
<rect x="163.11" y="327.99" width="5.63" height="4.99" fill="#e03143"/>
<rect x="168.49" y="327.99" width="5.63" height="4.99" fill="#a3195b"/>
<rect x="173.87" y="327.99" width="5.63" height="4.99" fill="#f05c42"/>
<rect x="179.26" y="327.99" width="5.63" height="4.99" fill="#811e5a"/>
<rect x="184.64" y="327.99" width="5.63" height="4.99" fill="#a3195b"/>
<rect x="190.02" y="327.99" width="5.63" height="4.99" fill="#5e1f52"/>
<rect x="195.40" y="327.99" width="5.63" height="4.99" fill="#901d5b"/>
<rect x="200.79" y="327.99" width="5.63" height="4.99" fill="#5e1f52"/>
<rect x="206.17" y="327.99" width="5.63" height="4.99" fill="#381a40"/>
<rect x="211.55" y="327.99" width="5.63" height="4.99" fill="#711f57"/>
<rect x="216.94" y="327.99" width="5.63" height="4.99" fill="#381a40"/>
<rect x="222.32" y="327.99" width="11.02" height="4.99" fill="#4c1d4b"/>
<rect x="233.09" y="327.99" width="5.63" height="4.99" fill="#381a40"/>
<rect x="238.47" y="327.99" width="5.63" height="4.99" fill="#711f57"/>
<rect x="243.85" y="327.99" width="5.63" height="4.99" fill="#381a40"/>
<rect x="249.23" y="327.99" width="5.63" height="4.99" fill="#170f28"/>
<rect x="254.62" y="327.99" width="5.38" height="4.99" fill="#381a40"/>
<rect x="7.00" y="332.73" width="5.63" height="4.99" fill="#271534"/>
<rect x="12.38" y="332.73" width="5.63" height="4.99" fill="#170f28"/>
<rect x="17.77" y="332.73" width="5.63" height="4.99" fill="#381a40"/>
<rect x="23.15" y="332.73" width="5.63" height="4.99" fill="#4c1d4b"/>
<rect x="28.53" y="332.73" width="5.63" height="4.99" fill="#811e5a"/>
<rect x="33.91" y="332.73" width="11.02" height="4.99" fill="#170f28"/>
<rect x="44.68" y="332.73" width="5.63" height="4.99" fill="#5e1f52"/>
<rect x="50.06" y="332.73" width="21.78" height="4.99" fill="#170f28"/>
<rect x="71.60" y="332.73" width="5.63" height="4.99" fill="#381a40"/>
<rect x="76.98" y="332.73" width="11.02" height="4.99" fill="#170f28"/>
<rect x="87.74" y="332.73" width="5.63" height="4.99" fill="#5e1f52"/>
<rect x="93.13" y="332.73" width="5.63" height="4.99" fill="#711f57"/>
<rect x="98.51" y="332.73" width="5.63" height="4.99" fill="#4c1d4b"/>
<rect x="103.89" y="332.73" width="5.63" height="4.99" fill="#a3195b"/>
<rect x="109.28" y="332.73" width="5.63" height="4.99" fill="#170f28"/>
<rect x="114.66" y="332.73" width="5.63" height="4.99" fill="#a3195b"/>
<rect x="120.04" y="332.73" width="5.63" height="4.99" fill="#170f28"/>
<rect x="125.43" y="332.73" width="5.63" height="4.99" fill="#f3734e"/>
<rect x="130.81" y="332.73" width="5.63" height="4.99" fill="#e03143"/>
<rect x="136.19" y="332.73" width="5.63" height="4.99" fill="#b71657"/>
<rect x="141.57" y="332.73" width="5.63" height="4.99" fill="#381a40"/>
<rect x="146.96" y="332.73" width="11.02" height="4.99" fill="#b71657"/>
<rect x="157.72" y="332.73" width="5.63" height="4.99" fill="#faebdd"/>
<rect x="163.11" y="332.73" width="5.63" height="4.99" fill="#901d5b"/>
<rect x="168.49" y="332.73" width="5.63" height="4.99" fill="#170f28"/>
<rect x="173.87" y="332.73" width="11.02" height="4.99" fill="#811e5a"/>
<rect x="184.64" y="332.73" width="5.63" height="4.99" fill="#4c1d4b"/>
<rect x="190.02" y="332.73" width="5.63" height="4.99" fill="#170f28"/>
<rect x="195.40" y="332.73" width="5.63" height="4.99" fill="#5e1f52"/>
<rect x="200.79" y="332.73" width="5.63" height="4.99" fill="#381a40"/>
<rect x="206.17" y="332.73" width="5.63" height="4.99" fill="#170f28"/>
<rect x="211.55" y="332.73" width="5.63" height="4.99" fill="#a3195b"/>
<rect x="216.94" y="332.73" width="5.63" height="4.99" fill="#711f57"/>
<rect x="222.32" y="332.73" width="11.02" height="4.99" fill="#5e1f52"/>
<rect x="233.09" y="332.73" width="11.02" height="4.99" fill="#901d5b"/>
<rect x="243.85" y="332.73" width="5.63" height="4.99" fill="#381a40"/>
<rect x="249.23" y="332.73" width="5.63" height="4.99" fill="#170f28"/>
<rect x="254.62" y="332.73" width="5.38" height="4.99" fill="#811e5a"/>
<rect x="7.00" y="337.47" width="5.63" height="4.99" fill="#271534"/>
<rect x="12.38" y="337.47" width="5.63" height="4.99" fill="#170f28"/>
<rect x="17.77" y="337.47" width="5.63" height="4.99" fill="#4c1d4b"/>
<rect x="23.15" y="337.47" width="21.78" height="4.99" fill="#170f28"/>
<rect x="44.68" y="337.47" width="5.63" height="4.99" fill="#5e1f52"/>
<rect x="50.06" y="337.47" width="5.63" height="4.99" fill="#381a40"/>
<rect x="55.45" y="337.47" width="5.63" height="4.99" fill="#4c1d4b"/>
<rect x="60.83" y="337.47" width="5.63" height="4.99" fill="#271534"/>
<rect x="66.21" y="337.47" width="11.02" height="4.99" fill="#a3195b"/>
<rect x="76.98" y="337.47" width="5.63" height="4.99" fill="#711f57"/>
<rect x="82.36" y="337.47" width="5.63" height="4.99" fill="#4c1d4b"/>
<rect x="87.74" y="337.47" width="5.63" height="4.99" fill="#271534"/>
<rect x="93.13" y="337.47" width="5.63" height="4.99" fill="#a3195b"/>
<rect x="98.51" y="337.47" width="5.63" height="4.99" fill="#811e5a"/>
<rect x="103.89" y="337.47" width="5.63" height="4.99" fill="#901d5b"/>
<rect x="109.28" y="337.47" width="11.02" height="4.99" fill="#811e5a"/>
<rect x="120.04" y="337.47" width="5.63" height="4.99" fill="#a3195b"/>
<rect x="125.43" y="337.47" width="5.63" height="4.99" fill="#eb463e"/>
<rect x="130.81" y="337.47" width="5.63" height="4.99" fill="#e03143"/>
<rect x="136.19" y="337.47" width="5.63" height="4.99" fill="#b71657"/>
<rect x="141.57" y="337.47" width="5.63" height="4.99" fill="#811e5a"/>
<rect x="146.96" y="337.47" width="5.63" height="4.99" fill="#a3195b"/>
<rect x="152.34" y="337.47" width="5.63" height="4.99" fill="#e03143"/>
<rect x="157.72" y="337.47" width="5.63" height="4.99" fill="#901d5b"/>
<rect x="163.11" y="337.47" width="5.63" height="4.99" fill="#faebdd"/>
<rect x="168.49" y="337.47" width="5.63" height="4.99" fill="#a3195b"/>
<rect x="173.87" y="337.47" width="5.63" height="4.99" fill="#f05c42"/>
<rect x="179.26" y="337.47" width="5.63" height="4.99" fill="#e03143"/>
<rect x="184.64" y="337.47" width="5.63" height="4.99" fill="#ce1d4e"/>
<rect x="190.02" y="337.47" width="11.02" height="4.99" fill="#a3195b"/>
<rect x="200.79" y="337.47" width="5.63" height="4.99" fill="#4c1d4b"/>
<rect x="206.17" y="337.47" width="5.63" height="4.99" fill="#711f57"/>
<rect x="211.55" y="337.47" width="5.63" height="4.99" fill="#a3195b"/>
<rect x="216.94" y="337.47" width="5.63" height="4.99" fill="#811e5a"/>
<rect x="222.32" y="337.47" width="5.63" height="4.99" fill="#901d5b"/>
<rect x="227.70" y="337.47" width="5.63" height="4.99" fill="#a3195b"/>
<rect x="233.09" y="337.47" width="5.63" height="4.99" fill="#4c1d4b"/>
<rect x="238.47" y="337.47" width="5.63" height="4.99" fill="#5e1f52"/>
<rect x="243.85" y="337.47" width="5.63" height="4.99" fill="#381a40"/>
<rect x="249.23" y="337.47" width="5.63" height="4.99" fill="#170f28"/>
<rect x="254.62" y="337.47" width="5.38" height="4.99" fill="#4c1d4b"/>
<rect x="7.00" y="342.21" width="5.63" height="4.99" fill="#711f57"/>
<rect x="12.38" y="342.21" width="11.02" height="4.99" fill="#811e5a"/>
<rect x="23.15" y="342.21" width="5.63" height="4.99" fill="#271534"/>
<rect x="28.53" y="342.21" width="5.63" height="4.99" fill="#170f28"/>
<rect x="33.91" y="342.21" width="5.63" height="4.99" fill="#ce1d4e"/>
<rect x="39.30" y="342.21" width="5.63" height="4.99" fill="#a3195b"/>
<rect x="44.68" y="342.21" width="5.63" height="4.99" fill="#4c1d4b"/>
<rect x="50.06" y="342.21" width="5.63" height="4.99" fill="#5e1f52"/>
<rect x="55.45" y="342.21" width="5.63" height="4.99" fill="#ce1d4e"/>
<rect x="60.83" y="342.21" width="5.63" height="4.99" fill="#711f57"/>
<rect x="66.21" y="342.21" width="5.63" height="4.99" fill="#4c1d4b"/>
<rect x="71.60" y="342.21" width="5.63" height="4.99" fill="#711f57"/>
<rect x="76.98" y="342.21" width="5.63" height="4.99" fill="#5e1f52"/>
<rect x="82.36" y="342.21" width="5.63" height="4.99" fill="#ce1d4e"/>
<rect x="87.74" y="342.21" width="5.63" height="4.99" fill="#271534"/>
<rect x="93.13" y="342.21" width="5.63" height="4.99" fill="#b71657"/>
<rect x="98.51" y="342.21" width="5.63" height="4.99" fill="#ce1d4e"/>
<rect x="103.89" y="342.21" width="5.63" height="4.99" fill="#901d5b"/>
<rect x="109.28" y="342.21" width="5.63" height="4.99" fill="#811e5a"/>
<rect x="114.66" y="342.21" width="5.63" height="4.99" fill="#4c1d4b"/>
<rect x="120.04" y="342.21" width="5.63" height="4.99" fill="#811e5a"/>
<rect x="125.43" y="342.21" width="5.63" height="4.99" fill="#4c1d4b"/>
<rect x="130.81" y="342.21" width="5.63" height="4.99" fill="#381a40"/>
<rect x="136.19" y="342.21" width="5.63" height="4.99" fill="#711f57"/>
<rect x="141.57" y="342.21" width="5.63" height="4.99" fill="#a3195b"/>
<rect x="146.96" y="342.21" width="5.63" height="4.99" fill="#5e1f52"/>
<rect x="152.34" y="342.21" width="5.63" height="4.99" fill="#a3195b"/>
<rect x="157.72" y="342.21" width="5.63" height="4.99" fill="#170f28"/>
<rect x="163.11" y="342.21" width="5.63" height="4.99" fill="#a3195b"/>
<rect x="168.49" y="342.21" width="5.63" height="4.99" fill="#faebdd"/>
<rect x="173.87" y="342.21" width="5.63" height="4.99" fill="#f3734e"/>
<rect x="179.26" y="342.21" width="5.63" height="4.99" fill="#ce1d4e"/>
<rect x="184.64" y="342.21" width="5.63" height="4.99" fill="#b71657"/>
<rect x="190.02" y="342.21" width="5.63" height="4.99" fill="#eb463e"/>
<rect x="195.40" y="342.21" width="5.63" height="4.99" fill="#5e1f52"/>
<rect x="200.79" y="342.21" width="5.63" height="4.99" fill="#901d5b"/>
<rect x="206.17" y="342.21" width="5.63" height="4.99" fill="#ce1d4e"/>
<rect x="211.55" y="342.21" width="5.63" height="4.99" fill="#5e1f52"/>
<rect x="216.94" y="342.21" width="5.63" height="4.99" fill="#4c1d4b"/>
<rect x="222.32" y="342.21" width="5.63" height="4.99" fill="#811e5a"/>
<rect x="227.70" y="342.21" width="5.63" height="4.99" fill="#5e1f52"/>
<rect x="233.09" y="342.21" width="5.63" height="4.99" fill="#381a40"/>
<rect x="238.47" y="342.21" width="5.63" height="4.99" fill="#271534"/>
<rect x="243.85" y="342.21" width="11.02" height="4.99" fill="#381a40"/>
<rect x="254.62" y="342.21" width="5.38" height="4.99" fill="#4c1d4b"/>
<rect x="7.00" y="346.95" width="11.02" height="4.99" fill="#381a40"/>
<rect x="17.77" y="346.95" width="5.63" height="4.99" fill="#5e1f52"/>
<rect x="23.15" y="346.95" width="5.63" height="4.99" fill="#271534"/>
<rect x="28.53" y="346.95" width="16.40" height="4.99" fill="#170f28"/>
<rect x="44.68" y="346.95" width="5.63" height="4.99" fill="#4c1d4b"/>
<rect x="50.06" y="346.95" width="5.63" height="4.99" fill="#170f28"/>
<rect x="55.45" y="346.95" width="5.63" height="4.99" fill="#381a40"/>
<rect x="60.83" y="346.95" width="5.63" height="4.99" fill="#170f28"/>
<rect x="66.21" y="346.95" width="5.63" height="4.99" fill="#5e1f52"/>
<rect x="71.60" y="346.95" width="5.63" height="4.99" fill="#901d5b"/>
<rect x="76.98" y="346.95" width="5.63" height="4.99" fill="#5e1f52"/>
<rect x="82.36" y="346.95" width="5.63" height="4.99" fill="#811e5a"/>
<rect x="87.74" y="346.95" width="5.63" height="4.99" fill="#170f28"/>
<rect x="93.13" y="346.95" width="5.63" height="4.99" fill="#a3195b"/>
<rect x="98.51" y="346.95" width="5.63" height="4.99" fill="#811e5a"/>
<rect x="103.89" y="346.95" width="5.63" height="4.99" fill="#901d5b"/>
<rect x="109.28" y="346.95" width="11.02" height="4.99" fill="#5e1f52"/>
<rect x="120.04" y="346.95" width="5.63" height="4.99" fill="#811e5a"/>
<rect x="125.43" y="346.95" width="5.63" height="4.99" fill="#a3195b"/>
<rect x="130.81" y="346.95" width="5.63" height="4.99" fill="#901d5b"/>
<rect x="136.19" y="346.95" width="5.63" height="4.99" fill="#ce1d4e"/>
<rect x="141.57" y="346.95" width="5.63" height="4.99" fill="#901d5b"/>
<rect x="146.96" y="346.95" width="11.02" height="4.99" fill="#f05c42"/>
<rect x="157.72" y="346.95" width="5.63" height="4.99" fill="#811e5a"/>
<rect x="163.11" y="346.95" width="5.63" height="4.99" fill="#f05c42"/>
<rect x="168.49" y="346.95" width="5.63" height="4.99" fill="#f3734e"/>
<rect x="173.87" y="346.95" width="5.63" height="4.99" fill="#faebdd"/>
<rect x="179.26" y="346.95" width="5.63" height="4.99" fill="#f05c42"/>
<rect x="184.64" y="346.95" width="5.63" height="4.99" fill="#ce1d4e"/>
<rect x="190.02" y="346.95" width="5.63" height="4.99" fill="#b71657"/>
<rect x="195.40" y="346.95" width="5.63" height="4.99" fill="#a3195b"/>
<rect x="200.79" y="346.95" width="5.63" height="4.99" fill="#ce1d4e"/>
<rect x="206.17" y="346.95" width="5.63" height="4.99" fill="#e03143"/>
<rect x="211.55" y="346.95" width="5.63" height="4.99" fill="#901d5b"/>
<rect x="216.94" y="346.95" width="5.63" height="4.99" fill="#711f57"/>
<rect x="222.32" y="346.95" width="11.02" height="4.99" fill="#a3195b"/>
<rect x="233.09" y="346.95" width="5.63" height="4.99" fill="#5e1f52"/>
<rect x="238.47" y="346.95" width="5.63" height="4.99" fill="#811e5a"/>
<rect x="243.85" y="346.95" width="5.63" height="4.99" fill="#271534"/>
<rect x="249.23" y="346.95" width="5.63" height="4.99" fill="#170f28"/>
<rect x="254.62" y="346.95" width="5.38" height="4.99" fill="#381a40"/>
<rect x="7.00" y="351.69" width="21.78" height="4.99" fill="#271534"/>
<rect x="28.53" y="351.69" width="5.63" height="4.99" fill="#170f28"/>
<rect x="33.91" y="351.69" width="11.02" height="4.99" fill="#5e1f52"/>
<rect x="44.68" y="351.69" width="5.63" height="4.99" fill="#811e5a"/>
<rect x="50.06" y="351.69" width="5.63" height="4.99" fill="#5e1f52"/>
<rect x="55.45" y="351.69" width="5.63" height="4.99" fill="#711f57"/>
<rect x="60.83" y="351.69" width="5.63" height="4.99" fill="#271534"/>
<rect x="66.21" y="351.69" width="5.63" height="4.99" fill="#711f57"/>
<rect x="71.60" y="351.69" width="5.63" height="4.99" fill="#901d5b"/>
<rect x="76.98" y="351.69" width="5.63" height="4.99" fill="#711f57"/>
<rect x="82.36" y="351.69" width="5.63" height="4.99" fill="#811e5a"/>
<rect x="87.74" y="351.69" width="5.63" height="4.99" fill="#170f28"/>
<rect x="93.13" y="351.69" width="5.63" height="4.99" fill="#a3195b"/>
<rect x="98.51" y="351.69" width="5.63" height="4.99" fill="#811e5a"/>
<rect x="103.89" y="351.69" width="16.40" height="4.99" fill="#b71657"/>
<rect x="120.04" y="351.69" width="5.63" height="4.99" fill="#ce1d4e"/>
<rect x="125.43" y="351.69" width="5.63" height="4.99" fill="#901d5b"/>
<rect x="130.81" y="351.69" width="5.63" height="4.99" fill="#711f57"/>
<rect x="136.19" y="351.69" width="5.63" height="4.99" fill="#b71657"/>
<rect x="141.57" y="351.69" width="5.63" height="4.99" fill="#5e1f52"/>
<rect x="146.96" y="351.69" width="5.63" height="4.99" fill="#a3195b"/>
<rect x="152.34" y="351.69" width="11.02" height="4.99" fill="#811e5a"/>
<rect x="163.11" y="351.69" width="5.63" height="4.99" fill="#e03143"/>
<rect x="168.49" y="351.69" width="5.63" height="4.99" fill="#ce1d4e"/>
<rect x="173.87" y="351.69" width="5.63" height="4.99" fill="#f05c42"/>
<rect x="179.26" y="351.69" width="5.63" height="4.99" fill="#faebdd"/>
<rect x="184.64" y="351.69" width="5.63" height="4.99" fill="#f3734e"/>
<rect x="190.02" y="351.69" width="5.63" height="4.99" fill="#a3195b"/>
<rect x="195.40" y="351.69" width="5.63" height="4.99" fill="#901d5b"/>
<rect x="200.79" y="351.69" width="5.63" height="4.99" fill="#b71657"/>
<rect x="206.17" y="351.69" width="5.63" height="4.99" fill="#ce1d4e"/>
<rect x="211.55" y="351.69" width="5.63" height="4.99" fill="#a3195b"/>
<rect x="216.94" y="351.69" width="5.63" height="4.99" fill="#901d5b"/>
<rect x="222.32" y="351.69" width="5.63" height="4.99" fill="#a3195b"/>
<rect x="227.70" y="351.69" width="5.63" height="4.99" fill="#811e5a"/>
<rect x="233.09" y="351.69" width="11.02" height="4.99" fill="#5e1f52"/>
<rect x="243.85" y="351.69" width="11.02" height="4.99" fill="#170f28"/>
<rect x="254.62" y="351.69" width="5.38" height="4.99" fill="#381a40"/>
<rect x="7.00" y="356.43" width="5.63" height="4.99" fill="#a3195b"/>
<rect x="12.38" y="356.43" width="5.63" height="4.99" fill="#901d5b"/>
<rect x="17.77" y="356.43" width="5.63" height="4.99" fill="#a3195b"/>
<rect x="23.15" y="356.43" width="5.63" height="4.99" fill="#811e5a"/>
<rect x="28.53" y="356.43" width="5.63" height="4.99" fill="#4c1d4b"/>
<rect x="33.91" y="356.43" width="5.63" height="4.99" fill="#901d5b"/>
<rect x="39.30" y="356.43" width="5.63" height="4.99" fill="#ce1d4e"/>
<rect x="44.68" y="356.43" width="11.02" height="4.99" fill="#5e1f52"/>
<rect x="55.45" y="356.43" width="5.63" height="4.99" fill="#901d5b"/>
<rect x="60.83" y="356.43" width="5.63" height="4.99" fill="#711f57"/>
<rect x="66.21" y="356.43" width="5.63" height="4.99" fill="#a3195b"/>
<rect x="71.60" y="356.43" width="5.63" height="4.99" fill="#b71657"/>
<rect x="76.98" y="356.43" width="5.63" height="4.99" fill="#901d5b"/>
<rect x="82.36" y="356.43" width="5.63" height="4.99" fill="#eb463e"/>
<rect x="87.74" y="356.43" width="5.63" height="4.99" fill="#170f28"/>
<rect x="93.13" y="356.43" width="5.63" height="4.99" fill="#811e5a"/>
<rect x="98.51" y="356.43" width="5.63" height="4.99" fill="#381a40"/>
<rect x="103.89" y="356.43" width="5.63" height="4.99" fill="#5e1f52"/>
<rect x="109.28" y="356.43" width="5.63" height="4.99" fill="#b71657"/>
<rect x="114.66" y="356.43" width="5.63" height="4.99" fill="#901d5b"/>
<rect x="120.04" y="356.43" width="5.63" height="4.99" fill="#e03143"/>
<rect x="125.43" y="356.43" width="5.63" height="4.99" fill="#eb463e"/>
<rect x="130.81" y="356.43" width="5.63" height="4.99" fill="#b71657"/>
<rect x="136.19" y="356.43" width="5.63" height="4.99" fill="#f3734e"/>
<rect x="141.57" y="356.43" width="5.63" height="4.99" fill="#b71657"/>
<rect x="146.96" y="356.43" width="5.63" height="4.99" fill="#811e5a"/>
<rect x="152.34" y="356.43" width="5.63" height="4.99" fill="#a3195b"/>
<rect x="157.72" y="356.43" width="5.63" height="4.99" fill="#4c1d4b"/>
<rect x="163.11" y="356.43" width="5.63" height="4.99" fill="#ce1d4e"/>
<rect x="168.49" y="356.43" width="5.63" height="4.99" fill="#b71657"/>
<rect x="173.87" y="356.43" width="5.63" height="4.99" fill="#ce1d4e"/>
<rect x="179.26" y="356.43" width="5.63" height="4.99" fill="#f3734e"/>
<rect x="184.64" y="356.43" width="5.63" height="4.99" fill="#faebdd"/>
<rect x="190.02" y="356.43" width="5.63" height="4.99" fill="#711f57"/>
<rect x="195.40" y="356.43" width="5.63" height="4.99" fill="#ce1d4e"/>
<rect x="200.79" y="356.43" width="5.63" height="4.99" fill="#811e5a"/>
<rect x="206.17" y="356.43" width="5.63" height="4.99" fill="#901d5b"/>
<rect x="211.55" y="356.43" width="11.02" height="4.99" fill="#ce1d4e"/>
<rect x="222.32" y="356.43" width="5.63" height="4.99" fill="#811e5a"/>
<rect x="227.70" y="356.43" width="5.63" height="4.99" fill="#711f57"/>
<rect x="233.09" y="356.43" width="5.63" height="4.99" fill="#271534"/>
<rect x="238.47" y="356.43" width="5.63" height="4.99" fill="#711f57"/>
<rect x="243.85" y="356.43" width="5.63" height="4.99" fill="#811e5a"/>
<rect x="249.23" y="356.43" width="5.63" height="4.99" fill="#271534"/>
<rect x="254.62" y="356.43" width="5.38" height="4.99" fill="#4c1d4b"/>
<rect x="7.00" y="361.17" width="5.63" height="4.99" fill="#381a40"/>
<rect x="12.38" y="361.17" width="21.78" height="4.99" fill="#170f28"/>
<rect x="33.91" y="361.17" width="5.63" height="4.99" fill="#711f57"/>
<rect x="39.30" y="361.17" width="5.63" height="4.99" fill="#5e1f52"/>
<rect x="44.68" y="361.17" width="16.40" height="4.99" fill="#a3195b"/>
<rect x="60.83" y="361.17" width="5.63" height="4.99" fill="#811e5a"/>
<rect x="66.21" y="361.17" width="11.02" height="4.99" fill="#a3195b"/>
<rect x="76.98" y="361.17" width="5.63" height="4.99" fill="#811e5a"/>
<rect x="82.36" y="361.17" width="5.63" height="4.99" fill="#5e1f52"/>
<rect x="87.74" y="361.17" width="5.63" height="4.99" fill="#811e5a"/>
<rect x="93.13" y="361.17" width="21.78" height="4.99" fill="#901d5b"/>
<rect x="114.66" y="361.17" width="5.63" height="4.99" fill="#5e1f52"/>
<rect x="120.04" y="361.17" width="5.63" height="4.99" fill="#711f57"/>
<rect x="125.43" y="361.17" width="5.63" height="4.99" fill="#5e1f52"/>
<rect x="130.81" y="361.17" width="5.63" height="4.99" fill="#271534"/>
<rect x="136.19" y="361.17" width="5.63" height="4.99" fill="#4c1d4b"/>
<rect x="141.57" y="361.17" width="5.63" height="4.99" fill="#381a40"/>
<rect x="146.96" y="361.17" width="5.63" height="4.99" fill="#811e5a"/>
<rect x="152.34" y="361.17" width="5.63" height="4.99" fill="#5e1f52"/>
<rect x="157.72" y="361.17" width="5.63" height="4.99" fill="#170f28"/>
<rect x="163.11" y="361.17" width="5.63" height="4.99" fill="#a3195b"/>
<rect x="168.49" y="361.17" width="5.63" height="4.99" fill="#eb463e"/>
<rect x="173.87" y="361.17" width="5.63" height="4.99" fill="#b71657"/>
<rect x="179.26" y="361.17" width="5.63" height="4.99" fill="#a3195b"/>
<rect x="184.64" y="361.17" width="5.63" height="4.99" fill="#711f57"/>
<rect x="190.02" y="361.17" width="5.63" height="4.99" fill="#faebdd"/>
<rect x="195.40" y="361.17" width="5.63" height="4.99" fill="#a3195b"/>
<rect x="200.79" y="361.17" width="5.63" height="4.99" fill="#811e5a"/>
<rect x="206.17" y="361.17" width="5.63" height="4.99" fill="#a3195b"/>
<rect x="211.55" y="361.17" width="11.02" height="4.99" fill="#271534"/>
<rect x="222.32" y="361.17" width="5.63" height="4.99" fill="#381a40"/>
<rect x="227.70" y="361.17" width="5.63" height="4.99" fill="#901d5b"/>
<rect x="233.09" y="361.17" width="11.02" height="4.99" fill="#170f28"/>
<rect x="243.85" y="361.17" width="5.63" height="4.99" fill="#5e1f52"/>
<rect x="249.23" y="361.17" width="5.63" height="4.99" fill="#4c1d4b"/>
<rect x="254.62" y="361.17" width="5.38" height="4.99" fill="#170f28"/>
<rect x="7.00" y="365.91" width="5.63" height="4.99" fill="#381a40"/>
<rect x="12.38" y="365.91" width="21.78" height="4.99" fill="#170f28"/>
<rect x="33.91" y="365.91" width="5.63" height="4.99" fill="#381a40"/>
<rect x="39.30" y="365.91" width="5.63" height="4.99" fill="#711f57"/>
<rect x="44.68" y="365.91" width="5.63" height="4.99" fill="#5e1f52"/>
<rect x="50.06" y="365.91" width="5.63" height="4.99" fill="#711f57"/>
<rect x="55.45" y="365.91" width="5.63" height="4.99" fill="#811e5a"/>
<rect x="60.83" y="365.91" width="5.63" height="4.99" fill="#711f57"/>
<rect x="66.21" y="365.91" width="11.02" height="4.99" fill="#a3195b"/>
<rect x="76.98" y="365.91" width="11.02" height="4.99" fill="#711f57"/>
<rect x="87.74" y="365.91" width="5.63" height="4.99" fill="#170f28"/>
<rect x="93.13" y="365.91" width="5.63" height="4.99" fill="#901d5b"/>
<rect x="98.51" y="365.91" width="5.63" height="4.99" fill="#711f57"/>
<rect x="103.89" y="365.91" width="5.63" height="4.99" fill="#901d5b"/>
<rect x="109.28" y="365.91" width="5.63" height="4.99" fill="#a3195b"/>
<rect x="114.66" y="365.91" width="11.02" height="4.99" fill="#811e5a"/>
<rect x="125.43" y="365.91" width="5.63" height="4.99" fill="#ce1d4e"/>
<rect x="130.81" y="365.91" width="5.63" height="4.99" fill="#811e5a"/>
<rect x="136.19" y="365.91" width="5.63" height="4.99" fill="#a3195b"/>
<rect x="141.57" y="365.91" width="5.63" height="4.99" fill="#711f57"/>
<rect x="146.96" y="365.91" width="5.63" height="4.99" fill="#ce1d4e"/>
<rect x="152.34" y="365.91" width="5.63" height="4.99" fill="#901d5b"/>
<rect x="157.72" y="365.91" width="5.63" height="4.99" fill="#5e1f52"/>
<rect x="163.11" y="365.91" width="5.63" height="4.99" fill="#a3195b"/>
<rect x="168.49" y="365.91" width="5.63" height="4.99" fill="#5e1f52"/>
<rect x="173.87" y="365.91" width="5.63" height="4.99" fill="#a3195b"/>
<rect x="179.26" y="365.91" width="5.63" height="4.99" fill="#901d5b"/>
<rect x="184.64" y="365.91" width="5.63" height="4.99" fill="#ce1d4e"/>
<rect x="190.02" y="365.91" width="5.63" height="4.99" fill="#a3195b"/>
<rect x="195.40" y="365.91" width="5.63" height="4.99" fill="#faebdd"/>
<rect x="200.79" y="365.91" width="5.63" height="4.99" fill="#ce1d4e"/>
<rect x="206.17" y="365.91" width="5.63" height="4.99" fill="#b71657"/>
<rect x="211.55" y="365.91" width="5.63" height="4.99" fill="#a3195b"/>
<rect x="216.94" y="365.91" width="16.40" height="4.99" fill="#901d5b"/>
<rect x="233.09" y="365.91" width="5.63" height="4.99" fill="#4c1d4b"/>
<rect x="238.47" y="365.91" width="5.63" height="4.99" fill="#381a40"/>
<rect x="243.85" y="365.91" width="11.02" height="4.99" fill="#811e5a"/>
<rect x="254.62" y="365.91" width="5.38" height="4.99" fill="#a3195b"/>
<rect x="7.00" y="370.66" width="5.63" height="4.99" fill="#271534"/>
<rect x="12.38" y="370.66" width="21.78" height="4.99" fill="#170f28"/>
<rect x="33.91" y="370.66" width="5.63" height="4.99" fill="#381a40"/>
<rect x="39.30" y="370.66" width="5.63" height="4.99" fill="#4c1d4b"/>
<rect x="44.68" y="370.66" width="11.02" height="4.99" fill="#170f28"/>
<rect x="55.45" y="370.66" width="5.63" height="4.99" fill="#271534"/>
<rect x="60.83" y="370.66" width="11.02" height="4.99" fill="#170f28"/>
<rect x="71.60" y="370.66" width="5.63" height="4.99" fill="#381a40"/>
<rect x="76.98" y="370.66" width="5.63" height="4.99" fill="#5e1f52"/>
<rect x="82.36" y="370.66" width="5.63" height="4.99" fill="#811e5a"/>
<rect x="87.74" y="370.66" width="5.63" height="4.99" fill="#711f57"/>
<rect x="93.13" y="370.66" width="5.63" height="4.99" fill="#811e5a"/>
<rect x="98.51" y="370.66" width="5.63" height="4.99" fill="#e03143"/>
<rect x="103.89" y="370.66" width="5.63" height="4.99" fill="#811e5a"/>
<rect x="109.28" y="370.66" width="5.63" height="4.99" fill="#4c1d4b"/>
<rect x="114.66" y="370.66" width="11.02" height="4.99" fill="#5e1f52"/>
<rect x="125.43" y="370.66" width="5.63" height="4.99" fill="#271534"/>
<rect x="130.81" y="370.66" width="5.63" height="4.99" fill="#170f28"/>
<rect x="136.19" y="370.66" width="11.02" height="4.99" fill="#5e1f52"/>
<rect x="146.96" y="370.66" width="5.63" height="4.99" fill="#eb463e"/>
<rect x="152.34" y="370.66" width="5.63" height="4.99" fill="#5e1f52"/>
<rect x="157.72" y="370.66" width="5.63" height="4.99" fill="#381a40"/>
<rect x="163.11" y="370.66" width="5.63" height="4.99" fill="#4c1d4b"/>
<rect x="168.49" y="370.66" width="5.63" height="4.99" fill="#901d5b"/>
<rect x="173.87" y="370.66" width="5.63" height="4.99" fill="#ce1d4e"/>
<rect x="179.26" y="370.66" width="5.63" height="4.99" fill="#b71657"/>
<rect x="184.64" y="370.66" width="11.02" height="4.99" fill="#811e5a"/>
<rect x="195.40" y="370.66" width="5.63" height="4.99" fill="#ce1d4e"/>
<rect x="200.79" y="370.66" width="5.63" height="4.99" fill="#faebdd"/>
<rect x="206.17" y="370.66" width="5.63" height="4.99" fill="#f69c73"/>
<rect x="211.55" y="370.66" width="5.63" height="4.99" fill="#f05c42"/>
<rect x="216.94" y="370.66" width="5.63" height="4.99" fill="#811e5a"/>
<rect x="222.32" y="370.66" width="11.02" height="4.99" fill="#b71657"/>
<rect x="233.09" y="370.66" width="21.78" height="4.99" fill="#711f57"/>
<rect x="254.62" y="370.66" width="5.38" height="4.99" fill="#381a40"/>
<rect x="7.00" y="375.40" width="5.63" height="4.99" fill="#381a40"/>
<rect x="12.38" y="375.40" width="11.02" height="4.99" fill="#271534"/>
<rect x="23.15" y="375.40" width="11.02" height="4.99" fill="#170f28"/>
<rect x="33.91" y="375.40" width="5.63" height="4.99" fill="#381a40"/>
<rect x="39.30" y="375.40" width="5.63" height="4.99" fill="#811e5a"/>
<rect x="44.68" y="375.40" width="11.02" height="4.99" fill="#5e1f52"/>
<rect x="55.45" y="375.40" width="5.63" height="4.99" fill="#a3195b"/>
<rect x="60.83" y="375.40" width="5.63" height="4.99" fill="#381a40"/>
<rect x="66.21" y="375.40" width="11.02" height="4.99" fill="#5e1f52"/>
<rect x="76.98" y="375.40" width="5.63" height="4.99" fill="#811e5a"/>
<rect x="82.36" y="375.40" width="5.63" height="4.99" fill="#b71657"/>
<rect x="87.74" y="375.40" width="5.63" height="4.99" fill="#271534"/>
<rect x="93.13" y="375.40" width="5.63" height="4.99" fill="#811e5a"/>
<rect x="98.51" y="375.40" width="5.63" height="4.99" fill="#901d5b"/>
<rect x="103.89" y="375.40" width="5.63" height="4.99" fill="#381a40"/>
<rect x="109.28" y="375.40" width="11.02" height="4.99" fill="#4c1d4b"/>
<rect x="120.04" y="375.40" width="5.63" height="4.99" fill="#ce1d4e"/>
<rect x="125.43" y="375.40" width="5.63" height="4.99" fill="#381a40"/>
<rect x="130.81" y="375.40" width="5.63" height="4.99" fill="#4c1d4b"/>
<rect x="136.19" y="375.40" width="5.63" height="4.99" fill="#a3195b"/>
<rect x="141.57" y="375.40" width="5.63" height="4.99" fill="#5e1f52"/>
<rect x="146.96" y="375.40" width="5.63" height="4.99" fill="#eb463e"/>
<rect x="152.34" y="375.40" width="5.63" height="4.99" fill="#381a40"/>
<rect x="157.72" y="375.40" width="5.63" height="4.99" fill="#170f28"/>
<rect x="163.11" y="375.40" width="5.63" height="4.99" fill="#711f57"/>
<rect x="168.49" y="375.40" width="5.63" height="4.99" fill="#ce1d4e"/>
<rect x="173.87" y="375.40" width="5.63" height="4.99" fill="#e03143"/>
<rect x="179.26" y="375.40" width="5.63" height="4.99" fill="#ce1d4e"/>
<rect x="184.64" y="375.40" width="5.63" height="4.99" fill="#901d5b"/>
<rect x="190.02" y="375.40" width="5.63" height="4.99" fill="#a3195b"/>
<rect x="195.40" y="375.40" width="5.63" height="4.99" fill="#b71657"/>
<rect x="200.79" y="375.40" width="5.63" height="4.99" fill="#f69c73"/>
<rect x="206.17" y="375.40" width="5.63" height="4.99" fill="#faebdd"/>
<rect x="211.55" y="375.40" width="5.63" height="4.99" fill="#a3195b"/>
<rect x="216.94" y="375.40" width="5.63" height="4.99" fill="#811e5a"/>
<rect x="222.32" y="375.40" width="11.02" height="4.99" fill="#b71657"/>
<rect x="233.09" y="375.40" width="5.63" height="4.99" fill="#381a40"/>
<rect x="238.47" y="375.40" width="5.63" height="4.99" fill="#811e5a"/>
<rect x="243.85" y="375.40" width="5.63" height="4.99" fill="#711f57"/>
<rect x="249.23" y="375.40" width="5.63" height="4.99" fill="#901d5b"/>
<rect x="254.62" y="375.40" width="5.38" height="4.99" fill="#4c1d4b"/>
<rect x="7.00" y="380.14" width="11.02" height="4.99" fill="#271534"/>
<rect x="17.77" y="380.14" width="5.63" height="4.99" fill="#4c1d4b"/>
<rect x="23.15" y="380.14" width="5.63" height="4.99" fill="#711f57"/>
<rect x="28.53" y="380.14" width="11.02" height="4.99" fill="#170f28"/>
<rect x="39.30" y="380.14" width="5.63" height="4.99" fill="#271534"/>
<rect x="44.68" y="380.14" width="37.93" height="4.99" fill="#170f28"/>
<rect x="82.36" y="380.14" width="5.63" height="4.99" fill="#711f57"/>
<rect x="87.74" y="380.14" width="11.02" height="4.99" fill="#5e1f52"/>
<rect x="98.51" y="380.14" width="11.02" height="4.99" fill="#901d5b"/>
<rect x="109.28" y="380.14" width="5.63" height="4.99" fill="#711f57"/>
<rect x="114.66" y="380.14" width="5.63" height="4.99" fill="#811e5a"/>
<rect x="120.04" y="380.14" width="5.63" height="4.99" fill="#711f57"/>
<rect x="125.43" y="380.14" width="11.02" height="4.99" fill="#901d5b"/>
<rect x="136.19" y="380.14" width="16.40" height="4.99" fill="#a3195b"/>
<rect x="152.34" y="380.14" width="5.63" height="4.99" fill="#711f57"/>
<rect x="157.72" y="380.14" width="11.02" height="4.99" fill="#a3195b"/>
<rect x="168.49" y="380.14" width="5.63" height="4.99" fill="#5e1f52"/>
<rect x="173.87" y="380.14" width="5.63" height="4.99" fill="#901d5b"/>
<rect x="179.26" y="380.14" width="5.63" height="4.99" fill="#a3195b"/>
<rect x="184.64" y="380.14" width="5.63" height="4.99" fill="#ce1d4e"/>
<rect x="190.02" y="380.14" width="5.63" height="4.99" fill="#271534"/>
<rect x="195.40" y="380.14" width="5.63" height="4.99" fill="#a3195b"/>
<rect x="200.79" y="380.14" width="5.63" height="4.99" fill="#f05c42"/>
<rect x="206.17" y="380.14" width="5.63" height="4.99" fill="#a3195b"/>
<rect x="211.55" y="380.14" width="5.63" height="4.99" fill="#faebdd"/>
<rect x="216.94" y="380.14" width="5.63" height="4.99" fill="#f05c42"/>
<rect x="222.32" y="380.14" width="5.63" height="4.99" fill="#ce1d4e"/>
<rect x="227.70" y="380.14" width="5.63" height="4.99" fill="#901d5b"/>
<rect x="233.09" y="380.14" width="5.63" height="4.99" fill="#811e5a"/>
<rect x="238.47" y="380.14" width="5.63" height="4.99" fill="#a3195b"/>
<rect x="243.85" y="380.14" width="5.63" height="4.99" fill="#711f57"/>
<rect x="249.23" y="380.14" width="10.77" height="4.99" fill="#811e5a"/>
<rect x="7.00" y="384.88" width="5.63" height="4.99" fill="#5e1f52"/>
<rect x="12.38" y="384.88" width="5.63" height="4.99" fill="#4c1d4b"/>
<rect x="17.77" y="384.88" width="5.63" height="4.99" fill="#711f57"/>
<rect x="23.15" y="384.88" width="5.63" height="4.99" fill="#eb463e"/>
<rect x="28.53" y="384.88" width="5.63" height="4.99" fill="#4c1d4b"/>
<rect x="33.91" y="384.88" width="5.63" height="4.99" fill="#381a40"/>
<rect x="39.30" y="384.88" width="5.63" height="4.99" fill="#711f57"/>
<rect x="44.68" y="384.88" width="5.63" height="4.99" fill="#170f28"/>
<rect x="50.06" y="384.88" width="11.02" height="4.99" fill="#381a40"/>
<rect x="60.83" y="384.88" width="5.63" height="4.99" fill="#170f28"/>
<rect x="66.21" y="384.88" width="5.63" height="4.99" fill="#271534"/>
<rect x="71.60" y="384.88" width="5.63" height="4.99" fill="#5e1f52"/>
<rect x="76.98" y="384.88" width="5.63" height="4.99" fill="#170f28"/>
<rect x="82.36" y="384.88" width="5.63" height="4.99" fill="#901d5b"/>
<rect x="87.74" y="384.88" width="11.02" height="4.99" fill="#271534"/>
<rect x="98.51" y="384.88" width="5.63" height="4.99" fill="#711f57"/>
<rect x="103.89" y="384.88" width="5.63" height="4.99" fill="#a3195b"/>
<rect x="109.28" y="384.88" width="5.63" height="4.99" fill="#811e5a"/>
<rect x="114.66" y="384.88" width="11.02" height="4.99" fill="#a3195b"/>
<rect x="125.43" y="384.88" width="5.63" height="4.99" fill="#901d5b"/>
<rect x="130.81" y="384.88" width="5.63" height="4.99" fill="#b71657"/>
<rect x="136.19" y="384.88" width="5.63" height="4.99" fill="#e03143"/>
<rect x="141.57" y="384.88" width="5.63" height="4.99" fill="#901d5b"/>
<rect x="146.96" y="384.88" width="5.63" height="4.99" fill="#811e5a"/>
<rect x="152.34" y="384.88" width="5.63" height="4.99" fill="#381a40"/>
<rect x="157.72" y="384.88" width="5.63" height="4.99" fill="#711f57"/>
<rect x="163.11" y="384.88" width="5.63" height="4.99" fill="#811e5a"/>
<rect x="168.49" y="384.88" width="5.63" height="4.99" fill="#4c1d4b"/>
<rect x="173.87" y="384.88" width="5.63" height="4.99" fill="#711f57"/>
<rect x="179.26" y="384.88" width="5.63" height="4.99" fill="#901d5b"/>
<rect x="184.64" y="384.88" width="5.63" height="4.99" fill="#ce1d4e"/>
<rect x="190.02" y="384.88" width="5.63" height="4.99" fill="#271534"/>
<rect x="195.40" y="384.88" width="5.63" height="4.99" fill="#901d5b"/>
<rect x="200.79" y="384.88" width="11.02" height="4.99" fill="#811e5a"/>
<rect x="211.55" y="384.88" width="5.63" height="4.99" fill="#f05c42"/>
<rect x="216.94" y="384.88" width="5.63" height="4.99" fill="#faebdd"/>
<rect x="222.32" y="384.88" width="5.63" height="4.99" fill="#a3195b"/>
<rect x="227.70" y="384.88" width="5.63" height="4.99" fill="#711f57"/>
<rect x="233.09" y="384.88" width="5.63" height="4.99" fill="#5e1f52"/>
<rect x="238.47" y="384.88" width="5.63" height="4.99" fill="#811e5a"/>
<rect x="243.85" y="384.88" width="5.63" height="4.99" fill="#711f57"/>
<rect x="249.23" y="384.88" width="5.63" height="4.99" fill="#811e5a"/>
<rect x="254.62" y="384.88" width="5.38" height="4.99" fill="#b71657"/>
<rect x="7.00" y="389.62" width="5.63" height="4.99" fill="#4c1d4b"/>
<rect x="12.38" y="389.62" width="5.63" height="4.99" fill="#5e1f52"/>
<rect x="17.77" y="389.62" width="5.63" height="4.99" fill="#711f57"/>
<rect x="23.15" y="389.62" width="5.63" height="4.99" fill="#811e5a"/>
<rect x="28.53" y="389.62" width="11.02" height="4.99" fill="#170f28"/>
<rect x="39.30" y="389.62" width="5.63" height="4.99" fill="#711f57"/>
<rect x="44.68" y="389.62" width="21.78" height="4.99" fill="#170f28"/>
<rect x="66.21" y="389.62" width="5.63" height="4.99" fill="#381a40"/>
<rect x="71.60" y="389.62" width="5.63" height="4.99" fill="#271534"/>
<rect x="76.98" y="389.62" width="11.02" height="4.99" fill="#901d5b"/>
<rect x="87.74" y="389.62" width="5.63" height="4.99" fill="#5e1f52"/>
<rect x="93.13" y="389.62" width="5.63" height="4.99" fill="#811e5a"/>
<rect x="98.51" y="389.62" width="5.63" height="4.99" fill="#711f57"/>
<rect x="103.89" y="389.62" width="5.63" height="4.99" fill="#5e1f52"/>
<rect x="109.28" y="389.62" width="5.63" height="4.99" fill="#271534"/>
<rect x="114.66" y="389.62" width="11.02" height="4.99" fill="#811e5a"/>
<rect x="125.43" y="389.62" width="5.63" height="4.99" fill="#711f57"/>
<rect x="130.81" y="389.62" width="5.63" height="4.99" fill="#901d5b"/>
<rect x="136.19" y="389.62" width="5.63" height="4.99" fill="#811e5a"/>
<rect x="141.57" y="389.62" width="5.63" height="4.99" fill="#ce1d4e"/>
<rect x="146.96" y="389.62" width="5.63" height="4.99" fill="#a3195b"/>
<rect x="152.34" y="389.62" width="5.63" height="4.99" fill="#4c1d4b"/>
<rect x="157.72" y="389.62" width="5.63" height="4.99" fill="#5e1f52"/>
<rect x="163.11" y="389.62" width="5.63" height="4.99" fill="#901d5b"/>
<rect x="168.49" y="389.62" width="5.63" height="4.99" fill="#811e5a"/>
<rect x="173.87" y="389.62" width="11.02" height="4.99" fill="#a3195b"/>
<rect x="184.64" y="389.62" width="5.63" height="4.99" fill="#811e5a"/>
<rect x="190.02" y="389.62" width="5.63" height="4.99" fill="#381a40"/>
<rect x="195.40" y="389.62" width="5.63" height="4.99" fill="#901d5b"/>
<rect x="200.79" y="389.62" width="11.02" height="4.99" fill="#b71657"/>
<rect x="211.55" y="389.62" width="5.63" height="4.99" fill="#ce1d4e"/>
<rect x="216.94" y="389.62" width="5.63" height="4.99" fill="#a3195b"/>
<rect x="222.32" y="389.62" width="5.63" height="4.99" fill="#faebdd"/>
<rect x="227.70" y="389.62" width="5.63" height="4.99" fill="#eb463e"/>
<rect x="233.09" y="389.62" width="5.63" height="4.99" fill="#b71657"/>
<rect x="238.47" y="389.62" width="5.63" height="4.99" fill="#ce1d4e"/>
<rect x="243.85" y="389.62" width="11.02" height="4.99" fill="#711f57"/>
<rect x="254.62" y="389.62" width="5.38" height="4.99" fill="#4c1d4b"/>
<rect x="7.00" y="394.36" width="11.02" height="4.99" fill="#170f28"/>
<rect x="17.77" y="394.36" width="5.63" height="4.99" fill="#271534"/>
<rect x="23.15" y="394.36" width="21.78" height="4.99" fill="#170f28"/>
<rect x="44.68" y="394.36" width="5.63" height="4.99" fill="#381a40"/>
<rect x="50.06" y="394.36" width="5.63" height="4.99" fill="#271534"/>
<rect x="55.45" y="394.36" width="11.02" height="4.99" fill="#170f28"/>
<rect x="66.21" y="394.36" width="11.02" height="4.99" fill="#811e5a"/>
<rect x="76.98" y="394.36" width="5.63" height="4.99" fill="#901d5b"/>
<rect x="82.36" y="394.36" width="5.63" height="4.99" fill="#4c1d4b"/>
<rect x="87.74" y="394.36" width="5.63" height="4.99" fill="#381a40"/>
<rect x="93.13" y="394.36" width="5.63" height="4.99" fill="#271534"/>
<rect x="98.51" y="394.36" width="5.63" height="4.99" fill="#711f57"/>
<rect x="103.89" y="394.36" width="16.40" height="4.99" fill="#4c1d4b"/>
<rect x="120.04" y="394.36" width="11.02" height="4.99" fill="#811e5a"/>
<rect x="130.81" y="394.36" width="5.63" height="4.99" fill="#711f57"/>
<rect x="136.19" y="394.36" width="5.63" height="4.99" fill="#4c1d4b"/>
<rect x="141.57" y="394.36" width="5.63" height="4.99" fill="#5e1f52"/>
<rect x="146.96" y="394.36" width="5.63" height="4.99" fill="#901d5b"/>
<rect x="152.34" y="394.36" width="5.63" height="4.99" fill="#4c1d4b"/>
<rect x="157.72" y="394.36" width="5.63" height="4.99" fill="#5e1f52"/>
<rect x="163.11" y="394.36" width="5.63" height="4.99" fill="#a3195b"/>
<rect x="168.49" y="394.36" width="5.63" height="4.99" fill="#5e1f52"/>
<rect x="173.87" y="394.36" width="5.63" height="4.99" fill="#a3195b"/>
<rect x="179.26" y="394.36" width="5.63" height="4.99" fill="#811e5a"/>
<rect x="184.64" y="394.36" width="5.63" height="4.99" fill="#711f57"/>
<rect x="190.02" y="394.36" width="11.02" height="4.99" fill="#901d5b"/>
<rect x="200.79" y="394.36" width="11.02" height="4.99" fill="#b71657"/>
<rect x="211.55" y="394.36" width="5.63" height="4.99" fill="#901d5b"/>
<rect x="216.94" y="394.36" width="5.63" height="4.99" fill="#711f57"/>
<rect x="222.32" y="394.36" width="5.63" height="4.99" fill="#eb463e"/>
<rect x="227.70" y="394.36" width="5.63" height="4.99" fill="#faebdd"/>
<rect x="233.09" y="394.36" width="5.63" height="4.99" fill="#901d5b"/>
<rect x="238.47" y="394.36" width="5.63" height="4.99" fill="#711f57"/>
<rect x="243.85" y="394.36" width="5.63" height="4.99" fill="#5e1f52"/>
<rect x="249.23" y="394.36" width="10.77" height="4.99" fill="#811e5a"/>
<rect x="7.00" y="399.10" width="5.63" height="4.99" fill="#5e1f52"/>
<rect x="12.38" y="399.10" width="11.02" height="4.99" fill="#711f57"/>
<rect x="23.15" y="399.10" width="5.63" height="4.99" fill="#b71657"/>
<rect x="28.53" y="399.10" width="5.63" height="4.99" fill="#711f57"/>
<rect x="33.91" y="399.10" width="5.63" height="4.99" fill="#170f28"/>
<rect x="39.30" y="399.10" width="5.63" height="4.99" fill="#4c1d4b"/>
<rect x="44.68" y="399.10" width="37.93" height="4.99" fill="#170f28"/>
<rect x="82.36" y="399.10" width="5.63" height="4.99" fill="#5e1f52"/>
<rect x="87.74" y="399.10" width="5.63" height="4.99" fill="#711f57"/>
<rect x="93.13" y="399.10" width="5.63" height="4.99" fill="#811e5a"/>
<rect x="98.51" y="399.10" width="5.63" height="4.99" fill="#711f57"/>
<rect x="103.89" y="399.10" width="5.63" height="4.99" fill="#5e1f52"/>
<rect x="109.28" y="399.10" width="5.63" height="4.99" fill="#271534"/>
<rect x="114.66" y="399.10" width="5.63" height="4.99" fill="#811e5a"/>
<rect x="120.04" y="399.10" width="5.63" height="4.99" fill="#170f28"/>
<rect x="125.43" y="399.10" width="5.63" height="4.99" fill="#711f57"/>
<rect x="130.81" y="399.10" width="11.02" height="4.99" fill="#5e1f52"/>
<rect x="141.57" y="399.10" width="5.63" height="4.99" fill="#711f57"/>
<rect x="146.96" y="399.10" width="5.63" height="4.99" fill="#a3195b"/>
<rect x="152.34" y="399.10" width="5.63" height="4.99" fill="#381a40"/>
<rect x="157.72" y="399.10" width="5.63" height="4.99" fill="#901d5b"/>
<rect x="163.11" y="399.10" width="5.63" height="4.99" fill="#4c1d4b"/>
<rect x="168.49" y="399.10" width="5.63" height="4.99" fill="#381a40"/>
<rect x="173.87" y="399.10" width="11.02" height="4.99" fill="#5e1f52"/>
<rect x="184.64" y="399.10" width="5.63" height="4.99" fill="#271534"/>
<rect x="190.02" y="399.10" width="5.63" height="4.99" fill="#170f28"/>
<rect x="195.40" y="399.10" width="5.63" height="4.99" fill="#4c1d4b"/>
<rect x="200.79" y="399.10" width="5.63" height="4.99" fill="#711f57"/>
<rect x="206.17" y="399.10" width="5.63" height="4.99" fill="#381a40"/>
<rect x="211.55" y="399.10" width="5.63" height="4.99" fill="#811e5a"/>
<rect x="216.94" y="399.10" width="5.63" height="4.99" fill="#5e1f52"/>
<rect x="222.32" y="399.10" width="5.63" height="4.99" fill="#b71657"/>
<rect x="227.70" y="399.10" width="5.63" height="4.99" fill="#901d5b"/>
<rect x="233.09" y="399.10" width="5.63" height="4.99" fill="#faebdd"/>
<rect x="238.47" y="399.10" width="5.63" height="4.99" fill="#f4865e"/>
<rect x="243.85" y="399.10" width="5.63" height="4.99" fill="#f05c42"/>
<rect x="249.23" y="399.10" width="10.77" height="4.99" fill="#08081e"/>
<rect x="7.00" y="403.84" width="16.40" height="4.99" fill="#5e1f52"/>
<rect x="23.15" y="403.84" width="5.63" height="4.99" fill="#ce1d4e"/>
<rect x="28.53" y="403.84" width="5.63" height="4.99" fill="#711f57"/>
<rect x="33.91" y="403.84" width="5.63" height="4.99" fill="#170f28"/>
<rect x="39.30" y="403.84" width="5.63" height="4.99" fill="#381a40"/>
<rect x="44.68" y="403.84" width="21.78" height="4.99" fill="#170f28"/>
<rect x="66.21" y="403.84" width="5.63" height="4.99" fill="#5e1f52"/>
<rect x="71.60" y="403.84" width="5.63" height="4.99" fill="#170f28"/>
<rect x="76.98" y="403.84" width="5.63" height="4.99" fill="#271534"/>
<rect x="82.36" y="403.84" width="5.63" height="4.99" fill="#811e5a"/>
<rect x="87.74" y="403.84" width="5.63" height="4.99" fill="#711f57"/>
<rect x="93.13" y="403.84" width="5.63" height="4.99" fill="#4c1d4b"/>
<rect x="98.51" y="403.84" width="11.02" height="4.99" fill="#271534"/>
<rect x="109.28" y="403.84" width="5.63" height="4.99" fill="#170f28"/>
<rect x="114.66" y="403.84" width="5.63" height="4.99" fill="#eb463e"/>
<rect x="120.04" y="403.84" width="5.63" height="4.99" fill="#5e1f52"/>
<rect x="125.43" y="403.84" width="11.02" height="4.99" fill="#811e5a"/>
<rect x="136.19" y="403.84" width="11.02" height="4.99" fill="#ce1d4e"/>
<rect x="146.96" y="403.84" width="5.63" height="4.99" fill="#e03143"/>
<rect x="152.34" y="403.84" width="5.63" height="4.99" fill="#711f57"/>
<rect x="157.72" y="403.84" width="5.63" height="4.99" fill="#901d5b"/>
<rect x="163.11" y="403.84" width="5.63" height="4.99" fill="#5e1f52"/>
<rect x="168.49" y="403.84" width="5.63" height="4.99" fill="#271534"/>
<rect x="173.87" y="403.84" width="5.63" height="4.99" fill="#811e5a"/>
<rect x="179.26" y="403.84" width="5.63" height="4.99" fill="#5e1f52"/>
<rect x="184.64" y="403.84" width="5.63" height="4.99" fill="#711f57"/>
<rect x="190.02" y="403.84" width="5.63" height="4.99" fill="#170f28"/>
<rect x="195.40" y="403.84" width="5.63" height="4.99" fill="#381a40"/>
<rect x="200.79" y="403.84" width="5.63" height="4.99" fill="#711f57"/>
<rect x="206.17" y="403.84" width="5.63" height="4.99" fill="#811e5a"/>
<rect x="211.55" y="403.84" width="5.63" height="4.99" fill="#a3195b"/>
<rect x="216.94" y="403.84" width="5.63" height="4.99" fill="#811e5a"/>
<rect x="222.32" y="403.84" width="5.63" height="4.99" fill="#ce1d4e"/>
<rect x="227.70" y="403.84" width="5.63" height="4.99" fill="#711f57"/>
<rect x="233.09" y="403.84" width="5.63" height="4.99" fill="#f4865e"/>
<rect x="238.47" y="403.84" width="5.63" height="4.99" fill="#faebdd"/>
<rect x="243.85" y="403.84" width="5.63" height="4.99" fill="#f3734e"/>
<rect x="249.23" y="403.84" width="10.77" height="4.99" fill="#08081e"/>
<rect x="7.00" y="408.58" width="21.78" height="4.99" fill="#711f57"/>
<rect x="28.53" y="408.58" width="11.02" height="4.99" fill="#381a40"/>
<rect x="39.30" y="408.58" width="5.63" height="4.99" fill="#5e1f52"/>
<rect x="44.68" y="408.58" width="11.02" height="4.99" fill="#381a40"/>
<rect x="55.45" y="408.58" width="5.63" height="4.99" fill="#4c1d4b"/>
<rect x="60.83" y="408.58" width="5.63" height="4.99" fill="#170f28"/>
<rect x="66.21" y="408.58" width="5.63" height="4.99" fill="#5e1f52"/>
<rect x="71.60" y="408.58" width="5.63" height="4.99" fill="#170f28"/>
<rect x="76.98" y="408.58" width="5.63" height="4.99" fill="#381a40"/>
<rect x="82.36" y="408.58" width="5.63" height="4.99" fill="#ce1d4e"/>
<rect x="87.74" y="408.58" width="5.63" height="4.99" fill="#5e1f52"/>
<rect x="93.13" y="408.58" width="16.40" height="4.99" fill="#170f28"/>
<rect x="109.28" y="408.58" width="5.63" height="4.99" fill="#381a40"/>
<rect x="114.66" y="408.58" width="11.02" height="4.99" fill="#901d5b"/>
<rect x="125.43" y="408.58" width="5.63" height="4.99" fill="#ce1d4e"/>
<rect x="130.81" y="408.58" width="5.63" height="4.99" fill="#b71657"/>
<rect x="136.19" y="408.58" width="5.63" height="4.99" fill="#901d5b"/>
<rect x="141.57" y="408.58" width="5.63" height="4.99" fill="#e03143"/>
<rect x="146.96" y="408.58" width="5.63" height="4.99" fill="#811e5a"/>
<rect x="152.34" y="408.58" width="21.78" height="4.99" fill="#381a40"/>
<rect x="173.87" y="408.58" width="5.63" height="4.99" fill="#271534"/>
<rect x="179.26" y="408.58" width="5.63" height="4.99" fill="#170f28"/>
<rect x="184.64" y="408.58" width="5.63" height="4.99" fill="#811e5a"/>
<rect x="190.02" y="408.58" width="5.63" height="4.99" fill="#5e1f52"/>
<rect x="195.40" y="408.58" width="5.63" height="4.99" fill="#811e5a"/>
<rect x="200.79" y="408.58" width="27.16" height="4.99" fill="#711f57"/>
<rect x="227.70" y="408.58" width="5.63" height="4.99" fill="#5e1f52"/>
<rect x="233.09" y="408.58" width="5.63" height="4.99" fill="#f05c42"/>
<rect x="238.47" y="408.58" width="5.63" height="4.99" fill="#f3734e"/>
<rect x="243.85" y="408.58" width="5.63" height="4.99" fill="#faebdd"/>
<rect x="249.23" y="408.58" width="5.63" height="4.99" fill="#811e5a"/>
<rect x="254.62" y="408.58" width="5.38" height="4.99" fill="#5e1f52"/>
<rect x="7.00" y="413.32" width="5.63" height="4.99" fill="#711f57"/>
<rect x="12.38" y="413.32" width="5.63" height="4.99" fill="#5e1f52"/>
<rect x="17.77" y="413.32" width="5.63" height="4.99" fill="#4c1d4b"/>
<rect x="23.15" y="413.32" width="5.63" height="4.99" fill="#381a40"/>
<rect x="28.53" y="413.32" width="11.02" height="4.99" fill="#170f28"/>
<rect x="39.30" y="413.32" width="5.63" height="4.99" fill="#5e1f52"/>
<rect x="44.68" y="413.32" width="5.63" height="4.99" fill="#170f28"/>
<rect x="50.06" y="413.32" width="11.02" height="4.99" fill="#4c1d4b"/>
<rect x="60.83" y="413.32" width="5.63" height="4.99" fill="#381a40"/>
<rect x="66.21" y="413.32" width="5.63" height="4.99" fill="#271534"/>
<rect x="71.60" y="413.32" width="5.63" height="4.99" fill="#170f28"/>
<rect x="76.98" y="413.32" width="5.63" height="4.99" fill="#381a40"/>
<rect x="82.36" y="413.32" width="5.63" height="4.99" fill="#811e5a"/>
<rect x="87.74" y="413.32" width="5.63" height="4.99" fill="#5e1f52"/>
<rect x="93.13" y="413.32" width="5.63" height="4.99" fill="#170f28"/>
<rect x="98.51" y="413.32" width="5.63" height="4.99" fill="#381a40"/>
<rect x="103.89" y="413.32" width="16.40" height="4.99" fill="#170f28"/>
<rect x="120.04" y="413.32" width="5.63" height="4.99" fill="#901d5b"/>
<rect x="125.43" y="413.32" width="5.63" height="4.99" fill="#271534"/>
<rect x="130.81" y="413.32" width="5.63" height="4.99" fill="#811e5a"/>
<rect x="136.19" y="413.32" width="5.63" height="4.99" fill="#271534"/>
<rect x="141.57" y="413.32" width="5.63" height="4.99" fill="#5e1f52"/>
<rect x="146.96" y="413.32" width="5.63" height="4.99" fill="#381a40"/>
<rect x="152.34" y="413.32" width="16.40" height="4.99" fill="#170f28"/>
<rect x="168.49" y="413.32" width="5.63" height="4.99" fill="#381a40"/>
<rect x="173.87" y="413.32" width="11.02" height="4.99" fill="#170f28"/>
<rect x="184.64" y="413.32" width="5.63" height="4.99" fill="#271534"/>
<rect x="190.02" y="413.32" width="5.63" height="4.99" fill="#4c1d4b"/>
<rect x="195.40" y="413.32" width="5.63" height="4.99" fill="#811e5a"/>
<rect x="200.79" y="413.32" width="5.63" height="4.99" fill="#711f57"/>
<rect x="206.17" y="413.32" width="5.63" height="4.99" fill="#901d5b"/>
<rect x="211.55" y="413.32" width="11.02" height="4.99" fill="#811e5a"/>
<rect x="222.32" y="413.32" width="5.63" height="4.99" fill="#711f57"/>
<rect x="227.70" y="413.32" width="5.63" height="4.99" fill="#811e5a"/>
<rect x="233.09" y="413.32" width="11.02" height="4.99" fill="#08081e"/>
<rect x="243.85" y="413.32" width="5.63" height="4.99" fill="#811e5a"/>
<rect x="249.23" y="413.32" width="5.63" height="4.99" fill="#faebdd"/>
<rect x="254.62" y="413.32" width="5.38" height="4.99" fill="#a3195b"/>
<rect x="7.00" y="418.06" width="16.40" height="4.74" fill="#5e1f52"/>
<rect x="23.15" y="418.06" width="5.63" height="4.74" fill="#711f57"/>
<rect x="28.53" y="418.06" width="11.02" height="4.74" fill="#170f28"/>
<rect x="39.30" y="418.06" width="5.63" height="4.74" fill="#5e1f52"/>
<rect x="44.68" y="418.06" width="5.63" height="4.74" fill="#170f28"/>
<rect x="50.06" y="418.06" width="11.02" height="4.74" fill="#4c1d4b"/>
<rect x="60.83" y="418.06" width="11.02" height="4.74" fill="#170f28"/>
<rect x="71.60" y="418.06" width="5.63" height="4.74" fill="#381a40"/>
<rect x="76.98" y="418.06" width="5.63" height="4.74" fill="#271534"/>
<rect x="82.36" y="418.06" width="5.63" height="4.74" fill="#381a40"/>
<rect x="87.74" y="418.06" width="11.02" height="4.74" fill="#170f28"/>
<rect x="98.51" y="418.06" width="5.63" height="4.74" fill="#a3195b"/>
<rect x="103.89" y="418.06" width="11.02" height="4.74" fill="#4c1d4b"/>
<rect x="114.66" y="418.06" width="5.63" height="4.74" fill="#170f28"/>
<rect x="120.04" y="418.06" width="5.63" height="4.74" fill="#711f57"/>
<rect x="125.43" y="418.06" width="5.63" height="4.74" fill="#901d5b"/>
<rect x="130.81" y="418.06" width="5.63" height="4.74" fill="#b71657"/>
<rect x="136.19" y="418.06" width="11.02" height="4.74" fill="#5e1f52"/>
<rect x="146.96" y="418.06" width="5.63" height="4.74" fill="#271534"/>
<rect x="152.34" y="418.06" width="5.63" height="4.74" fill="#381a40"/>
<rect x="157.72" y="418.06" width="5.63" height="4.74" fill="#811e5a"/>
<rect x="163.11" y="418.06" width="11.02" height="4.74" fill="#4c1d4b"/>
<rect x="173.87" y="418.06" width="11.02" height="4.74" fill="#381a40"/>
<rect x="184.64" y="418.06" width="5.63" height="4.74" fill="#4c1d4b"/>
<rect x="190.02" y="418.06" width="5.63" height="4.74" fill="#170f28"/>
<rect x="195.40" y="418.06" width="5.63" height="4.74" fill="#a3195b"/>
<rect x="200.79" y="418.06" width="5.63" height="4.74" fill="#381a40"/>
<rect x="206.17" y="418.06" width="5.63" height="4.74" fill="#4c1d4b"/>
<rect x="211.55" y="418.06" width="5.63" height="4.74" fill="#811e5a"/>
<rect x="216.94" y="418.06" width="5.63" height="4.74" fill="#b71657"/>
<rect x="222.32" y="418.06" width="5.63" height="4.74" fill="#4c1d4b"/>
<rect x="227.70" y="418.06" width="5.63" height="4.74" fill="#811e5a"/>
<rect x="233.09" y="418.06" width="11.02" height="4.74" fill="#08081e"/>
<rect x="243.85" y="418.06" width="5.63" height="4.74" fill="#5e1f52"/>
<rect x="249.23" y="418.06" width="5.63" height="4.74" fill="#a3195b"/>
<rect x="254.62" y="418.06" width="5.38" height="4.74" fill="#faebdd"/>
</g>
<path d="M15.07 46.30V39.50H20.46V46.30M9.69 46.30V32.00H17.77V39.50M13.73 32.00V20.75H25.84V46.30M19.78 20.75V15.50H31.22V46.30M36.61 46.30V24.50H41.99V46.30M25.50 15.50V14.10H39.30V24.50M52.76 46.30V33.90H58.14V46.30M55.45 33.90V25.75H63.52V46.30M47.37 46.30V21.40H59.48V25.75M68.90 46.30V24.40H74.29V46.30M53.43 21.40V20.40H71.60V24.40M79.67 46.30V19.50H85.05V46.30M62.51 20.40V13.90H82.36V19.50M32.40 14.10V8.70H72.44V13.90M95.82 46.30V16.75H101.20V46.30M90.44 46.30V14.50H98.51V16.75M111.97 46.30V17.60H117.35V46.30M128.12 46.30V27.60H133.50V46.30M130.81 27.60V22.60H138.88V46.30M122.73 46.30V21.75H134.85V22.60M128.79 21.75V17.60H144.27V46.30M149.65 46.30V21.00H155.03V46.30M152.34 21.00V17.00H160.41V46.30M136.53 17.60V14.50H156.38V17.00M114.66 17.60V12.50H146.45V14.50M171.18 46.30V23.90H176.56V46.30M181.95 46.30V23.90H187.33V46.30M173.87 23.90V18.60H184.64V23.90M165.80 46.30V17.00H179.26V18.60M172.53 17.00V16.40H192.71V46.30M203.48 46.30V29.50H208.86V46.30M198.10 46.30V17.60H206.17V29.50M214.24 46.30V23.50H219.63V46.30M202.13 17.60V14.70H216.94V23.50M225.01 46.30V21.40H230.39V46.30M209.53 14.70V14.50H227.70V21.40M182.62 16.40V14.20H218.62V14.50M130.56 12.50V12.20H200.62V14.20M106.59 46.30V10.70H165.59V12.20M235.78 46.30V27.60H241.16V46.30M238.47 27.60V22.25H246.54V46.30M136.09 10.70V10.50H242.51V22.25M94.47 14.50V8.25H189.30V10.50M251.93 46.30V15.10H257.31V46.30M141.88 8.25V7.60H254.62V15.10M52.42 8.70V6.60H198.25V7.60" fill="none" stroke="#2a2a2a" stroke-width="0.65"/>
<text x="267" y="56.03" font-size="7.8" textLength="46.2" lengthAdjust="spacingAndGlyphs">Cytogenetics</text>
<text x="267" y="64.28" font-size="7.8" textLength="46" lengthAdjust="spacingAndGlyphs">ELN2017 risk</text>
<text x="267" y="72.54" font-size="7.8" textLength="38" lengthAdjust="spacingAndGlyphs">FAB group</text>
<text x="267" y="80.79" font-size="7.8" textLength="14.2" lengthAdjust="spacingAndGlyphs">Age</text>
<text x="267" y="89.05" font-size="7.8" textLength="12.3" lengthAdjust="spacingAndGlyphs">Sex</text>
<text x="267" y="97.31" font-size="7.8" font-style="italic" textLength="16.9" lengthAdjust="spacingAndGlyphs">FLT3</text>
<text x="267" y="105.56" font-size="7.8" font-style="italic" textLength="33.6" lengthAdjust="spacingAndGlyphs">DNMT3A</text>
<text x="267" y="113.82" font-size="7.8" font-style="italic" textLength="21.7" lengthAdjust="spacingAndGlyphs">NPM1</text>
<text x="267" y="122.07" font-size="7.8" font-style="italic" textLength="20.8" lengthAdjust="spacingAndGlyphs">NRAS</text>
<text x="267" y="130.33" font-size="7.8" font-style="italic" textLength="25.1" lengthAdjust="spacingAndGlyphs">CEBPA</text>
<text x="267" y="138.58" font-size="7.8" font-style="italic" textLength="15.9" lengthAdjust="spacingAndGlyphs">WT1</text>
<text x="267" y="146.84" font-size="7.8" font-style="italic" textLength="17.6" lengthAdjust="spacingAndGlyphs">IDH1</text>
<text x="267" y="155.09" font-size="7.8" font-style="italic" textLength="18" lengthAdjust="spacingAndGlyphs">IDH2</text>
<text x="267" y="163.35" font-size="7.8" font-style="italic" textLength="17.6" lengthAdjust="spacingAndGlyphs">TP53</text>
<text x="267" y="171.61" font-size="7.8" font-style="italic" textLength="25.1" lengthAdjust="spacingAndGlyphs">RUNX1</text>
<text x="267" y="179.86" font-size="7.8" font-style="italic" textLength="21.4" lengthAdjust="spacingAndGlyphs">SMC3</text>
<text x="267" y="188.12" font-size="7.8" font-style="italic" textLength="17.6" lengthAdjust="spacingAndGlyphs">TET2</text>
<text x="267" y="196.37" font-size="7.8" font-style="italic" textLength="11.1" lengthAdjust="spacingAndGlyphs">KIT</text>
<path d="M260.8 52.83H263.6M260.8 61.08H263.6M260.8 69.34H263.6M260.8 77.59H263.6M260.8 85.85H263.6M260.8 94.11H263.6M260.8 102.36H263.6M260.8 110.62H263.6M260.8 118.87H263.6M260.8 127.13H263.6M260.8 135.38H263.6M260.8 143.64H263.6M260.8 151.89H263.6M260.8 160.15H263.6M260.8 168.41H263.6M260.8 176.66H263.6M260.8 184.92H263.6M260.8 193.17H263.6" stroke="#000" stroke-width="0.9" fill="none"/>
<path d="M260.6 200.00H267.4V214.32H260.6M260.6 233.18H267.4V271.21H260.6M260.6 290.07H267.4V304.39H260.6M260.6 399.10H267.4V413.42H260.6" stroke="#111" stroke-width="0.85" fill="none"/>
<text x="270.1" y="209.1" font-size="7.8" textLength="49" lengthAdjust="spacingAndGlyphs">Healthy (0.71)</text>
<text x="270.1" y="249.1" font-size="7.8" textLength="33.9" lengthAdjust="spacingAndGlyphs">Activated</text>
<text x="270.1" y="258.7" font-size="7.8" textLength="38.9" lengthAdjust="spacingAndGlyphs"><tspan font-style="italic">FLT3</tspan> (0.31)</text>
<text x="270.1" y="295.4" font-size="7.8" textLength="48.2" lengthAdjust="spacingAndGlyphs" font-style="italic">CBFB-MYH11</text>
<text x="270.1" y="304.9" font-size="7.8" textLength="19.6" lengthAdjust="spacingAndGlyphs">(0.30)</text>
<text x="270.1" y="404.4" font-size="7.8" textLength="60.3" lengthAdjust="spacingAndGlyphs"><tspan font-style="italic">PML-RARA</tspan> (APL)</text>
<text x="270.1" y="413.7" font-size="7.8" textLength="19.6" lengthAdjust="spacingAndGlyphs">(0.45)</text>
<defs><linearGradient id="cb" x1="0" y1="0" x2="0" y2="1"><stop offset="0.0000" stop-color="#faebdd"/><stop offset="0.0625" stop-color="#f8d3ba"/><stop offset="0.1250" stop-color="#f6bb97"/><stop offset="0.1875" stop-color="#f6a178"/><stop offset="0.2500" stop-color="#f4865e"/><stop offset="0.3125" stop-color="#f26948"/><stop offset="0.3750" stop-color="#ec4a3e"/><stop offset="0.4375" stop-color="#de2e44"/><stop offset="0.5000" stop-color="#cb1b4f"/><stop offset="0.5625" stop-color="#b21758"/><stop offset="0.6250" stop-color="#971c5b"/><stop offset="0.6875" stop-color="#7b1f59"/><stop offset="0.7500" stop-color="#611f53"/><stop offset="0.8125" stop-color="#481c48"/><stop offset="0.8750" stop-color="#30173a"/><stop offset="0.9375" stop-color="#180f29"/><stop offset="1.0000" stop-color="#03051a"/></linearGradient></defs>
<rect x="270" y="329" width="13" height="38.7" fill="url(#cb)"/>
<path d="M283 339.6H285.4M283 362.2H285.4" stroke="#222" stroke-width="0.7"/>
<text x="288.9" y="342.6" font-size="7.8" textLength="10.8" lengthAdjust="spacingAndGlyphs">0.5</text>
<text x="288.9" y="365.2" font-size="7.8" textLength="10.8" lengthAdjust="spacingAndGlyphs">0.0</text>
<rect x="366.3" y="51.40" width="5.0" height="5.0" fill="#F9A11B"/>
<text x="374.7" y="56.30" font-size="7.3" textLength="64.2" lengthAdjust="spacingAndGlyphs">Healthy donor, Lin–</text>
<text x="366.3" y="73.20" font-size="8" font-weight="bold" style="stroke-width:.3px" textLength="51.4" lengthAdjust="spacingAndGlyphs">Cytogenetics</text>
<rect x="366.3" y="81.60" width="5.0" height="5.0" fill="#AF1E23"/>
<text x="374.7" y="86.50" font-size="7.3" textLength="68.3" lengthAdjust="spacingAndGlyphs">Adverse abnormality</text>
<rect x="366.3" y="94.90" width="5.0" height="5.0" fill="#9CCB98"/>
<text x="374.7" y="99.80" font-size="7.3" textLength="33.7" lengthAdjust="spacingAndGlyphs"><tspan font-style="italic">BCR-ABL1</tspan></text>
<rect x="366.3" y="108.30" width="5.0" height="5.0" fill="#14602F"/>
<text x="374.7" y="113.20" font-size="7.3" textLength="45.2" lengthAdjust="spacingAndGlyphs"><tspan font-style="italic">CBFB-MYH11</tspan></text>
<rect x="431.6" y="108.30" width="5.0" height="5.0" fill="#F8B9C6"/>
<text x="439.9" y="113.20" font-size="7.3" textLength="56.2" lengthAdjust="spacingAndGlyphs"><tspan font-style="italic">PML-RARA</tspan> (APL)</text>
<rect x="366.3" y="122.10" width="5.0" height="5.0" fill="#000000"/>
<text x="374.7" y="127.00" font-size="7.3" textLength="29.5" lengthAdjust="spacingAndGlyphs">Complex</text>
<rect x="366.3" y="135.60" width="5.0" height="5.0" fill="#FFD400"/>
<text x="374.7" y="140.50" font-size="7.3" textLength="58.3" lengthAdjust="spacingAndGlyphs"><tspan font-style="italic">MLL</tspan> translocation</text>
<rect x="366.3" y="149.00" width="5.0" height="5.0" fill="#7A1F82"/>
<text x="374.7" y="153.90" font-size="7.3" textLength="67.9" lengthAdjust="spacingAndGlyphs"><tspan font-style="italic">NUP98</tspan> translocation</text>
<rect x="366.3" y="162.30" width="5.0" height="5.0" fill="#C9CACC"/>
<text x="374.7" y="167.20" font-size="7.3" textLength="59.2" lengthAdjust="spacingAndGlyphs">Normal karyotype</text>
<rect x="366.3" y="175.90" width="5.0" height="5.0" fill="#3FB8EA"/>
<text x="374.7" y="180.80" font-size="7.3" textLength="58.7" lengthAdjust="spacingAndGlyphs"><tspan font-style="italic">RUNX1-RUNX1T1</tspan></text>
<text x="366.3" y="212.70" font-size="8" font-weight="bold" style="stroke-width:.3px" textLength="42.6" lengthAdjust="spacingAndGlyphs">FAB group</text>
<text x="476.2" y="212.70" font-size="8" font-weight="bold" style="stroke-width:.3px" textLength="15.8" lengthAdjust="spacingAndGlyphs">Age</text>
<rect x="366.3" y="220.50" width="5.0" height="5.0" fill="#AF1E23"/>
<text x="374.7" y="225.40" font-size="7.3" textLength="10.3" lengthAdjust="spacingAndGlyphs">M0</text>
<rect x="366.3" y="234.00" width="5.0" height="5.0" fill="#3FB8EA"/>
<text x="374.7" y="238.90" font-size="7.3" textLength="10.3" lengthAdjust="spacingAndGlyphs">M1</text>
<rect x="366.3" y="247.40" width="5.0" height="5.0" fill="#14602F"/>
<text x="374.7" y="252.30" font-size="7.3" textLength="10.3" lengthAdjust="spacingAndGlyphs">M2</text>
<rect x="366.3" y="260.90" width="5.0" height="5.0" fill="#F8B9C6"/>
<text x="374.7" y="265.80" font-size="7.3" textLength="10.3" lengthAdjust="spacingAndGlyphs">M3</text>
<rect x="366.3" y="274.50" width="5.0" height="5.0" fill="#C9CACC"/>
<text x="374.7" y="279.40" font-size="7.3" textLength="10.3" lengthAdjust="spacingAndGlyphs">M4</text>
<rect x="366.3" y="287.80" width="5.0" height="5.0" fill="#7A1F82"/>
<text x="374.7" y="292.70" font-size="7.3" textLength="10.3" lengthAdjust="spacingAndGlyphs">M5</text>
<rect x="476.2" y="220.50" width="5.0" height="5.0" fill="#EEF6EA"/>
<text x="484.4" y="225.40" font-size="7.3" textLength="12.3" lengthAdjust="spacingAndGlyphs">&lt;40</text>
<rect x="476.2" y="234.00" width="5.0" height="5.0" fill="#C6E3BF"/>
<text x="484.4" y="238.90" font-size="7.3" textLength="19.5" lengthAdjust="spacingAndGlyphs">40–49</text>
<rect x="476.2" y="247.40" width="5.0" height="5.0" fill="#A5D39E"/>
<text x="484.4" y="252.30" font-size="7.3" textLength="19.5" lengthAdjust="spacingAndGlyphs">50–59</text>
<rect x="476.2" y="260.90" width="5.0" height="5.0" fill="#7CC17A"/>
<text x="484.4" y="265.80" font-size="7.3" textLength="19.5" lengthAdjust="spacingAndGlyphs">60–69</text>
<rect x="476.2" y="274.50" width="5.0" height="5.0" fill="#2F9E50"/>
<text x="484.4" y="279.40" font-size="7.3" textLength="19.5" lengthAdjust="spacingAndGlyphs">70–79</text>
<rect x="476.2" y="287.80" width="5.0" height="5.0" fill="#14602F"/>
<text x="484.4" y="292.70" font-size="7.3" textLength="12.6" lengthAdjust="spacingAndGlyphs">80+</text>
<text x="426.3" y="311.00" font-size="8" font-weight="bold" style="stroke-width:.3px" textLength="13.9" lengthAdjust="spacingAndGlyphs">Sex</text>
<rect x="366.3" y="314.90" width="5.0" height="5.0" fill="#C9CACC"/>
<text x="374.7" y="319.80" font-size="7.3" textLength="23.6" lengthAdjust="spacingAndGlyphs">Female</text>
<rect x="476.2" y="314.90" width="5.0" height="5.0" fill="#FFD400"/>
<text x="484.4" y="319.80" font-size="7.3" textLength="15.8" lengthAdjust="spacingAndGlyphs">Male</text>
<text x="366.3" y="338.00" font-size="8" font-weight="bold" style="stroke-width:.3px" textLength="52.3" lengthAdjust="spacingAndGlyphs">ELN2017 risk</text>
<text x="476.2" y="337.70" font-size="8" font-weight="bold" style="stroke-width:.3px" textLength="36.7" lengthAdjust="spacingAndGlyphs"><tspan font-style="italic">DNMT3A</tspan></text>
<rect x="366.3" y="346.20" width="5.0" height="5.0" fill="#14602F"/>
<text x="374.7" y="351.10" font-size="7.3" textLength="31.9" lengthAdjust="spacingAndGlyphs">Favorable</text>
<rect x="476.2" y="345.70" width="5.0" height="5.0" fill="#9CCB98"/>
<text x="484.4" y="350.60" font-size="7.3" textLength="16.8" lengthAdjust="spacingAndGlyphs">R882</text>
<rect x="366.3" y="359.60" width="5.0" height="5.0" fill="#C9CACC"/>
<text x="374.7" y="364.50" font-size="7.3" textLength="41.9" lengthAdjust="spacingAndGlyphs">Intermediate</text>
<rect x="476.2" y="359.30" width="5.0" height="5.0" fill="#14602F"/>
<text x="484.4" y="364.20" font-size="7.3" textLength="19.3" lengthAdjust="spacingAndGlyphs">Other</text>
<rect x="366.3" y="373.00" width="5.0" height="5.0" fill="#AF1E23"/>
<text x="374.7" y="377.90" font-size="7.3" textLength="26.9" lengthAdjust="spacingAndGlyphs">Adverse</text>
<text x="424.2" y="395.80" font-size="8" font-weight="bold" style="stroke-width:.3px" textLength="18.9" lengthAdjust="spacingAndGlyphs"><tspan font-style="italic">FLT3</tspan></text>
<rect x="366.3" y="402.30" width="5.0" height="5.0" fill="#AF1E23"/>
<text x="374.7" y="407.20" font-size="7.3" textLength="27.5" lengthAdjust="spacingAndGlyphs">ITD high</text>
<rect x="476.2" y="402.40" width="5.0" height="5.0" fill="#3FB8EA"/>
<text x="484.4" y="407.30" font-size="7.3" textLength="17.7" lengthAdjust="spacingAndGlyphs">D835</text>
<rect x="366.3" y="415.70" width="5.0" height="5.0" fill="#F8B9C6"/>
<text x="374.7" y="420.60" font-size="7.3" textLength="24.6" lengthAdjust="spacingAndGlyphs">ITD low</text>
<rect x="476.2" y="415.90" width="5.0" height="5.0" fill="#21207F"/>
<text x="484.4" y="420.80" font-size="7.3" textLength="17.7" lengthAdjust="spacingAndGlyphs">D839</text>
<g shape-rendering="crispEdges"><rect x="0" y="0" width="520" height="1" fill="#000"/><rect x="0" y="0" width="1" height="430" fill="#000"/><rect x="518.7" y="0" width="1.3" height="430" fill="#000"/><rect x="0" y="428" width="520" height="2" fill="#000"/></g>
</svg>
</body></html>
